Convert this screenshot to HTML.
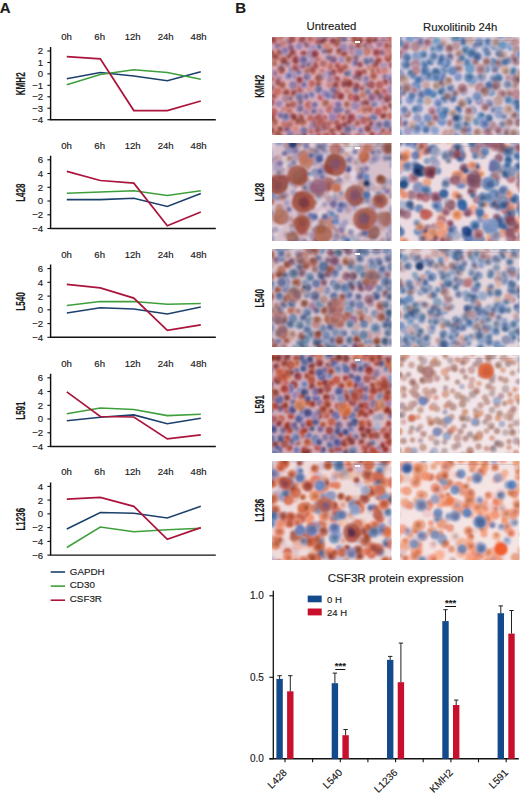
<!DOCTYPE html>
<html><head><meta charset="utf-8"><style>
html,body{margin:0;padding:0;background:#fff;width:520px;height:796px;overflow:hidden}
svg{display:block}
text{fill:#1a1a1a;stroke:#1a1a1a;stroke-width:0.15px;font-family:"Liberation Sans",sans-serif}
</style></head><body>
<svg width="520" height="796" viewBox="0 0 520 796">
<defs><filter id="bl" x="-5%" y="-5%" width="110%" height="110%"><feGaussianBlur stdDeviation="1.3"/></filter><filter id="bb" x="-10%" y="-10%" width="120%" height="120%"><feGaussianBlur stdDeviation="9"/></filter></defs>
<text x="-0.2" y="12.5" font-size="15" font-weight="bold" >A</text>
<text x="235.2" y="12.6" font-size="15" font-weight="bold" >B</text>
<text x="66.5" y="40.0" font-size="9.6" text-anchor="middle" >0h</text>
<text x="99.7" y="40.0" font-size="9.6" text-anchor="middle" >6h</text>
<text x="132.7" y="40.0" font-size="9.6" text-anchor="middle" >12h</text>
<text x="165.7" y="40.0" font-size="9.6" text-anchor="middle" >24h</text>
<text x="198.6" y="40.0" font-size="9.6" text-anchor="middle" >48h</text>
<path d="M50.6 47.0V119.7H215.8" fill="none" stroke="#111" stroke-width="1.45"/>
<path d="M47.4 51.0H50.6" stroke="#111" stroke-width="1.1"/>
<text x="43.2" y="54.4" font-size="9.6" text-anchor="end" >2</text>
<path d="M47.4 62.5H50.6" stroke="#111" stroke-width="1.1"/>
<text x="43.2" y="65.9" font-size="9.6" text-anchor="end" >1</text>
<path d="M47.4 73.9H50.6" stroke="#111" stroke-width="1.1"/>
<text x="43.2" y="77.3" font-size="9.6" text-anchor="end" >0</text>
<path d="M47.4 85.3H50.6" stroke="#111" stroke-width="1.1"/>
<text x="43.2" y="88.8" font-size="9.6" text-anchor="end" >−1</text>
<path d="M47.4 96.8H50.6" stroke="#111" stroke-width="1.1"/>
<text x="43.2" y="100.2" font-size="9.6" text-anchor="end" >−2</text>
<path d="M47.4 108.2H50.6" stroke="#111" stroke-width="1.1"/>
<text x="43.2" y="111.7" font-size="9.6" text-anchor="end" >−3</text>
<path d="M47.4 119.7H50.6" stroke="#111" stroke-width="1.1"/>
<text x="43.2" y="123.1" font-size="9.6" text-anchor="end" >−4</text>
<text transform="translate(25.2 83.8) rotate(-90) scale(0.64 1)" font-size="12.6" font-weight="bold" text-anchor="middle" >KMH2</text>
<polyline points="66.8,78.8 100.3,72.5 133.8,76.0 167.3,80.8 200.8,71.7" fill="none" stroke="#1c406c" stroke-width="1.55" stroke-linejoin="miter"/>
<polyline points="66.8,84.7 100.3,74.6 133.8,69.7 167.3,72.5 200.8,79.3" fill="none" stroke="#3ea03c" stroke-width="1.55" stroke-linejoin="miter"/>
<polyline points="66.8,56.7 100.3,58.8 133.8,110.5 167.3,110.5 200.8,101.0" fill="none" stroke="#ac143c" stroke-width="1.75" stroke-linejoin="miter"/>
<text x="66.5" y="148.8" font-size="9.6" text-anchor="middle" >0h</text>
<text x="99.7" y="148.8" font-size="9.6" text-anchor="middle" >6h</text>
<text x="132.7" y="148.8" font-size="9.6" text-anchor="middle" >12h</text>
<text x="165.7" y="148.8" font-size="9.6" text-anchor="middle" >24h</text>
<text x="198.6" y="148.8" font-size="9.6" text-anchor="middle" >48h</text>
<path d="M50.6 155.8V228.5H215.8" fill="none" stroke="#111" stroke-width="1.45"/>
<path d="M47.4 159.8H50.6" stroke="#111" stroke-width="1.1"/>
<text x="43.2" y="163.2" font-size="9.6" text-anchor="end" >6</text>
<path d="M47.4 173.5H50.6" stroke="#111" stroke-width="1.1"/>
<text x="43.2" y="176.9" font-size="9.6" text-anchor="end" >4</text>
<path d="M47.4 187.3H50.6" stroke="#111" stroke-width="1.1"/>
<text x="43.2" y="190.7" font-size="9.6" text-anchor="end" >2</text>
<path d="M47.4 201.0H50.6" stroke="#111" stroke-width="1.1"/>
<text x="43.2" y="204.4" font-size="9.6" text-anchor="end" >0</text>
<path d="M47.4 214.8H50.6" stroke="#111" stroke-width="1.1"/>
<text x="43.2" y="218.2" font-size="9.6" text-anchor="end" >−2</text>
<path d="M47.4 228.5H50.6" stroke="#111" stroke-width="1.1"/>
<text x="43.2" y="231.9" font-size="9.6" text-anchor="end" >−4</text>
<text transform="translate(25.2 192.7) rotate(-90) scale(0.64 1)" font-size="12.6" font-weight="bold" text-anchor="middle" >L428</text>
<polyline points="66.8,199.6 100.3,199.6 133.8,198.3 167.3,206.5 200.8,193.5" fill="none" stroke="#1c406c" stroke-width="1.55" stroke-linejoin="miter"/>
<polyline points="66.8,193.3 100.3,192.1 133.8,190.7 167.3,195.5 200.8,190.7" fill="none" stroke="#3ea03c" stroke-width="1.55" stroke-linejoin="miter"/>
<polyline points="66.8,171.3 100.3,180.5 133.8,183.2 167.3,225.8 200.8,212.0" fill="none" stroke="#ac143c" stroke-width="1.75" stroke-linejoin="miter"/>
<text x="66.5" y="257.6" font-size="9.6" text-anchor="middle" >0h</text>
<text x="99.7" y="257.6" font-size="9.6" text-anchor="middle" >6h</text>
<text x="132.7" y="257.6" font-size="9.6" text-anchor="middle" >12h</text>
<text x="165.7" y="257.6" font-size="9.6" text-anchor="middle" >24h</text>
<text x="198.6" y="257.6" font-size="9.6" text-anchor="middle" >48h</text>
<path d="M50.6 264.6V337.3H215.8" fill="none" stroke="#111" stroke-width="1.45"/>
<path d="M47.4 268.6H50.6" stroke="#111" stroke-width="1.1"/>
<text x="43.2" y="272.0" font-size="9.6" text-anchor="end" >6</text>
<path d="M47.4 282.3H50.6" stroke="#111" stroke-width="1.1"/>
<text x="43.2" y="285.7" font-size="9.6" text-anchor="end" >4</text>
<path d="M47.4 296.1H50.6" stroke="#111" stroke-width="1.1"/>
<text x="43.2" y="299.5" font-size="9.6" text-anchor="end" >2</text>
<path d="M47.4 309.8H50.6" stroke="#111" stroke-width="1.1"/>
<text x="43.2" y="313.2" font-size="9.6" text-anchor="end" >0</text>
<path d="M47.4 323.6H50.6" stroke="#111" stroke-width="1.1"/>
<text x="43.2" y="327.0" font-size="9.6" text-anchor="end" >−2</text>
<path d="M47.4 337.3H50.6" stroke="#111" stroke-width="1.1"/>
<text x="43.2" y="340.7" font-size="9.6" text-anchor="end" >−4</text>
<text transform="translate(25.2 301.5) rotate(-90) scale(0.64 1)" font-size="12.6" font-weight="bold" text-anchor="middle" >L540</text>
<polyline points="66.8,313.0 100.3,307.8 133.8,309.1 167.3,313.9 200.8,307.1" fill="none" stroke="#1c406c" stroke-width="1.55" stroke-linejoin="miter"/>
<polyline points="66.8,305.6 100.3,301.6 133.8,301.6 167.3,304.3 200.8,303.6" fill="none" stroke="#3ea03c" stroke-width="1.55" stroke-linejoin="miter"/>
<polyline points="66.8,284.3 100.3,287.8 133.8,298.1 167.3,330.4 200.8,324.9" fill="none" stroke="#ac143c" stroke-width="1.75" stroke-linejoin="miter"/>
<text x="66.5" y="366.8" font-size="9.6" text-anchor="middle" >0h</text>
<text x="99.7" y="366.8" font-size="9.6" text-anchor="middle" >6h</text>
<text x="132.7" y="366.8" font-size="9.6" text-anchor="middle" >12h</text>
<text x="165.7" y="366.8" font-size="9.6" text-anchor="middle" >24h</text>
<text x="198.6" y="366.8" font-size="9.6" text-anchor="middle" >48h</text>
<path d="M50.6 373.8V446.5H215.8" fill="none" stroke="#111" stroke-width="1.45"/>
<path d="M47.4 377.8H50.6" stroke="#111" stroke-width="1.1"/>
<text x="43.2" y="381.2" font-size="9.6" text-anchor="end" >6</text>
<path d="M47.4 391.5H50.6" stroke="#111" stroke-width="1.1"/>
<text x="43.2" y="394.9" font-size="9.6" text-anchor="end" >4</text>
<path d="M47.4 405.3H50.6" stroke="#111" stroke-width="1.1"/>
<text x="43.2" y="408.7" font-size="9.6" text-anchor="end" >2</text>
<path d="M47.4 419.0H50.6" stroke="#111" stroke-width="1.1"/>
<text x="43.2" y="422.4" font-size="9.6" text-anchor="end" >0</text>
<path d="M47.4 432.8H50.6" stroke="#111" stroke-width="1.1"/>
<text x="43.2" y="436.2" font-size="9.6" text-anchor="end" >−2</text>
<path d="M47.4 446.5H50.6" stroke="#111" stroke-width="1.1"/>
<text x="43.2" y="449.9" font-size="9.6" text-anchor="end" >−4</text>
<text transform="translate(25.2 410.6) rotate(-90) scale(0.64 1)" font-size="12.6" font-weight="bold" text-anchor="middle" >L591</text>
<polyline points="66.8,420.7 100.3,417.2 133.8,414.9 167.3,423.8 200.8,418.3" fill="none" stroke="#1c406c" stroke-width="1.55" stroke-linejoin="miter"/>
<polyline points="66.8,413.7 100.3,408.0 133.8,409.4 167.3,415.6 200.8,414.2" fill="none" stroke="#3ea03c" stroke-width="1.55" stroke-linejoin="miter"/>
<polyline points="66.8,391.9 100.3,416.5 133.8,417.0 167.3,438.9 200.8,434.8" fill="none" stroke="#ac143c" stroke-width="1.75" stroke-linejoin="miter"/>
<text x="66.5" y="475.4" font-size="9.6" text-anchor="middle" >0h</text>
<text x="99.7" y="475.4" font-size="9.6" text-anchor="middle" >6h</text>
<text x="132.7" y="475.4" font-size="9.6" text-anchor="middle" >12h</text>
<text x="165.7" y="475.4" font-size="9.6" text-anchor="middle" >24h</text>
<text x="198.6" y="475.4" font-size="9.6" text-anchor="middle" >48h</text>
<path d="M50.6 482.4V555.1H215.8" fill="none" stroke="#111" stroke-width="1.45"/>
<path d="M47.4 486.4H50.6" stroke="#111" stroke-width="1.1"/>
<text x="43.2" y="489.8" font-size="9.6" text-anchor="end" >4</text>
<path d="M47.4 500.1H50.6" stroke="#111" stroke-width="1.1"/>
<text x="43.2" y="503.5" font-size="9.6" text-anchor="end" >2</text>
<path d="M47.4 513.9H50.6" stroke="#111" stroke-width="1.1"/>
<text x="43.2" y="517.3" font-size="9.6" text-anchor="end" >0</text>
<path d="M47.4 527.6H50.6" stroke="#111" stroke-width="1.1"/>
<text x="43.2" y="531.0" font-size="9.6" text-anchor="end" >−2</text>
<path d="M47.4 541.4H50.6" stroke="#111" stroke-width="1.1"/>
<text x="43.2" y="544.8" font-size="9.6" text-anchor="end" >−4</text>
<path d="M47.4 555.1H50.6" stroke="#111" stroke-width="1.1"/>
<text x="43.2" y="558.5" font-size="9.6" text-anchor="end" >−6</text>
<text transform="translate(25.2 519.2) rotate(-90) scale(0.64 1)" font-size="12.6" font-weight="bold" text-anchor="middle" >L1236</text>
<polyline points="66.8,529.0 100.3,512.5 133.8,513.2 167.3,518.0 200.8,506.3" fill="none" stroke="#1c406c" stroke-width="1.55" stroke-linejoin="miter"/>
<polyline points="66.8,547.5 100.3,527.1 133.8,531.7 167.3,529.7 200.8,528.3" fill="none" stroke="#3ea03c" stroke-width="1.55" stroke-linejoin="miter"/>
<polyline points="66.8,499.1 100.3,497.5 133.8,506.3 167.3,539.3 200.8,527.6" fill="none" stroke="#ac143c" stroke-width="1.75" stroke-linejoin="miter"/>
<path d="M50.7 572.0H65.1" stroke="#1c406c" stroke-width="1.6"/>
<text x="69.8" y="574.9" font-size="9.8" >GAPDH</text>
<path d="M50.7 586.1H65.1" stroke="#3ea03c" stroke-width="1.6"/>
<text x="69.8" y="588.4" font-size="9.8" >CD30</text>
<path d="M50.7 600.2H65.1" stroke="#ac143c" stroke-width="1.6"/>
<text x="69.8" y="601.9" font-size="9.8" >CSF3R</text>
<text x="331.5" y="30.2" font-size="11.35" text-anchor="middle" >Untreated</text>
<text x="460.2" y="30.8" font-size="11.35" text-anchor="middle" >Ruxolitinib 24h</text>
<text transform="translate(264.4 86.3) rotate(-90) scale(0.68 1)" font-size="12" font-weight="bold" text-anchor="middle" >KMH2</text>
<clipPath id="c00"><rect x="272" y="37" width="119.5" height="98"/></clipPath>
<g clip-path="url(#c00)"><rect x="272" y="37" width="119.5" height="98" fill="#d6aab6"/><g filter="url(#bl)">
<g fill-opacity="0.88" stroke="#eec8cc" stroke-opacity="0.55" stroke-width="1.2">
<circle cx="289" cy="106" r="4.5" fill="#b2625e"/>
<circle cx="340" cy="51.5" r="4.5" fill="#b3605b"/>
<circle cx="274" cy="78" r="4" fill="#b65c59"/>
<circle cx="361" cy="119" r="4.5" fill="#7b7fbe"/>
<circle cx="300" cy="91" r="4.5" fill="#c46666"/>
<circle cx="287" cy="63.5" r="4.5" fill="#a57790"/>
<circle cx="399.5" cy="66.5" r="4" fill="#727eaa"/>
<circle cx="289" cy="41.5" r="4.5" fill="#9a6c88"/>
<circle cx="313.5" cy="59" r="4.5" fill="#8c8cba"/>
<circle cx="377" cy="93" r="4.5" fill="#b35e4f"/>
<circle cx="307" cy="33" r="4.5" fill="#c37d76"/>
<circle cx="310.5" cy="89" r="5" fill="#d28982"/>
<circle cx="292.5" cy="70.5" r="4.5" fill="#7a7dad"/>
<circle cx="329.5" cy="141.5" r="4.5" fill="#b96858"/>
<circle cx="390.5" cy="116" r="4" fill="#b76352"/>
<circle cx="363" cy="104" r="4.5" fill="#a27092"/>
<circle cx="274.5" cy="142" r="4" fill="#8789ba"/>
<circle cx="352.5" cy="50.5" r="4.5" fill="#a3718d"/>
<circle cx="266.5" cy="111.5" r="4.5" fill="#bf5e59"/>
<circle cx="297.5" cy="121.5" r="4.5" fill="#b7605a"/>
<circle cx="393.5" cy="45.5" r="4.5" fill="#a5718e"/>
<circle cx="396" cy="142" r="4" fill="#8782aa"/>
<circle cx="290.5" cy="97.5" r="4" fill="#a87790"/>
<circle cx="388" cy="52" r="5" fill="#c66d60"/>
<circle cx="322" cy="72.5" r="4" fill="#bd625b"/>
<circle cx="288" cy="56.5" r="4" fill="#af5c51"/>
<circle cx="332" cy="105.5" r="4" fill="#d08281"/>
<circle cx="365" cy="46" r="4" fill="#a57895"/>
<circle cx="280" cy="38" r="4" fill="#bc665c"/>
<circle cx="266" cy="47" r="4.5" fill="#9f4f53"/>
<circle cx="295" cy="76" r="4" fill="#9984ad"/>
<circle cx="299" cy="72" r="4" fill="#9685ba"/>
<circle cx="370.5" cy="66.5" r="4.5" fill="#c2746d"/>
<circle cx="354" cy="144" r="5" fill="#9481b4"/>
<circle cx="313" cy="48.5" r="4.5" fill="#9c86c0"/>
<circle cx="266.5" cy="35" r="4" fill="#bc685c"/>
<circle cx="363.5" cy="72.5" r="4.5" fill="#c87774"/>
<circle cx="318.5" cy="61.5" r="4.5" fill="#b9625f"/>
<circle cx="385.5" cy="77" r="4" fill="#8c81b5"/>
<circle cx="296" cy="31" r="5" fill="#b45d52"/>
<circle cx="371.5" cy="122.5" r="4.5" fill="#9f4446"/>
<circle cx="369.5" cy="48" r="4.5" fill="#a6779b"/>
<circle cx="397.5" cy="51" r="4" fill="#8476aa"/>
<circle cx="369" cy="144" r="5" fill="#c3655c"/>
<circle cx="378.5" cy="61" r="4.5" fill="#ba5d59"/>
<circle cx="369.5" cy="119" r="4" fill="#c17673"/>
<circle cx="280" cy="130" r="4.5" fill="#a95a4b"/>
<circle cx="284.5" cy="111" r="5" fill="#c97d7a"/>
<circle cx="329.5" cy="73.5" r="4.5" fill="#9f8cbe"/>
<circle cx="278.5" cy="79.5" r="4" fill="#a06e95"/>
<circle cx="384.5" cy="92" r="4" fill="#b6575d"/>
<circle cx="363" cy="88.5" r="4" fill="#bb625e"/>
<circle cx="303" cy="122" r="4.5" fill="#be6c5f"/>
<circle cx="281" cy="67.5" r="4.5" fill="#9685ad"/>
<circle cx="272" cy="130.5" r="4.5" fill="#af5b53"/>
<circle cx="340.5" cy="109.5" r="4" fill="#7e85ba"/>
<circle cx="272" cy="53" r="4" fill="#c66663"/>
<circle cx="366.5" cy="83.5" r="4.5" fill="#b089a6"/>
<circle cx="278" cy="46.5" r="4.5" fill="#9d88b9"/>
<circle cx="277" cy="32" r="4" fill="#8e80af"/>
<circle cx="367" cy="61" r="4.5" fill="#7380b0"/>
<circle cx="280" cy="52.5" r="4.5" fill="#b15a54"/>
<circle cx="371" cy="85" r="5" fill="#a14f52"/>
<circle cx="302.5" cy="40.5" r="5" fill="#98474e"/>
<circle cx="338.5" cy="40" r="5" fill="#c58277"/>
<circle cx="337" cy="31" r="4.5" fill="#a15049"/>
<circle cx="281" cy="70" r="5" fill="#b65f56"/>
<circle cx="347.5" cy="73.5" r="4.5" fill="#7b81af"/>
<circle cx="385.5" cy="82" r="4" fill="#b5555d"/>
<circle cx="393" cy="82.5" r="4.5" fill="#b35f63"/>
<circle cx="391.5" cy="105" r="4.5" fill="#b0575b"/>
<circle cx="390.5" cy="39" r="4.5" fill="#c2665e"/>
<circle cx="300" cy="143.5" r="4" fill="#9f89b5"/>
<circle cx="355.5" cy="33" r="4" fill="#8579a9"/>
<circle cx="300.5" cy="117.5" r="4.5" fill="#b3645e"/>
<circle cx="330" cy="123" r="4" fill="#cf8379"/>
<circle cx="334" cy="95.5" r="4.5" fill="#ab789c"/>
<circle cx="343.5" cy="125.5" r="4.5" fill="#b4545e"/>
<circle cx="359.5" cy="78" r="4" fill="#a57e95"/>
<circle cx="266.5" cy="61" r="4.5" fill="#9f6a8f"/>
<circle cx="343.5" cy="38.5" r="4.5" fill="#8d82af"/>
<circle cx="393" cy="97.5" r="5" fill="#8e78ac"/>
<circle cx="320" cy="112.5" r="4.5" fill="#b283a5"/>
<circle cx="291" cy="34.5" r="4.5" fill="#b65858"/>
<circle cx="311.5" cy="95" r="4" fill="#8689bf"/>
<circle cx="330" cy="109.5" r="5" fill="#bb6467"/>
<circle cx="359.5" cy="108.5" r="4" fill="#bc6f67"/>
<circle cx="315" cy="66" r="5" fill="#bb6763"/>
<circle cx="336.5" cy="80" r="4.5" fill="#9e474c"/>
<circle cx="310.5" cy="54" r="4.5" fill="#8a80b1"/>
<circle cx="290.5" cy="48.5" r="5" fill="#a37093"/>
<circle cx="287.5" cy="141" r="4.5" fill="#8e7aae"/>
<circle cx="351.5" cy="47.5" r="4" fill="#a57a96"/>
<circle cx="342" cy="59.5" r="4" fill="#9987bc"/>
<circle cx="379.5" cy="85" r="4.5" fill="#b35b59"/>
<circle cx="320.5" cy="46" r="4.5" fill="#7679a9"/>
<circle cx="308.5" cy="64.5" r="4" fill="#9178a9"/>
<circle cx="348" cy="90" r="4.5" fill="#c47c74"/>
<circle cx="383.5" cy="115.5" r="4" fill="#a34844"/>
<circle cx="294" cy="92.5" r="4.5" fill="#ad5656"/>
<circle cx="373.5" cy="71" r="4" fill="#c57b68"/>
<circle cx="324" cy="118.5" r="4" fill="#b05053"/>
<circle cx="355" cy="105.5" r="5" fill="#9583b3"/>
<circle cx="336.5" cy="91" r="4.5" fill="#b35b59"/>
<circle cx="366.5" cy="51.5" r="5" fill="#c07a6d"/>
<circle cx="382" cy="144" r="4.5" fill="#a94953"/>
<circle cx="388.5" cy="143" r="5" fill="#8b7ba8"/>
<circle cx="335.5" cy="85.5" r="4.5" fill="#b45550"/>
<circle cx="359.5" cy="64.5" r="4" fill="#b45852"/>
<circle cx="330" cy="84.5" r="4" fill="#c56e63"/>
<circle cx="313.5" cy="137.5" r="4.5" fill="#8483ba"/>
<circle cx="270.5" cy="87" r="5" fill="#928bb5"/>
<circle cx="358.5" cy="46" r="4" fill="#a65752"/>
<circle cx="384.5" cy="101.5" r="4" fill="#9581b5"/>
<circle cx="396" cy="124" r="5" fill="#c48171"/>
<circle cx="303.5" cy="54" r="4" fill="#b35251"/>
<circle cx="324.5" cy="50.5" r="4" fill="#887baa"/>
<circle cx="397.5" cy="37.5" r="4.5" fill="#a67296"/>
<circle cx="292.5" cy="53" r="4.5" fill="#a85259"/>
<circle cx="272.5" cy="117" r="5" fill="#b8595c"/>
<circle cx="275.5" cy="57.5" r="5" fill="#b65f5a"/>
<circle cx="272.5" cy="89" r="4" fill="#b85c5c"/>
<circle cx="286" cy="92.5" r="4.5" fill="#ae564f"/>
<circle cx="307" cy="45" r="4" fill="#9f728a"/>
<circle cx="296" cy="67.5" r="4.5" fill="#a65050"/>
<circle cx="333" cy="72" r="4.5" fill="#b1555b"/>
<circle cx="398" cy="114" r="4.5" fill="#bc685d"/>
<circle cx="289.5" cy="112" r="4" fill="#bd6962"/>
<circle cx="318" cy="130" r="4.5" fill="#ae5355"/>
<circle cx="362" cy="138" r="4.5" fill="#9b434f"/>
<circle cx="336.5" cy="122.5" r="4.5" fill="#bd655d"/>
<circle cx="281.5" cy="85" r="5" fill="#be685c"/>
<circle cx="348" cy="112" r="4" fill="#a77593"/>
<circle cx="318.5" cy="117" r="4" fill="#a85154"/>
<circle cx="303.5" cy="136.5" r="4.5" fill="#a14e53"/>
<circle cx="366" cy="79" r="4" fill="#9c8bb9"/>
<circle cx="392.5" cy="64.5" r="4.5" fill="#a44951"/>
<circle cx="269.5" cy="98" r="5" fill="#9986b7"/>
<circle cx="299.5" cy="101.5" r="5" fill="#a77e9b"/>
<circle cx="296" cy="60" r="5" fill="#a84b54"/>
<circle cx="397" cy="104" r="4" fill="#ac544e"/>
<circle cx="385.5" cy="33" r="4.5" fill="#a57598"/>
<circle cx="277.5" cy="134.5" r="5" fill="#bd6655"/>
<circle cx="388" cy="58.5" r="4.5" fill="#b6615b"/>
<circle cx="375" cy="64" r="5" fill="#b35f5a"/>
<circle cx="367.5" cy="93" r="5" fill="#968db7"/>
<circle cx="321" cy="97" r="4" fill="#b5535f"/>
<circle cx="338.5" cy="140.5" r="4" fill="#a35156"/>
<circle cx="337.5" cy="65.5" r="4" fill="#be5d5a"/>
<circle cx="338" cy="105" r="4.5" fill="#957fb8"/>
<circle cx="353" cy="127" r="4" fill="#877da4"/>
<circle cx="361" cy="130.5" r="4" fill="#9a86bb"/>
<circle cx="267" cy="134.5" r="5" fill="#897ca6"/>
<circle cx="339" cy="127.5" r="5" fill="#ac5055"/>
<circle cx="394" cy="108" r="4.5" fill="#a47b9a"/>
<circle cx="338" cy="115.5" r="4" fill="#ae5257"/>
<circle cx="299" cy="85.5" r="4.5" fill="#be645f"/>
<circle cx="358" cy="137.5" r="4.5" fill="#a74c4c"/>
<circle cx="351.5" cy="97" r="4.5" fill="#b3584c"/>
<circle cx="383" cy="131.5" r="5" fill="#9a494b"/>
<circle cx="397.5" cy="89.5" r="5" fill="#8776a2"/>
<circle cx="333" cy="41.5" r="4.5" fill="#b04f5c"/>
<circle cx="379.5" cy="70.5" r="4" fill="#bd5e5b"/>
<circle cx="304" cy="85" r="4" fill="#8c81b8"/>
<circle cx="319" cy="136.5" r="4.5" fill="#bd5d62"/>
<circle cx="376.5" cy="127" r="5" fill="#8a89c3"/>
<circle cx="378" cy="143" r="4.5" fill="#a85855"/>
<circle cx="355" cy="58" r="4.5" fill="#a87c96"/>
<circle cx="273.5" cy="112.5" r="5" fill="#b95a5c"/>
<circle cx="357.5" cy="123" r="4" fill="#bf6e6b"/>
<circle cx="366.5" cy="102.5" r="4.5" fill="#ae5d56"/>
<circle cx="329" cy="50" r="4.5" fill="#b15c59"/>
<circle cx="384.5" cy="108.5" r="4" fill="#c9736c"/>
<circle cx="300" cy="108.5" r="4.5" fill="#8976a5"/>
<circle cx="305" cy="96.5" r="4.5" fill="#8f76ac"/>
<circle cx="355.5" cy="89" r="5" fill="#827db3"/>
<circle cx="391.5" cy="129" r="4.5" fill="#ab7692"/>
<circle cx="310.5" cy="130.5" r="4" fill="#ba5b55"/>
<circle cx="344" cy="135" r="4.5" fill="#aa5555"/>
<circle cx="383" cy="41" r="4" fill="#9d7393"/>
<circle cx="325.5" cy="103" r="4.5" fill="#b97164"/>
<circle cx="364" cy="120.5" r="4.5" fill="#b3605c"/>
<circle cx="379" cy="125" r="4.5" fill="#9382a8"/>
<circle cx="348.5" cy="121.5" r="4" fill="#a14f52"/>
<circle cx="268" cy="123" r="4.5" fill="#aa779c"/>
<circle cx="298" cy="137" r="4" fill="#9d4649"/>
<circle cx="295" cy="130" r="4.5" fill="#d18278"/>
<circle cx="349" cy="59.5" r="4.5" fill="#c07a6e"/>
<circle cx="313.5" cy="111" r="4" fill="#8a77a4"/>
<circle cx="374" cy="104" r="4.5" fill="#888ebf"/>
<circle cx="382" cy="52.5" r="4" fill="#a47694"/>
<circle cx="330" cy="79.5" r="4" fill="#ac7f9c"/>
<circle cx="328" cy="95" r="5" fill="#838bc3"/>
<circle cx="314" cy="31" r="4" fill="#b17ca4"/>
<circle cx="312" cy="70.5" r="5" fill="#bb5f5a"/>
<circle cx="274.5" cy="95.5" r="4" fill="#b65e60"/>
<circle cx="380" cy="97" r="4.5" fill="#a37499"/>
<circle cx="355.5" cy="63" r="4" fill="#887cad"/>
<circle cx="309" cy="105.5" r="5" fill="#be5d56"/>
<circle cx="333" cy="90" r="4.5" fill="#8e7fb1"/>
<circle cx="307" cy="71" r="4.5" fill="#c27e74"/>
<circle cx="326" cy="35.5" r="4.5" fill="#7576ae"/>
<circle cx="345.5" cy="80.5" r="4.5" fill="#d27d7b"/>
<circle cx="375" cy="39.5" r="4" fill="#a34d56"/>
<circle cx="340" cy="33.5" r="5" fill="#ad5b52"/>
<circle cx="329" cy="59" r="5" fill="#9484ab"/>
<circle cx="323" cy="40" r="5" fill="#9d494d"/>
<circle cx="302.5" cy="65.5" r="4" fill="#a17196"/>
<circle cx="288.5" cy="76" r="4" fill="#8181c0"/>
<circle cx="359.5" cy="140" r="4" fill="#9889b6"/>
<circle cx="307" cy="77" r="4.5" fill="#8d7baa"/>
<circle cx="347" cy="104.5" r="4" fill="#bc7469"/>
<circle cx="281.5" cy="143.5" r="4" fill="#c97f76"/>
<circle cx="344" cy="118" r="4" fill="#c06d67"/>
<circle cx="362" cy="32" r="4.5" fill="#a55350"/>
<circle cx="352" cy="32.5" r="5" fill="#b35a55"/>
<circle cx="374" cy="116.5" r="4.5" fill="#7b84bc"/>
<circle cx="386.5" cy="46" r="4" fill="#bf6761"/>
<circle cx="332.5" cy="117" r="4.5" fill="#937aaf"/>
<circle cx="282.5" cy="44.5" r="4.5" fill="#c17674"/>
<circle cx="318" cy="40.5" r="4.5" fill="#a24e55"/>
<circle cx="337" cy="43.5" r="4.5" fill="#bb6b61"/>
<circle cx="344" cy="53" r="4.5" fill="#b45b54"/>
<circle cx="332" cy="131.5" r="4.5" fill="#b35f56"/>
<circle cx="356.5" cy="98" r="4.5" fill="#a9505a"/>
<circle cx="299.5" cy="97" r="5" fill="#8e86b0"/>
<circle cx="356" cy="86.5" r="5" fill="#ae5d63"/>
<circle cx="340.5" cy="96" r="4.5" fill="#aa4d51"/>
<circle cx="376.5" cy="52.5" r="4.5" fill="#af5158"/>
<circle cx="281" cy="115" r="4" fill="#8c7aad"/>
<circle cx="393" cy="31" r="4.5" fill="#996a8b"/>
<circle cx="294.5" cy="140.5" r="4.5" fill="#858dbf"/>
<circle cx="315" cy="143.5" r="4" fill="#ca7a75"/>
<circle cx="293" cy="117" r="4.5" fill="#9d494b"/>
<circle cx="336.5" cy="110" r="4.5" fill="#9b84b7"/>
<circle cx="285.5" cy="99" r="4" fill="#a87f95"/>
<circle cx="379.5" cy="44.5" r="4" fill="#a57295"/>
<circle cx="321.5" cy="123" r="4.5" fill="#c16a5c"/>
<circle cx="384" cy="67" r="4.5" fill="#9889bb"/>
<circle cx="287.5" cy="129" r="4.5" fill="#a46a90"/>
<circle cx="274" cy="63" r="4" fill="#c77c6e"/>
<circle cx="308.5" cy="143.5" r="5" fill="#b07c9d"/>
<circle cx="290.5" cy="135" r="5" fill="#8d7fae"/>
<circle cx="313" cy="125" r="4.5" fill="#9083b3"/>
<circle cx="348.5" cy="138" r="5" fill="#ae5657"/>
<circle cx="397" cy="76" r="4.5" fill="#8f8dc2"/>
<circle cx="391.5" cy="89.5" r="4.5" fill="#9680b2"/>
<circle cx="344.5" cy="84" r="4.5" fill="#a7545b"/>
<circle cx="394.5" cy="134" r="5" fill="#7379b4"/>
<circle cx="393" cy="56.5" r="5" fill="#bd675e"/>
<circle cx="326.5" cy="46.5" r="4" fill="#cb8776"/>
<circle cx="318" cy="83.5" r="4.5" fill="#ac544d"/>
<circle cx="293" cy="104.5" r="4" fill="#b15d58"/>
<circle cx="310.5" cy="118" r="4" fill="#b75b54"/>
<circle cx="312" cy="83.5" r="4" fill="#bb6058"/>
<circle cx="359" cy="40" r="5" fill="#b35652"/>
<circle cx="396" cy="72" r="4.5" fill="#ab5550"/>
<circle cx="384.5" cy="70.5" r="4" fill="#ce807c"/>
<circle cx="322" cy="76.5" r="4.5" fill="#9c8cb4"/>
<circle cx="355.5" cy="77" r="4" fill="#a47591"/>
<circle cx="318.5" cy="89.5" r="5" fill="#8982af"/>
<circle cx="325" cy="141.5" r="4.5" fill="#b37c9a"/>
<circle cx="365" cy="110" r="4.5" fill="#c7776d"/>
<circle cx="329.5" cy="66" r="4" fill="#b76051"/>
<circle cx="391" cy="78" r="4.5" fill="#9c8eb8"/>
<circle cx="398.5" cy="130" r="4" fill="#797eae"/>
<circle cx="290.5" cy="123.5" r="4.5" fill="#cf827d"/>
<circle cx="371.5" cy="33.5" r="5" fill="#b05857"/>
<circle cx="323.5" cy="64" r="5" fill="#cd8384"/>
<circle cx="343.5" cy="47.5" r="4.5" fill="#9480b4"/>
<circle cx="306.5" cy="112" r="4" fill="#ac7e9d"/>
<circle cx="315" cy="54" r="4.5" fill="#9c4552"/>
<circle cx="373.5" cy="76" r="4.5" fill="#bf6b62"/>
<circle cx="292.5" cy="39" r="4.5" fill="#bc6361"/>
<circle cx="368" cy="128.5" r="4.5" fill="#a45758"/>
<circle cx="387" cy="124" r="5" fill="#7b80b2"/>
<circle cx="369" cy="40.5" r="4.5" fill="#a95455"/>
<circle cx="303.5" cy="131" r="5" fill="#9286b2"/>
<circle cx="273.5" cy="40" r="4.5" fill="#b55756"/>
<circle cx="281" cy="137.5" r="4" fill="#a7514f"/>
<circle cx="349" cy="83.5" r="5" fill="#a64c4a"/>
<circle cx="344.5" cy="140" r="4.5" fill="#ae554d"/>
<circle cx="388" cy="134.5" r="4.5" fill="#cb7a75"/>
<circle cx="359" cy="52.5" r="4.5" fill="#8a87b9"/>
<circle cx="299.5" cy="80" r="4" fill="#a44b55"/>
<circle cx="372" cy="97.5" r="5" fill="#a47399"/>
<circle cx="355" cy="39.5" r="4.5" fill="#bb6958"/>
<circle cx="323" cy="128.5" r="4" fill="#9b7089"/>
<circle cx="283.5" cy="60.5" r="4.5" fill="#a95553"/>
<circle cx="272" cy="102.5" r="4" fill="#af575c"/>
<circle cx="372.5" cy="135" r="4" fill="#b45954"/>
<circle cx="378" cy="32" r="4.5" fill="#b8809f"/>
<circle cx="303.5" cy="60" r="5" fill="#857aad"/>
<circle cx="333.5" cy="59.5" r="4.5" fill="#a57097"/>
<circle cx="314.5" cy="105" r="4" fill="#9081b2"/>
<circle cx="345" cy="67" r="4" fill="#be685e"/>
<circle cx="293" cy="85" r="4.5" fill="#8877a4"/>
<circle cx="333.5" cy="137" r="4.5" fill="#a84e56"/>
<circle cx="387.5" cy="98.5" r="5" fill="#ab5a5f"/>
<circle cx="277.5" cy="91.5" r="4.5" fill="#c56a60"/>
<circle cx="351.5" cy="118" r="5" fill="#ac515f"/>
<circle cx="283" cy="33" r="4.5" fill="#a45050"/>
<circle cx="320" cy="34.5" r="4.5" fill="#9183b7"/>
<circle cx="311" cy="39.5" r="4.5" fill="#d38080"/>
<circle cx="299" cy="46.5" r="4" fill="#937fb6"/>
<circle cx="274.5" cy="73" r="4" fill="#b084a5"/>
<circle cx="284.5" cy="51" r="4.5" fill="#9786ba"/>
<circle cx="379" cy="137" r="4.5" fill="#a8739b"/>
<circle cx="284.5" cy="124" r="4" fill="#c66c63"/>
<circle cx="325" cy="93.5" r="4" fill="#9784bb"/>
<circle cx="319" cy="78" r="5" fill="#bc6a64"/>
<circle cx="378" cy="111.5" r="4.5" fill="#bb5c60"/>
<circle cx="268" cy="74" r="4.5" fill="#a190bf"/>
<circle cx="279" cy="104" r="4" fill="#9780b3"/>
<circle cx="326" cy="136" r="4.5" fill="#bd5e60"/>
<circle cx="347.5" cy="129.5" r="5" fill="#887aa3"/>
<circle cx="285.5" cy="117" r="4.5" fill="#817db2"/>
<circle cx="278" cy="82.5" r="4" fill="#ba685e"/>
<circle cx="358.5" cy="73.5" r="4.5" fill="#ae5059"/>
<circle cx="340.5" cy="69.5" r="5" fill="#c76762"/>
<circle cx="371" cy="60.5" r="4" fill="#978cb9"/>
<circle cx="363" cy="95" r="4" fill="#bc776b"/>
<circle cx="370" cy="109" r="4.5" fill="#cd7b76"/>
<circle cx="274.5" cy="122.5" r="4.5" fill="#c27061"/>
</g>
<g fill-opacity="0.88"><circle cx="288" cy="105.5" r="2" fill="#8e4e4b"/><circle cx="339" cy="50.5" r="2.5" fill="#8f4d49"/><circle cx="300" cy="90.5" r="2" fill="#9d5252"/><circle cx="286.5" cy="63" r="2" fill="#845f73"/><circle cx="399" cy="65.5" r="2" fill="#5b6588"/><circle cx="290" cy="42" r="2" fill="#7b566d"/><circle cx="377.5" cy="93" r="2.5" fill="#8f4b3f"/><circle cx="306.5" cy="33.5" r="2" fill="#9c645e"/><circle cx="329" cy="141" r="2.5" fill="#945346"/><circle cx="363" cy="103.5" r="2" fill="#825a75"/><circle cx="274.5" cy="141" r="2" fill="#6c6e95"/><circle cx="267" cy="111.5" r="2.5" fill="#994b47"/><circle cx="298" cy="121" r="2.5" fill="#924d48"/><circle cx="392.5" cy="46" r="2.5" fill="#845a72"/><circle cx="396" cy="141.5" r="2" fill="#6c6888"/><circle cx="290" cy="98.5" r="2" fill="#865f73"/><circle cx="289" cy="56" r="2" fill="#8c4a41"/><circle cx="365" cy="45.5" r="2" fill="#846077"/><circle cx="267" cy="46.5" r="2.5" fill="#7f3f42"/><circle cx="298.5" cy="72" r="2" fill="#786a95"/><circle cx="355" cy="144" r="2.5" fill="#766790"/><circle cx="267.5" cy="36" r="2" fill="#96534a"/><circle cx="364" cy="71.5" r="2.5" fill="#a05f5d"/><circle cx="385" cy="76.5" r="2" fill="#706791"/><circle cx="296" cy="32" r="2.5" fill="#904a42"/><circle cx="371" cy="123.5" r="2" fill="#7f3638"/><circle cx="368.5" cy="143" r="2.5" fill="#9c514a"/><circle cx="378" cy="60.5" r="2.5" fill="#954a47"/><circle cx="369.5" cy="119" r="2" fill="#9a5e5c"/><circle cx="280.5" cy="129" r="2.5" fill="#87483c"/><circle cx="330.5" cy="73.5" r="2.5" fill="#7f7098"/><circle cx="278" cy="80.5" r="2" fill="#805877"/><circle cx="362" cy="88.5" r="2" fill="#964e4b"/><circle cx="302.5" cy="121" r="2.5" fill="#98564c"/><circle cx="281.5" cy="67.5" r="2.5" fill="#786a8a"/><circle cx="271.5" cy="131" r="2.5" fill="#8c4942"/><circle cx="340" cy="110" r="2" fill="#656a95"/><circle cx="272.5" cy="53" r="2" fill="#9e524f"/><circle cx="367" cy="84" r="2" fill="#8d6e85"/><circle cx="277.5" cy="45.5" r="2.5" fill="#7e6d94"/><circle cx="277" cy="32" r="2" fill="#72668c"/><circle cx="367" cy="61.5" r="2.5" fill="#5c668d"/><circle cx="279.5" cy="52.5" r="2" fill="#8e4843"/><circle cx="338.5" cy="40" r="2.5" fill="#9e685f"/><circle cx="282" cy="69.5" r="2.5" fill="#924c45"/><circle cx="346.5" cy="73.5" r="2.5" fill="#62678c"/><circle cx="386" cy="81.5" r="2" fill="#91444a"/><circle cx="392" cy="82.5" r="2" fill="#8f4c4f"/><circle cx="391" cy="105.5" r="2.5" fill="#8d4649"/><circle cx="300" cy="143" r="2" fill="#7f6e91"/><circle cx="356" cy="33" r="2" fill="#6a6187"/><circle cx="301.5" cy="117.5" r="2" fill="#8f504b"/><circle cx="330.5" cy="122.5" r="2" fill="#a66961"/><circle cx="334" cy="96.5" r="2.5" fill="#89607d"/><circle cx="344.5" cy="124.5" r="2.5" fill="#90434b"/><circle cx="359" cy="78" r="2" fill="#846577"/><circle cx="344" cy="39" r="2.5" fill="#71688c"/><circle cx="393.5" cy="97.5" r="2.5" fill="#72608a"/><circle cx="291.5" cy="34" r="2.5" fill="#924646"/><circle cx="311.5" cy="94.5" r="2" fill="#6b6e99"/><circle cx="315.5" cy="66" r="2.5" fill="#96524f"/><circle cx="291" cy="48" r="2.5" fill="#825a76"/><circle cx="287" cy="140.5" r="2.5" fill="#72628b"/><circle cx="319.5" cy="46.5" r="2" fill="#5e6187"/><circle cx="308" cy="65" r="2" fill="#746087"/><circle cx="382.5" cy="116" r="2" fill="#823a36"/><circle cx="294" cy="93" r="2" fill="#8a4545"/><circle cx="372.5" cy="70.5" r="2" fill="#9e6253"/><circle cx="336" cy="92" r="2" fill="#8f4947"/><circle cx="382" cy="143.5" r="2" fill="#873a42"/><circle cx="389" cy="142.5" r="2.5" fill="#6f6286"/><circle cx="335" cy="85" r="2.5" fill="#904440"/><circle cx="359.5" cy="64.5" r="2" fill="#904642"/><circle cx="313.5" cy="138.5" r="2" fill="#6a6995"/><circle cx="270" cy="87.5" r="2.5" fill="#756f91"/><circle cx="358" cy="45.5" r="2" fill="#854642"/><circle cx="304" cy="53" r="2" fill="#8f4241"/><circle cx="325" cy="51" r="2" fill="#6d6288"/><circle cx="292" cy="52.5" r="2" fill="#864247"/><circle cx="272.5" cy="118" r="2.5" fill="#93474a"/><circle cx="275" cy="57" r="2.5" fill="#924c48"/><circle cx="286.5" cy="93" r="2" fill="#8b453f"/><circle cx="306" cy="44" r="2" fill="#7f5b6e"/><circle cx="334" cy="71.5" r="2" fill="#8e4449"/><circle cx="317.5" cy="129.5" r="2.5" fill="#8b4244"/><circle cx="336.5" cy="122" r="2" fill="#97514a"/><circle cx="282" cy="85" r="2.5" fill="#98534a"/><circle cx="347" cy="112.5" r="2" fill="#865e76"/><circle cx="304.5" cy="135.5" r="2.5" fill="#813e42"/><circle cx="366.5" cy="78.5" r="2" fill="#7d6f94"/><circle cx="268.5" cy="99" r="2.5" fill="#7a6b92"/><circle cx="300.5" cy="102" r="2.5" fill="#86657c"/><circle cx="296" cy="60.5" r="2.5" fill="#863c43"/><circle cx="398" cy="104" r="2" fill="#8a433e"/><circle cx="385.5" cy="34" r="2.5" fill="#845e7a"/><circle cx="278" cy="134" r="2.5" fill="#975244"/><circle cx="388.5" cy="59.5" r="2" fill="#924e49"/><circle cx="376" cy="63.5" r="2.5" fill="#8f4c48"/><circle cx="368" cy="92" r="2.5" fill="#787192"/><circle cx="338" cy="141" r="2" fill="#824145"/><circle cx="337.5" cy="66" r="2" fill="#984a48"/><circle cx="338.5" cy="105" r="2.5" fill="#776693"/><circle cx="360.5" cy="131" r="2" fill="#7b6b96"/><circle cx="267.5" cy="135" r="2.5" fill="#6e6385"/><circle cx="338.5" cy="127.5" r="2.5" fill="#8a4044"/><circle cx="393" cy="107.5" r="2.5" fill="#83627b"/><circle cx="333.5" cy="41" r="2.5" fill="#8d3f4a"/><circle cx="304" cy="84" r="2" fill="#706793"/><circle cx="318.5" cy="137" r="2" fill="#974a4e"/><circle cx="356" cy="58" r="2.5" fill="#866378"/><circle cx="357.5" cy="123" r="2" fill="#995856"/><circle cx="367" cy="103" r="2.5" fill="#8b4a45"/><circle cx="329" cy="51" r="2" fill="#8e4a47"/><circle cx="385" cy="108" r="2" fill="#a15c56"/><circle cx="301" cy="109" r="2" fill="#6e5e84"/><circle cx="306" cy="96.5" r="2" fill="#725e8a"/><circle cx="356" cy="90" r="2.5" fill="#68648f"/><circle cx="391" cy="129.5" r="2.5" fill="#895e75"/><circle cx="343.5" cy="135.5" r="2.5" fill="#884444"/><circle cx="326" cy="102.5" r="2" fill="#945a50"/><circle cx="379.5" cy="124.5" r="2.5" fill="#766886"/><circle cx="349" cy="122" r="2" fill="#813f42"/><circle cx="268" cy="123" r="2" fill="#885f7d"/><circle cx="348.5" cy="59" r="2.5" fill="#9a6258"/><circle cx="313.5" cy="111" r="2" fill="#6e5f83"/><circle cx="373.5" cy="104.5" r="2" fill="#6d7299"/><circle cx="381.5" cy="52.5" r="2" fill="#835e76"/><circle cx="327.5" cy="95" r="2.5" fill="#696f9c"/><circle cx="313.5" cy="30" r="2" fill="#8e6383"/><circle cx="312" cy="70" r="2.5" fill="#964c48"/><circle cx="273.5" cy="96" r="2" fill="#924b4d"/><circle cx="380.5" cy="96.5" r="2.5" fill="#825d7a"/><circle cx="356" cy="63" r="2" fill="#6d638a"/><circle cx="333.5" cy="90" r="2" fill="#72668e"/><circle cx="307" cy="71" r="2" fill="#9b655d"/><circle cx="345.5" cy="80.5" r="2" fill="#a86462"/><circle cx="375" cy="40" r="2" fill="#823e45"/><circle cx="339.5" cy="32.5" r="2.5" fill="#8a4942"/><circle cx="329.5" cy="58" r="2.5" fill="#766a89"/><circle cx="322.5" cy="41" r="2.5" fill="#7e3a3e"/><circle cx="303.5" cy="66" r="2" fill="#815a78"/><circle cx="289.5" cy="75.5" r="2" fill="#67679a"/><circle cx="358.5" cy="140.5" r="2" fill="#7a6e92"/><circle cx="306" cy="77.5" r="2" fill="#716288"/><circle cx="346.5" cy="104" r="2" fill="#965d54"/><circle cx="281.5" cy="144" r="2" fill="#a1665e"/><circle cx="343.5" cy="118" r="2" fill="#9a5752"/><circle cx="351" cy="32.5" r="2.5" fill="#8f4844"/><circle cx="374" cy="117.5" r="2" fill="#626a96"/><circle cx="387" cy="45" r="2" fill="#99524e"/><circle cx="337.5" cy="44" r="2" fill="#96564e"/><circle cx="344" cy="53.5" r="2" fill="#904943"/><circle cx="332" cy="131" r="2" fill="#8f4c45"/><circle cx="357.5" cy="98" r="2" fill="#874048"/><circle cx="299.5" cy="97.5" r="2.5" fill="#726b8d"/><circle cx="356.5" cy="86" r="2.5" fill="#8b4a4f"/><circle cx="341" cy="96.5" r="2.5" fill="#883e41"/><circle cx="376.5" cy="52.5" r="2" fill="#8c4146"/><circle cx="280.5" cy="116" r="2" fill="#70628a"/><circle cx="393.5" cy="31" r="2.5" fill="#7a556f"/><circle cx="293.5" cy="141" r="2.5" fill="#6a7199"/><circle cx="316" cy="142.5" r="2" fill="#a2625e"/><circle cx="294" cy="117.5" r="2.5" fill="#7e3a3c"/><circle cx="336.5" cy="110.5" r="2.5" fill="#7c6a92"/><circle cx="287" cy="129" r="2.5" fill="#835573"/><circle cx="275" cy="64" r="2" fill="#9f6358"/><circle cx="308" cy="142.5" r="2.5" fill="#8d637e"/><circle cx="289.5" cy="136" r="2.5" fill="#71668b"/><circle cx="348.5" cy="137" r="2.5" fill="#8b4546"/><circle cx="397" cy="76.5" r="2.5" fill="#72719b"/><circle cx="345" cy="84" r="2.5" fill="#864349"/><circle cx="395" cy="134.5" r="2.5" fill="#5c6190"/><circle cx="393.5" cy="56.5" r="2.5" fill="#97524b"/><circle cx="318" cy="84" r="2" fill="#8a433e"/><circle cx="360" cy="40.5" r="2.5" fill="#8f4542"/><circle cx="397" cy="72.5" r="2.5" fill="#894440"/><circle cx="321" cy="77" r="2" fill="#7d7090"/><circle cx="356" cy="76.5" r="2" fill="#835e74"/><circle cx="319" cy="89.5" r="2.5" fill="#6e688c"/><circle cx="365.5" cy="109.5" r="2" fill="#9f5f57"/><circle cx="390.5" cy="79" r="2" fill="#7d7293"/><circle cx="399.5" cy="129.5" r="2" fill="#61658b"/><circle cx="289.5" cy="124.5" r="2.5" fill="#a66864"/><circle cx="370.5" cy="33.5" r="2.5" fill="#8d4646"/><circle cx="323" cy="63.5" r="2.5" fill="#a4696a"/><circle cx="314.5" cy="54" r="2" fill="#7d3742"/><circle cx="373.5" cy="76" r="2" fill="#99564e"/><circle cx="291.5" cy="39.5" r="2.5" fill="#964f4e"/><circle cx="368" cy="129" r="2.5" fill="#834646"/><circle cx="386.5" cy="124.5" r="2.5" fill="#62668e"/><circle cx="369.5" cy="41" r="2" fill="#874344"/><circle cx="304.5" cy="130" r="2.5" fill="#756b8e"/><circle cx="273" cy="39.5" r="2.5" fill="#914645"/><circle cx="282" cy="137" r="2" fill="#86413f"/><circle cx="349.5" cy="83.5" r="2.5" fill="#853d3b"/><circle cx="345" cy="140.5" r="2" fill="#8b443e"/><circle cx="299.5" cy="79.5" r="2" fill="#833c44"/><circle cx="371.5" cy="97.5" r="2.5" fill="#835c7a"/><circle cx="354.5" cy="38.5" r="2.5" fill="#965446"/><circle cx="284.5" cy="61.5" r="2.5" fill="#874442"/><circle cx="372" cy="134" r="2" fill="#904743"/><circle cx="378" cy="32.5" r="2.5" fill="#93667f"/><circle cx="303.5" cy="59.5" r="2.5" fill="#6a628a"/><circle cx="333.5" cy="60" r="2.5" fill="#845a79"/><circle cx="315" cy="104.5" r="2" fill="#73678e"/><circle cx="344.5" cy="67.5" r="2" fill="#98534b"/><circle cx="334" cy="137.5" r="2" fill="#863e45"/><circle cx="387" cy="99.5" r="2.5" fill="#89484c"/><circle cx="350.5" cy="117" r="2.5" fill="#8a414c"/><circle cx="282.5" cy="32.5" r="2.5" fill="#834040"/><circle cx="310" cy="38.5" r="2.5" fill="#a96666"/><circle cx="275" cy="73.5" r="2" fill="#8d6a84"/><circle cx="285.5" cy="50" r="2" fill="#796b95"/><circle cx="379.5" cy="138" r="2" fill="#865c7c"/><circle cx="318" cy="78" r="2.5" fill="#965550"/><circle cx="268.5" cy="75" r="2" fill="#817399"/><circle cx="327" cy="136" r="2" fill="#974b4d"/><circle cx="348" cy="129" r="2.5" fill="#6d6282"/><circle cx="286" cy="116" r="2.5" fill="#67648e"/><circle cx="278" cy="83.5" r="2" fill="#95534b"/><circle cx="359.5" cy="74" r="2.5" fill="#8b4047"/><circle cx="340.5" cy="70" r="2.5" fill="#9f524e"/><circle cx="371.5" cy="60.5" r="2" fill="#797094"/><circle cx="370" cy="109.5" r="2.5" fill="#a4625e"/><circle cx="275" cy="121.5" r="2" fill="#9b5a4e"/></g>
<circle cx="318" cy="122" r="7" fill="#a04a4c" fill-opacity="0.55" stroke="#eec8cc" stroke-opacity="0.4"/>
<circle cx="326" cy="126" r="5" fill="#983e44" fill-opacity="0.55" stroke="#eec8cc" stroke-opacity="0.4"/>
</g>
<path d="M326 40.5H388.5" stroke="#6a4a5a" stroke-opacity="0.16" stroke-width="1"/>
<rect x="355" y="41" width="5" height="2" fill="#fff"/>
</g>
<clipPath id="c01"><rect x="400" y="37" width="119.5" height="98"/></clipPath>
<g clip-path="url(#c01)"><rect x="400" y="37" width="119.5" height="98" fill="#ddd0dc"/><g filter="url(#bl)">
<g fill-opacity="0.84" stroke="#eee2ea" stroke-opacity="0.5" stroke-width="1.2">
<circle cx="416" cy="109.5" r="5" fill="#618cc2"/>
<circle cx="398" cy="139.5" r="5.5" fill="#cea7a1"/>
<circle cx="520.5" cy="117" r="5.5" fill="#6887b5"/>
<circle cx="472.5" cy="110.5" r="5" fill="#8a8eb5"/>
<circle cx="421.5" cy="78.5" r="4.5" fill="#8981b3"/>
<circle cx="442" cy="83.5" r="5" fill="#a5787b"/>
<circle cx="502" cy="94.5" r="5.5" fill="#b38186"/>
<circle cx="514.5" cy="86" r="5" fill="#c9a4a2"/>
<circle cx="509.5" cy="78" r="5" fill="#af7e8f"/>
<circle cx="466" cy="50.5" r="5.5" fill="#5888b4"/>
<circle cx="498.5" cy="63.5" r="5.5" fill="#ab8088"/>
<circle cx="516" cy="61" r="5" fill="#9b7384"/>
<circle cx="445" cy="69.5" r="5" fill="#4e7aaf"/>
<circle cx="503" cy="125" r="5" fill="#8e99bd"/>
<circle cx="475" cy="61" r="5" fill="#b0838e"/>
<circle cx="508" cy="60.5" r="4.5" fill="#8a89b3"/>
<circle cx="481" cy="30" r="5.5" fill="#858ab3"/>
<circle cx="525.5" cy="48" r="5" fill="#5477b3"/>
<circle cx="493" cy="62.5" r="5" fill="#537ead"/>
<circle cx="467" cy="123.5" r="4.5" fill="#5c86b2"/>
<circle cx="508" cy="40" r="4.5" fill="#c39c9c"/>
<circle cx="438.5" cy="140" r="5" fill="#a37b7a"/>
<circle cx="443" cy="43" r="4.5" fill="#d0a9a3"/>
<circle cx="516" cy="102" r="5.5" fill="#507ab1"/>
<circle cx="424" cy="142" r="4.5" fill="#7998c1"/>
<circle cx="440" cy="30.5" r="5.5" fill="#648bbf"/>
<circle cx="446.5" cy="134" r="5" fill="#c2908b"/>
<circle cx="513.5" cy="71.5" r="5" fill="#5b8ebe"/>
<circle cx="421" cy="125" r="5" fill="#6489c3"/>
<circle cx="431.5" cy="33" r="5.5" fill="#9d7288"/>
<circle cx="485.5" cy="69" r="5" fill="#5283b0"/>
<circle cx="525" cy="77" r="5.5" fill="#5081b0"/>
<circle cx="487.5" cy="53" r="4.5" fill="#7593c1"/>
<circle cx="426" cy="85.5" r="4.5" fill="#c59a92"/>
<circle cx="474.5" cy="31.5" r="4.5" fill="#798ec3"/>
<circle cx="455" cy="93" r="4.5" fill="#aa7f83"/>
<circle cx="423" cy="31.5" r="4.5" fill="#557fb8"/>
<circle cx="458.5" cy="68" r="5" fill="#b0838a"/>
<circle cx="450.5" cy="123" r="4.5" fill="#b88890"/>
<circle cx="490" cy="136.5" r="4.5" fill="#c08793"/>
<circle cx="450" cy="57" r="4.5" fill="#8182ad"/>
<circle cx="466.5" cy="62.5" r="5" fill="#6692c3"/>
<circle cx="468.5" cy="118" r="5.5" fill="#c6a49a"/>
<circle cx="485.5" cy="49" r="4.5" fill="#829dca"/>
<circle cx="444.5" cy="99" r="5" fill="#5a85c1"/>
<circle cx="500.5" cy="138.5" r="5" fill="#6691c2"/>
<circle cx="429" cy="76" r="5.5" fill="#6388ba"/>
<circle cx="417" cy="56.5" r="5.5" fill="#7090bc"/>
<circle cx="522.5" cy="134" r="4.5" fill="#9f7081"/>
<circle cx="435" cy="117.5" r="5.5" fill="#b98092"/>
<circle cx="487.5" cy="131" r="5.5" fill="#ab7a8d"/>
<circle cx="410" cy="100" r="5" fill="#7f96cf"/>
<circle cx="394" cy="109.5" r="5.5" fill="#b58687"/>
<circle cx="402" cy="30" r="4.5" fill="#9f7e82"/>
<circle cx="440.5" cy="110.5" r="5" fill="#4a73a9"/>
<circle cx="495" cy="46" r="5" fill="#537eb2"/>
<circle cx="524.5" cy="103" r="5.5" fill="#829fcb"/>
<circle cx="468.5" cy="101" r="4.5" fill="#718cbd"/>
<circle cx="468.5" cy="33" r="5" fill="#a87f8d"/>
<circle cx="397.5" cy="101.5" r="5" fill="#5980b9"/>
<circle cx="417.5" cy="118.5" r="5" fill="#878dbb"/>
<circle cx="481.5" cy="77" r="5.5" fill="#8c98bd"/>
<circle cx="494" cy="109.5" r="4.5" fill="#858ebb"/>
<circle cx="528" cy="138" r="4.5" fill="#7189b8"/>
<circle cx="477" cy="121.5" r="4.5" fill="#5486b2"/>
<circle cx="424.5" cy="46.5" r="4.5" fill="#c69797"/>
<circle cx="515" cy="57" r="5" fill="#a57683"/>
<circle cx="446" cy="63" r="5.5" fill="#557db1"/>
<circle cx="404.5" cy="123.5" r="4.5" fill="#8b86ba"/>
<circle cx="525.5" cy="64" r="5" fill="#9b6d72"/>
<circle cx="475.5" cy="45.5" r="4.5" fill="#8086b8"/>
<circle cx="505.5" cy="70.5" r="5" fill="#c6a393"/>
<circle cx="474.5" cy="141.5" r="5.5" fill="#6983b9"/>
<circle cx="459" cy="54" r="5" fill="#c39794"/>
<circle cx="420" cy="42" r="5.5" fill="#8583b8"/>
<circle cx="472" cy="53.5" r="5.5" fill="#4d78ad"/>
<circle cx="398.5" cy="79.5" r="5" fill="#aa828a"/>
<circle cx="468.5" cy="138.5" r="5.5" fill="#5786b3"/>
<circle cx="482" cy="142" r="5.5" fill="#6c85bc"/>
<circle cx="404" cy="78.5" r="5.5" fill="#be988e"/>
<circle cx="468" cy="130" r="4.5" fill="#748bc5"/>
<circle cx="488" cy="42" r="4.5" fill="#668ec3"/>
<circle cx="405.5" cy="142" r="5" fill="#8486b2"/>
<circle cx="479" cy="100.5" r="5" fill="#8781ae"/>
<circle cx="481" cy="116" r="4.5" fill="#6193c6"/>
<circle cx="424" cy="64.5" r="5" fill="#598cc0"/>
<circle cx="436.5" cy="42" r="5" fill="#5d92be"/>
<circle cx="491" cy="92" r="5" fill="#628eb8"/>
<circle cx="398" cy="95.5" r="4.5" fill="#9b6a7e"/>
<circle cx="416" cy="86.5" r="5.5" fill="#5582bc"/>
<circle cx="423.5" cy="54.5" r="4.5" fill="#5e88b9"/>
<circle cx="413" cy="126" r="5.5" fill="#cea698"/>
<circle cx="411.5" cy="73.5" r="5" fill="#628bc1"/>
<circle cx="442" cy="121.5" r="5" fill="#6488c3"/>
<circle cx="452.5" cy="132.5" r="4.5" fill="#be9189"/>
<circle cx="449.5" cy="138.5" r="4.5" fill="#a77e87"/>
<circle cx="512.5" cy="141.5" r="5" fill="#b6938c"/>
<circle cx="416.5" cy="129" r="5.5" fill="#7494ca"/>
<circle cx="463.5" cy="91" r="5" fill="#7791be"/>
<circle cx="427.5" cy="100.5" r="5" fill="#bf9d8f"/>
<circle cx="503" cy="54.5" r="4.5" fill="#c1978b"/>
<circle cx="459" cy="118" r="4.5" fill="#6892bc"/>
<circle cx="394" cy="47" r="5" fill="#5174a9"/>
<circle cx="517.5" cy="30" r="4.5" fill="#959fc4"/>
<circle cx="398.5" cy="119" r="5" fill="#8a87b4"/>
<circle cx="499.5" cy="110.5" r="4.5" fill="#678ec0"/>
<circle cx="480" cy="87.5" r="5.5" fill="#b07681"/>
<circle cx="393" cy="63" r="4.5" fill="#838aba"/>
<circle cx="402" cy="54" r="5.5" fill="#a36e7c"/>
<circle cx="503.5" cy="115.5" r="4.5" fill="#7891c3"/>
<circle cx="528" cy="108.5" r="5.5" fill="#a07880"/>
<circle cx="440.5" cy="62" r="4.5" fill="#6186c2"/>
<circle cx="464" cy="130.5" r="5" fill="#ae8085"/>
<circle cx="458.5" cy="109.5" r="4.5" fill="#537cb6"/>
<circle cx="430.5" cy="61.5" r="4.5" fill="#5c83b8"/>
<circle cx="494.5" cy="79.5" r="5.5" fill="#728bbb"/>
<circle cx="445.5" cy="111.5" r="5" fill="#5b87b9"/>
<circle cx="398" cy="35" r="5.5" fill="#6082ba"/>
<circle cx="452.5" cy="98.5" r="5" fill="#6788be"/>
<circle cx="441.5" cy="91" r="5" fill="#547eae"/>
<circle cx="479" cy="42.5" r="5.5" fill="#7992c0"/>
<circle cx="406.5" cy="113.5" r="5" fill="#976d7b"/>
<circle cx="432.5" cy="142" r="5" fill="#7f95c8"/>
<circle cx="430.5" cy="124.5" r="5.5" fill="#c29c94"/>
<circle cx="438" cy="103" r="5" fill="#8196ce"/>
<circle cx="420" cy="101" r="4.5" fill="#7b9ec8"/>
<circle cx="410" cy="38.5" r="5" fill="#5f8fc6"/>
<circle cx="458.5" cy="35.5" r="5.5" fill="#7f93c1"/>
<circle cx="433.5" cy="49" r="4.5" fill="#7a9ec8"/>
<circle cx="526" cy="87.5" r="5" fill="#5d91bd"/>
<circle cx="458" cy="126" r="5.5" fill="#7594be"/>
<circle cx="426" cy="129.5" r="4.5" fill="#6388c1"/>
<circle cx="443" cy="115" r="5" fill="#5680b9"/>
<circle cx="500.5" cy="35" r="5" fill="#7393c2"/>
<circle cx="489.5" cy="86" r="5.5" fill="#5a7fba"/>
<circle cx="514" cy="115" r="4.5" fill="#a97e86"/>
<circle cx="518.5" cy="107.5" r="5" fill="#6387c2"/>
<circle cx="399.5" cy="88.5" r="4.5" fill="#718bb9"/>
<circle cx="449.5" cy="48.5" r="5" fill="#a3737b"/>
<circle cx="448" cy="32" r="5" fill="#c4a498"/>
<circle cx="508" cy="109.5" r="5.5" fill="#caa69d"/>
<circle cx="477.5" cy="56.5" r="5" fill="#5273ac"/>
<circle cx="495" cy="69" r="4.5" fill="#8588b0"/>
<circle cx="499" cy="114.5" r="5" fill="#909ac5"/>
<circle cx="477.5" cy="132.5" r="5" fill="#be958d"/>
<circle cx="415" cy="34" r="5" fill="#628dbf"/>
<circle cx="471.5" cy="83" r="4.5" fill="#c2988f"/>
<circle cx="400" cy="73.5" r="5" fill="#8b91bd"/>
<circle cx="453" cy="113.5" r="4.5" fill="#bf9b90"/>
<circle cx="428" cy="42.5" r="4.5" fill="#af798a"/>
<circle cx="511" cy="46.5" r="5" fill="#6e91c5"/>
<circle cx="433" cy="94" r="5" fill="#6091c6"/>
<circle cx="524.5" cy="40" r="5.5" fill="#aa8282"/>
<circle cx="405.5" cy="46" r="5.5" fill="#aa778e"/>
<circle cx="498" cy="101" r="5.5" fill="#bb9694"/>
<circle cx="427.5" cy="118" r="4.5" fill="#6386c0"/>
<circle cx="496" cy="42.5" r="5" fill="#c4a399"/>
<circle cx="397.5" cy="133.5" r="5.5" fill="#6291be"/>
<circle cx="450.5" cy="88" r="4.5" fill="#6b84b5"/>
<circle cx="484.5" cy="91.5" r="5.5" fill="#a67a79"/>
<circle cx="441.5" cy="77.5" r="5.5" fill="#5375b3"/>
<circle cx="498.5" cy="78" r="5" fill="#5782b5"/>
<circle cx="502.5" cy="45.5" r="5" fill="#5b8cbc"/>
<circle cx="462.5" cy="88.5" r="5.5" fill="#ab727f"/>
<circle cx="472" cy="79.5" r="5.5" fill="#608fc5"/>
<circle cx="413" cy="92" r="5.5" fill="#b07c88"/>
<circle cx="509.5" cy="93.5" r="4.5" fill="#b47f80"/>
<circle cx="447.5" cy="96.5" r="4.5" fill="#a58088"/>
<circle cx="489" cy="103.5" r="5" fill="#9193be"/>
<circle cx="463" cy="41.5" r="5" fill="#5880b4"/>
<circle cx="520.5" cy="139" r="4.5" fill="#5680b3"/>
<circle cx="432" cy="111" r="4.5" fill="#bb8092"/>
<circle cx="530" cy="95" r="5" fill="#9a787b"/>
<circle cx="425" cy="71" r="5.5" fill="#5883bc"/>
<circle cx="419" cy="108.5" r="4.5" fill="#7a8ebe"/>
<circle cx="403" cy="92" r="4.5" fill="#868ab5"/>
<circle cx="507.5" cy="84.5" r="5" fill="#8d99bc"/>
<circle cx="458" cy="77" r="4.5" fill="#728bc4"/>
<circle cx="510" cy="33" r="5" fill="#5e8abe"/>
<circle cx="499.5" cy="53.5" r="5" fill="#858eb2"/>
<circle cx="469" cy="77.5" r="5.5" fill="#5c85b5"/>
<circle cx="492.5" cy="126" r="5" fill="#ad7e88"/>
<circle cx="435" cy="130.5" r="4.5" fill="#7e99c8"/>
<circle cx="509" cy="122.5" r="5" fill="#b68c8a"/>
<circle cx="526.5" cy="126.5" r="5" fill="#658cbf"/>
<circle cx="515" cy="42.5" r="5" fill="#ba868a"/>
<circle cx="462" cy="103.5" r="5" fill="#b38a82"/>
<circle cx="477" cy="96.5" r="5" fill="#6c88ba"/>
<circle cx="436" cy="72.5" r="5.5" fill="#5480b4"/>
<circle cx="415.5" cy="46.5" r="5.5" fill="#ac7e87"/>
<circle cx="459.5" cy="61" r="4.5" fill="#cda2a2"/>
<circle cx="436.5" cy="85.5" r="4.5" fill="#c5a298"/>
<circle cx="406.5" cy="87.5" r="5.5" fill="#ab8083"/>
<circle cx="400" cy="43" r="4.5" fill="#5c81b2"/>
<circle cx="517" cy="50" r="4.5" fill="#ab7e81"/>
<circle cx="507.5" cy="132.5" r="5" fill="#a97f8b"/>
<circle cx="526.5" cy="30.5" r="5" fill="#a77686"/>
<circle cx="408" cy="131" r="5" fill="#9893c2"/>
<circle cx="484.5" cy="123.5" r="5.5" fill="#6c85c0"/>
<circle cx="485" cy="107" r="4.5" fill="#aa7782"/>
<circle cx="413.5" cy="75.5" r="4.5" fill="#708ebc"/>
<circle cx="470" cy="68.5" r="5.5" fill="#6093c3"/>
<circle cx="492" cy="31.5" r="4.5" fill="#c7938d"/>
<circle cx="404" cy="110" r="4.5" fill="#7e99cc"/>
<circle cx="398.5" cy="123.5" r="5" fill="#c19094"/>
<circle cx="521" cy="54.5" r="5" fill="#6d8ec4"/>
<circle cx="489" cy="118" r="4.5" fill="#567db2"/>
<circle cx="406" cy="64.5" r="5.5" fill="#6587bd"/>
<circle cx="407" cy="57.5" r="5" fill="#6286bc"/>
<circle cx="480.5" cy="69" r="5.5" fill="#b7868e"/>
<circle cx="455.5" cy="38.5" r="5" fill="#5784ae"/>
<circle cx="514" cy="133.5" r="5" fill="#b6928c"/>
<circle cx="456.5" cy="137.5" r="5" fill="#728dbe"/>
<circle cx="517" cy="79" r="5.5" fill="#966b77"/>
<circle cx="414.5" cy="140.5" r="4.5" fill="#c99b9b"/>
<circle cx="415.5" cy="64.5" r="5.5" fill="#a77b8e"/>
<circle cx="452.5" cy="71" r="5" fill="#577db6"/>
<circle cx="441.5" cy="58" r="4.5" fill="#557cb1"/>
<circle cx="518.5" cy="122.5" r="4.5" fill="#966b79"/>
<circle cx="439.5" cy="48" r="5" fill="#718fc4"/>
<circle cx="470" cy="40.5" r="4.5" fill="#c3a09a"/>
<circle cx="421.5" cy="94.5" r="5" fill="#7385bc"/>
<circle cx="433.5" cy="56.5" r="5" fill="#6f8dbe"/>
<circle cx="416" cy="70.5" r="5" fill="#b58089"/>
<circle cx="521.5" cy="73" r="5" fill="#bf9184"/>
<circle cx="456" cy="46" r="4.5" fill="#b8898f"/>
<circle cx="468.5" cy="111" r="4.5" fill="#b78287"/>
<circle cx="496" cy="85.5" r="5.5" fill="#9d7583"/>
<circle cx="486.5" cy="61.5" r="4.5" fill="#ae7f82"/>
<circle cx="516.5" cy="94" r="5.5" fill="#b57e8a"/>
<circle cx="448.5" cy="81" r="4.5" fill="#ba948c"/>
<circle cx="508.5" cy="100" r="4.5" fill="#5b8bbe"/>
<circle cx="498.5" cy="130" r="4.5" fill="#ab7c8f"/>
</g>
<g fill-opacity="0.84"><circle cx="415" cy="109" r="2.5" fill="#4e709b"/><circle cx="398" cy="140" r="2.5" fill="#a58681"/><circle cx="441" cy="83" r="2.5" fill="#846062"/><circle cx="503" cy="94" r="2.5" fill="#8f676b"/><circle cx="515" cy="85.5" r="2.5" fill="#a18382"/><circle cx="465" cy="50.5" r="2.5" fill="#466d90"/><circle cx="498" cy="63" r="2.5" fill="#89666d"/><circle cx="515" cy="60" r="2.5" fill="#7c5c6a"/><circle cx="502.5" cy="124" r="2.5" fill="#727a97"/><circle cx="475.5" cy="62" r="2.5" fill="#8d6972"/><circle cx="508" cy="60" r="2.5" fill="#6e6e8f"/><circle cx="466" cy="124" r="2.5" fill="#4a6b8e"/><circle cx="443" cy="44" r="2.5" fill="#a68782"/><circle cx="517" cy="102" r="2.5" fill="#40628e"/><circle cx="425" cy="141.5" r="2.5" fill="#617a9a"/><circle cx="440" cy="30.5" r="3" fill="#506f99"/><circle cx="513" cy="71.5" r="2.5" fill="#497298"/><circle cx="431.5" cy="33.5" r="2.5" fill="#7e5b6d"/><circle cx="524" cy="77.5" r="3" fill="#40678d"/><circle cx="487.5" cy="53" r="2.5" fill="#5e769a"/><circle cx="455" cy="93.5" r="2.5" fill="#886669"/><circle cx="458" cy="68.5" r="2.5" fill="#8d696e"/><circle cx="449.5" cy="123" r="2" fill="#936d73"/><circle cx="490.5" cy="137" r="2" fill="#9a6c76"/><circle cx="450" cy="56" r="2.5" fill="#67688a"/><circle cx="467" cy="62.5" r="2.5" fill="#52759c"/><circle cx="467.5" cy="118.5" r="2.5" fill="#9e837b"/><circle cx="486.5" cy="50" r="2.5" fill="#687ea2"/><circle cx="444" cy="98.5" r="2.5" fill="#486a9a"/><circle cx="499.5" cy="138.5" r="2.5" fill="#52749b"/><circle cx="429" cy="75" r="2.5" fill="#4f6d95"/><circle cx="435.5" cy="118" r="3" fill="#946675"/><circle cx="488" cy="130.5" r="2.5" fill="#896271"/><circle cx="411" cy="99" r="2.5" fill="#6678a6"/><circle cx="394" cy="110" r="2.5" fill="#916b6c"/><circle cx="402" cy="30.5" r="2.5" fill="#7f6568"/><circle cx="523.5" cy="102.5" r="3" fill="#687fa2"/><circle cx="469.5" cy="102" r="2" fill="#5a7097"/><circle cx="397.5" cy="101.5" r="2.5" fill="#476694"/><circle cx="480.5" cy="76.5" r="2.5" fill="#707a97"/><circle cx="493.5" cy="110" r="2" fill="#6a7296"/><circle cx="527.5" cy="138.5" r="2" fill="#5a6e93"/><circle cx="405" cy="123.5" r="2.5" fill="#6f6b95"/><circle cx="475.5" cy="45" r="2" fill="#666b93"/><circle cx="506" cy="71.5" r="2.5" fill="#9e8276"/><circle cx="474.5" cy="141" r="2.5" fill="#546994"/><circle cx="459" cy="54" r="2.5" fill="#9c7976"/><circle cx="420.5" cy="42" r="2.5" fill="#6a6993"/><circle cx="472.5" cy="53.5" r="2.5" fill="#3e608a"/><circle cx="397.5" cy="79" r="2.5" fill="#88686e"/><circle cx="469" cy="139.5" r="3" fill="#466b8f"/><circle cx="482" cy="142.5" r="3" fill="#566a96"/><circle cx="403" cy="77.5" r="2.5" fill="#987a72"/><circle cx="468" cy="130" r="2" fill="#5d6f9e"/><circle cx="487.5" cy="41.5" r="2.5" fill="#52729c"/><circle cx="405.5" cy="143" r="2.5" fill="#6a6b8e"/><circle cx="482" cy="115" r="2.5" fill="#4e769e"/><circle cx="425" cy="65" r="2.5" fill="#47709a"/><circle cx="398" cy="95" r="2" fill="#7c5565"/><circle cx="424" cy="55" r="2" fill="#4b6d94"/><circle cx="412.5" cy="127" r="2.5" fill="#a5857a"/><circle cx="410.5" cy="72.5" r="2.5" fill="#4e6f9a"/><circle cx="449" cy="138" r="2.5" fill="#86656c"/><circle cx="417.5" cy="128.5" r="2.5" fill="#5d76a2"/><circle cx="502" cy="55.5" r="2.5" fill="#9a796f"/><circle cx="458" cy="118.5" r="2.5" fill="#537596"/><circle cx="393" cy="47.5" r="2.5" fill="#415d87"/><circle cx="517.5" cy="29" r="2.5" fill="#777f9d"/><circle cx="398" cy="120" r="2.5" fill="#6e6c90"/><circle cx="392.5" cy="62.5" r="2.5" fill="#696e95"/><circle cx="504" cy="116.5" r="2" fill="#60749c"/><circle cx="528.5" cy="109" r="2.5" fill="#806066"/><circle cx="440.5" cy="61.5" r="2" fill="#4e6b9b"/><circle cx="463.5" cy="130" r="2.5" fill="#8b666a"/><circle cx="458.5" cy="108.5" r="2.5" fill="#426392"/><circle cx="429.5" cy="62" r="2" fill="#4a6993"/><circle cx="494.5" cy="79" r="2.5" fill="#5b6f96"/><circle cx="445.5" cy="112" r="2.5" fill="#496c94"/><circle cx="453" cy="99" r="2.5" fill="#526d98"/><circle cx="440.5" cy="91.5" r="2.5" fill="#43658b"/><circle cx="480" cy="43.5" r="2.5" fill="#61759a"/><circle cx="430" cy="123.5" r="2.5" fill="#9b7d76"/><circle cx="438.5" cy="103.5" r="2.5" fill="#6778a5"/><circle cx="420" cy="100.5" r="2" fill="#627ea0"/><circle cx="458" cy="35" r="2.5" fill="#66769a"/><circle cx="433" cy="49" r="2" fill="#627ea0"/><circle cx="526" cy="88.5" r="2.5" fill="#4a7497"/><circle cx="457.5" cy="126" r="2.5" fill="#5e7698"/><circle cx="426" cy="130" r="2.5" fill="#4f6d9a"/><circle cx="489" cy="85.5" r="3" fill="#486695"/><circle cx="514.5" cy="115" r="2.5" fill="#87656b"/><circle cx="517.5" cy="106.5" r="2.5" fill="#4f6c9b"/><circle cx="399.5" cy="88" r="2" fill="#5a6f94"/><circle cx="450" cy="48" r="2.5" fill="#825c62"/><circle cx="447.5" cy="31.5" r="2.5" fill="#9d837a"/><circle cx="509" cy="109" r="2.5" fill="#a2857e"/><circle cx="477" cy="57" r="2.5" fill="#425c8a"/><circle cx="495" cy="70" r="2" fill="#6a6d8d"/><circle cx="477" cy="132" r="2.5" fill="#987771"/><circle cx="415.5" cy="34.5" r="2.5" fill="#4e7199"/><circle cx="453" cy="113.5" r="2" fill="#997c73"/><circle cx="427" cy="42" r="2.5" fill="#8c616e"/><circle cx="433" cy="94.5" r="2.5" fill="#4d749e"/><circle cx="524.5" cy="39.5" r="3" fill="#886868"/><circle cx="405.5" cy="46.5" r="2.5" fill="#885f72"/><circle cx="496.5" cy="42.5" r="2.5" fill="#9d827a"/><circle cx="450" cy="88" r="2" fill="#566a91"/><circle cx="484" cy="90.5" r="2.5" fill="#856261"/><circle cx="499" cy="78.5" r="2.5" fill="#466891"/><circle cx="462.5" cy="89" r="2.5" fill="#895b66"/><circle cx="510" cy="94" r="2" fill="#906666"/><circle cx="447" cy="96.5" r="2.5" fill="#84666d"/><circle cx="490" cy="104" r="2.5" fill="#747698"/><circle cx="463.5" cy="41.5" r="2.5" fill="#466690"/><circle cx="432.5" cy="112" r="2.5" fill="#966675"/><circle cx="530.5" cy="96" r="2.5" fill="#7b6062"/><circle cx="424" cy="71" r="2.5" fill="#466996"/><circle cx="404" cy="92.5" r="2" fill="#6b6e91"/><circle cx="508" cy="84.5" r="2.5" fill="#717a96"/><circle cx="498.5" cy="54" r="2.5" fill="#6a728e"/><circle cx="469.5" cy="76.5" r="2.5" fill="#4a6a91"/><circle cx="510" cy="122" r="2.5" fill="#92706e"/><circle cx="525.5" cy="127.5" r="2.5" fill="#517099"/><circle cx="461.5" cy="104" r="2.5" fill="#8f6e68"/><circle cx="436" cy="72" r="3" fill="#436690"/><circle cx="459" cy="60.5" r="2.5" fill="#a48282"/><circle cx="436" cy="86" r="2.5" fill="#9e827a"/><circle cx="406.5" cy="88" r="2.5" fill="#896669"/><circle cx="506.5" cy="133" r="2.5" fill="#87666f"/><circle cx="485" cy="123.5" r="2.5" fill="#566a9a"/><circle cx="485.5" cy="107.5" r="2" fill="#885f68"/><circle cx="414" cy="75" r="2" fill="#5a7296"/><circle cx="492" cy="32" r="2" fill="#9f7671"/><circle cx="404.5" cy="109.5" r="2.5" fill="#657aa3"/><circle cx="398" cy="123.5" r="2.5" fill="#9a7376"/><circle cx="489.5" cy="118.5" r="2.5" fill="#45648e"/><circle cx="407" cy="64.5" r="3" fill="#516c97"/><circle cx="407.5" cy="58" r="2.5" fill="#4e6b96"/><circle cx="480.5" cy="69.5" r="2.5" fill="#926b72"/><circle cx="513.5" cy="133.5" r="2.5" fill="#927570"/><circle cx="456.5" cy="138" r="2.5" fill="#5b7198"/><circle cx="518" cy="79" r="2.5" fill="#78565f"/><circle cx="415" cy="141" r="2.5" fill="#a17c7c"/><circle cx="441" cy="58.5" r="2" fill="#44638e"/><circle cx="440" cy="47" r="2.5" fill="#5a729d"/><circle cx="421.5" cy="94.5" r="2.5" fill="#5c6a96"/><circle cx="434" cy="56" r="2.5" fill="#597198"/><circle cx="521.5" cy="73.5" r="2.5" fill="#99746a"/><circle cx="469" cy="110.5" r="2.5" fill="#92686c"/><circle cx="495.5" cy="86.5" r="2.5" fill="#7e5e69"/><circle cx="486.5" cy="61.5" r="2.5" fill="#8b6668"/><circle cx="449" cy="80" r="2.5" fill="#957670"/><circle cx="508" cy="100" r="2" fill="#496f98"/><circle cx="498" cy="131" r="2.5" fill="#896372"/></g>
<circle cx="418" cy="80" r="4" fill="#3a6aa8" fill-opacity="0.8" stroke="#eee2ea" stroke-opacity="0.4"/>
<circle cx="428" cy="92" r="4.5" fill="#3a70b0" fill-opacity="0.8" stroke="#eee2ea" stroke-opacity="0.4"/>
<circle cx="412" cy="96" r="4" fill="#4a78b0" fill-opacity="0.8" stroke="#eee2ea" stroke-opacity="0.4"/>
<circle cx="436" cy="78" r="4" fill="#4a74ac" fill-opacity="0.8" stroke="#eee2ea" stroke-opacity="0.4"/>
<circle cx="456" cy="118" r="4" fill="#2a4a80" fill-opacity="0.85" stroke="#eee2ea" stroke-opacity="0.4"/>
<circle cx="462" cy="58" r="3.5" fill="#3a6aa0" fill-opacity="0.8" stroke="#eee2ea" stroke-opacity="0.4"/>
<circle cx="505" cy="62" r="4" fill="#3a6aa0" fill-opacity="0.8" stroke="#eee2ea" stroke-opacity="0.4"/>
</g>
<path d="M454 40.5H516.5" stroke="#6a4a5a" stroke-opacity="0.16" stroke-width="1"/>
</g>
<text transform="translate(264.4 192.3) rotate(-90) scale(0.68 1)" font-size="12" font-weight="bold" text-anchor="middle" >L428</text>
<clipPath id="c10"><rect x="272" y="143" width="119.5" height="98"/></clipPath>
<g clip-path="url(#c10)"><rect x="272" y="143" width="119.5" height="98" fill="#d6c0cc"/><g filter="url(#bl)">
<g fill-opacity="0.6" stroke="#eedce4" stroke-opacity="0" stroke-width="1">
<circle cx="298.5" cy="196.5" r="6" fill="#f6e5ea"/>
<circle cx="315" cy="203" r="4" fill="#f3e0e8"/>
<circle cx="348" cy="146" r="6" fill="#f0e7e7"/>
<circle cx="269.5" cy="228" r="4" fill="#f6ebf8"/>
<circle cx="301" cy="164" r="6" fill="#e7e1e0"/>
<circle cx="395" cy="189" r="4.5" fill="#e4e3e8"/>
<circle cx="374.5" cy="189.5" r="5" fill="#f9f3fa"/>
<circle cx="349.5" cy="155" r="5" fill="#ebdde9"/>
<circle cx="349" cy="231" r="6" fill="#fff5f7"/>
<circle cx="334.5" cy="217.5" r="4.5" fill="#f2ecee"/>
<circle cx="353.5" cy="146" r="5" fill="#ebe3ec"/>
<circle cx="364.5" cy="201.5" r="6" fill="#e8dfdb"/>
<circle cx="306.5" cy="142.5" r="5" fill="#f3e7ee"/>
<circle cx="378.5" cy="189" r="6" fill="#f0e4ea"/>
<circle cx="359.5" cy="232" r="5.5" fill="#e9dae5"/>
<circle cx="359" cy="236.5" r="4.5" fill="#e9e0e8"/>
<circle cx="318.5" cy="224" r="5" fill="#f4e5ee"/>
<circle cx="324.5" cy="238" r="5.5" fill="#efe9ef"/>
<circle cx="380" cy="149.5" r="4.5" fill="#eddfe8"/>
<circle cx="285.5" cy="162" r="5.5" fill="#efe9e8"/>
<circle cx="391" cy="185" r="4" fill="#f7e9f9"/>
<circle cx="348" cy="171" r="6" fill="#f7e2f1"/>
<circle cx="332.5" cy="180" r="5.5" fill="#fde7f0"/>
<circle cx="312.5" cy="201" r="6" fill="#e7e0e7"/>
<circle cx="342.5" cy="235" r="4.5" fill="#e8e2e1"/>
<circle cx="355" cy="237.5" r="4" fill="#faecf2"/>
<circle cx="377" cy="244" r="6" fill="#ebe1e3"/>
<circle cx="353.5" cy="156.5" r="4.5" fill="#f2e5f0"/>
<circle cx="377.5" cy="241.5" r="4.5" fill="#f4e5e7"/>
<circle cx="383.5" cy="199.5" r="4.5" fill="#ede6e4"/>
<circle cx="359" cy="161.5" r="5" fill="#f5e9ec"/>
<circle cx="374" cy="200" r="4.5" fill="#fdeef4"/>
<circle cx="304.5" cy="145.5" r="5.5" fill="#f7ebf2"/>
<circle cx="377" cy="244" r="6" fill="#f9eef8"/>
<circle cx="279.5" cy="224" r="4.5" fill="#f6e2ec"/>
<circle cx="320.5" cy="155" r="5.5" fill="#f0dfe7"/>
<circle cx="305.5" cy="220.5" r="4" fill="#f7f5f4"/>
<circle cx="379.5" cy="143.5" r="6" fill="#f8eeed"/>
<circle cx="346.5" cy="144" r="6.5" fill="#eee7eb"/>
<circle cx="359.5" cy="174" r="5.5" fill="#ece0e1"/>
<circle cx="380.5" cy="243" r="5.5" fill="#f8eef9"/>
<circle cx="332.5" cy="245" r="5" fill="#efe1e6"/>
<circle cx="307.5" cy="147" r="6" fill="#f6e9f0"/>
<circle cx="344.5" cy="142.5" r="3.5" fill="#efdee4"/>
<circle cx="293" cy="182" r="4.5" fill="#e6d8de"/>
<circle cx="346" cy="155.5" r="5.5" fill="#eae1e8"/>
<circle cx="273.5" cy="231" r="5.5" fill="#ece4ea"/>
<circle cx="308" cy="240.5" r="3.5" fill="#ffeef6"/>
<circle cx="382.5" cy="179" r="5.5" fill="#f4eff0"/>
<circle cx="326.5" cy="194" r="5.5" fill="#faecf3"/>
<circle cx="350" cy="202" r="3.5" fill="#f5eaf5"/>
<circle cx="339.5" cy="204.5" r="4" fill="#f0e7ec"/>
<circle cx="388" cy="192.5" r="4.5" fill="#f2eff2"/>
<circle cx="323" cy="215.5" r="5.5" fill="#f2e7ed"/>
<circle cx="298.5" cy="171" r="4" fill="#e4d8e2"/>
<circle cx="392.5" cy="194" r="5" fill="#f3e9f3"/>
<circle cx="338" cy="140" r="5.5" fill="#efe4e6"/>
<circle cx="321" cy="200.5" r="4" fill="#e7dbe4"/>
<circle cx="270.5" cy="204.5" r="4" fill="#e2dbe0"/>
<circle cx="348.5" cy="145.5" r="3.5" fill="#eae9e6"/>
<circle cx="348" cy="188.5" r="5.5" fill="#e4e0e0"/>
<circle cx="354.5" cy="176.5" r="5" fill="#eadeeb"/>
<circle cx="358" cy="217" r="4.5" fill="#fcebea"/>
<circle cx="271" cy="145.5" r="3.5" fill="#fbe6f5"/>
<circle cx="354" cy="241" r="6.5" fill="#efe7e2"/>
<circle cx="300" cy="187.5" r="4.5" fill="#fbe6f3"/>
<circle cx="343.5" cy="173" r="6" fill="#fbeff3"/>
<circle cx="314.5" cy="172" r="5" fill="#eddfe7"/>
<circle cx="315" cy="202" r="5.5" fill="#f4e7e6"/>
<circle cx="306.5" cy="179" r="6" fill="#f6e8e9"/>
</g>
<g fill-opacity="0.6"><circle cx="316" cy="203" r="2" fill="#c2b3ba"/><circle cx="347" cy="146" r="3" fill="#c0b9b9"/><circle cx="301" cy="163.5" r="3" fill="#b9b4b3"/><circle cx="350" cy="154" r="2.5" fill="#bcb1ba"/><circle cx="349.5" cy="230.5" r="3" fill="#ccc4c6"/><circle cx="334" cy="218.5" r="2" fill="#c2bdbe"/><circle cx="354" cy="146.5" r="2.5" fill="#bcb6bd"/><circle cx="364" cy="201.5" r="3" fill="#bab2af"/><circle cx="305.5" cy="143" r="2.5" fill="#c2b9be"/><circle cx="359.5" cy="237" r="2.5" fill="#bab3ba"/><circle cx="318" cy="224" r="2.5" fill="#c3b7be"/><circle cx="325.5" cy="239" r="3" fill="#bfbabf"/><circle cx="286" cy="161" r="3" fill="#bfbaba"/><circle cx="392" cy="185.5" r="2" fill="#c6bac7"/><circle cx="312.5" cy="201" r="3" fill="#b9b3b9"/><circle cx="377.5" cy="243.5" r="3" fill="#bcb4b6"/><circle cx="377" cy="241" r="2" fill="#c3b7b9"/><circle cx="359.5" cy="162" r="2.5" fill="#c4babd"/><circle cx="304.5" cy="146.5" r="3" fill="#c6bcc2"/><circle cx="376" cy="244.5" r="3" fill="#c7bec6"/><circle cx="279.5" cy="223.5" r="2" fill="#c5b5bd"/><circle cx="344.5" cy="143" r="2" fill="#bfb2b6"/><circle cx="273" cy="231.5" r="2.5" fill="#bdb6bb"/><circle cx="326" cy="194" r="3" fill="#c8bdc2"/><circle cx="339.5" cy="205.5" r="2" fill="#c0b9bd"/><circle cx="323.5" cy="215.5" r="3" fill="#c2b9be"/><circle cx="392" cy="195" r="2.5" fill="#c2bac2"/><circle cx="337.5" cy="141" r="3" fill="#bfb6b8"/><circle cx="320" cy="199.5" r="2" fill="#b9afb6"/><circle cx="348.5" cy="144.5" r="2" fill="#bbbab8"/><circle cx="357.5" cy="216.5" r="2.5" fill="#cabcbb"/><circle cx="271.5" cy="146.5" r="2" fill="#c9b8c4"/><circle cx="355" cy="240.5" r="3" fill="#bfb9b5"/><circle cx="314.5" cy="171.5" r="2.5" fill="#beb2b9"/><circle cx="316" cy="202.5" r="3" fill="#c3b9b8"/><circle cx="305.5" cy="179" r="3" fill="#c5baba"/></g>
<g fill-opacity="0.62" stroke="#eedce4" stroke-opacity="0.35" stroke-width="1">
<circle cx="390" cy="150" r="4.5" fill="#8084aa"/>
<circle cx="340.5" cy="150.5" r="4" fill="#6d739a"/>
<circle cx="278.5" cy="208" r="4" fill="#c38173"/>
<circle cx="298.5" cy="144" r="4.5" fill="#ad796c"/>
<circle cx="287.5" cy="207.5" r="4" fill="#c298a4"/>
<circle cx="342.5" cy="140" r="3.5" fill="#837da5"/>
<circle cx="297.5" cy="241.5" r="5" fill="#7970a0"/>
<circle cx="296" cy="198.5" r="3.5" fill="#888eac"/>
<circle cx="321.5" cy="222" r="4.5" fill="#8385ad"/>
<circle cx="345" cy="222.5" r="3.5" fill="#8384af"/>
<circle cx="336" cy="159" r="4" fill="#797ba1"/>
<circle cx="290.5" cy="147.5" r="3.5" fill="#c89fa3"/>
<circle cx="373.5" cy="151" r="4.5" fill="#7873a0"/>
<circle cx="271" cy="241.5" r="3.5" fill="#9194bc"/>
<circle cx="293.5" cy="233.5" r="3.5" fill="#b07868"/>
<circle cx="279" cy="188.5" r="4.5" fill="#c8a6a7"/>
<circle cx="296.5" cy="227" r="3.5" fill="#c08b9c"/>
<circle cx="346.5" cy="207" r="3.5" fill="#9091b6"/>
<circle cx="365" cy="231.5" r="4.5" fill="#8e92ae"/>
<circle cx="312" cy="203" r="4" fill="#c49ba3"/>
<circle cx="325" cy="151" r="3.5" fill="#7478a5"/>
<circle cx="374.5" cy="202" r="4" fill="#8181ad"/>
<circle cx="372" cy="161" r="3.5" fill="#7c7ea3"/>
<circle cx="336.5" cy="188" r="5" fill="#7773a7"/>
<circle cx="361" cy="147" r="3.5" fill="#bb9197"/>
<circle cx="312" cy="190.5" r="4.5" fill="#be9095"/>
<circle cx="277" cy="197.5" r="4" fill="#8988b2"/>
<circle cx="362" cy="184" r="4.5" fill="#b37663"/>
<circle cx="350.5" cy="203" r="5" fill="#9790b4"/>
<circle cx="295.5" cy="176" r="3.5" fill="#8380b8"/>
<circle cx="395" cy="174.5" r="3.5" fill="#908ebf"/>
<circle cx="323" cy="148" r="3.5" fill="#8c88b1"/>
<circle cx="296" cy="156.5" r="4.5" fill="#b78c92"/>
<circle cx="386.5" cy="216" r="5" fill="#b57b6c"/>
<circle cx="379.5" cy="243.5" r="3.5" fill="#9198b8"/>
<circle cx="346" cy="237.5" r="3" fill="#b4796f"/>
<circle cx="336.5" cy="183.5" r="3.5" fill="#868eb0"/>
<circle cx="389" cy="234.5" r="3.5" fill="#7877a6"/>
<circle cx="389" cy="190.5" r="4" fill="#bf96a4"/>
<circle cx="366.5" cy="182" r="4.5" fill="#7773a5"/>
<circle cx="395" cy="236.5" r="4" fill="#c28e9d"/>
<circle cx="305" cy="238" r="3" fill="#8889b6"/>
<circle cx="291.5" cy="149" r="3" fill="#7672a1"/>
<circle cx="360" cy="170" r="4.5" fill="#c17f6f"/>
<circle cx="334" cy="207" r="3" fill="#8f92b2"/>
<circle cx="273" cy="218" r="3.5" fill="#b99491"/>
<circle cx="303" cy="185" r="4.5" fill="#ca9f9d"/>
<circle cx="312" cy="217.5" r="3.5" fill="#77729f"/>
<circle cx="363" cy="169.5" r="4.5" fill="#9392b3"/>
<circle cx="281" cy="170.5" r="4" fill="#7f7aa7"/>
<circle cx="320.5" cy="147" r="4.5" fill="#8581a7"/>
<circle cx="287.5" cy="220" r="3.5" fill="#8883b2"/>
<circle cx="357.5" cy="242.5" r="4.5" fill="#8181ac"/>
<circle cx="393" cy="232" r="4" fill="#c0909d"/>
<circle cx="315.5" cy="156" r="4.5" fill="#8083ab"/>
<circle cx="308" cy="188" r="5" fill="#7b7fad"/>
<circle cx="335" cy="196.5" r="3" fill="#767fa6"/>
<circle cx="314" cy="229.5" r="3.5" fill="#c6a0a2"/>
<circle cx="304.5" cy="188" r="3.5" fill="#7273a0"/>
<circle cx="381" cy="224.5" r="3.5" fill="#c2a0a0"/>
<circle cx="306" cy="164.5" r="5" fill="#8287af"/>
<circle cx="371" cy="140" r="3.5" fill="#7c86b1"/>
<circle cx="285" cy="195.5" r="5" fill="#cd9aa0"/>
<circle cx="336.5" cy="156.5" r="3" fill="#c69ba0"/>
<circle cx="274.5" cy="160.5" r="4.5" fill="#8382ac"/>
<circle cx="366" cy="188.5" r="4.5" fill="#bb7f78"/>
<circle cx="393" cy="222.5" r="3.5" fill="#898fad"/>
<circle cx="393" cy="142.5" r="4" fill="#8b8fb6"/>
<circle cx="291.5" cy="140.5" r="4.5" fill="#b4766e"/>
<circle cx="323" cy="175" r="4" fill="#8a8fb5"/>
<circle cx="274.5" cy="197" r="3.5" fill="#9690ba"/>
<circle cx="280" cy="172" r="3.5" fill="#c48176"/>
<circle cx="299.5" cy="224" r="4.5" fill="#c09398"/>
<circle cx="321.5" cy="166.5" r="4" fill="#d09ba7"/>
<circle cx="273.5" cy="184.5" r="4.5" fill="#7f88b2"/>
<circle cx="348" cy="210.5" r="3.5" fill="#7370a4"/>
<circle cx="384.5" cy="224.5" r="4" fill="#c293a2"/>
<circle cx="299.5" cy="153.5" r="4.5" fill="#8c90b8"/>
<circle cx="364.5" cy="222.5" r="4" fill="#9094b6"/>
<circle cx="333" cy="227" r="3.5" fill="#bb9598"/>
<circle cx="338.5" cy="168.5" r="4" fill="#bf9ca1"/>
<circle cx="289.5" cy="141" r="4.5" fill="#857cae"/>
<circle cx="350" cy="234" r="3.5" fill="#bf93a0"/>
<circle cx="383.5" cy="188.5" r="4" fill="#8e8fb3"/>
<circle cx="353" cy="237.5" r="3.5" fill="#8b90ae"/>
<circle cx="372" cy="203" r="4.5" fill="#827fac"/>
<circle cx="321" cy="194" r="3" fill="#9593bb"/>
<circle cx="290" cy="158.5" r="4" fill="#bd7e6f"/>
<circle cx="355" cy="244" r="3" fill="#bd816f"/>
<circle cx="338" cy="182.5" r="5" fill="#ae786f"/>
<circle cx="313" cy="187" r="4" fill="#7072a2"/>
<circle cx="370.5" cy="187" r="5" fill="#9595b7"/>
<circle cx="390.5" cy="155.5" r="3.5" fill="#bf9291"/>
<circle cx="308" cy="194.5" r="3.5" fill="#7f80ad"/>
<circle cx="320.5" cy="229" r="4.5" fill="#cea0a5"/>
<circle cx="373.5" cy="237.5" r="4.5" fill="#8c8bae"/>
<circle cx="346" cy="142" r="4.5" fill="#bb7973"/>
<circle cx="341" cy="197.5" r="4.5" fill="#bd9498"/>
<circle cx="330" cy="168.5" r="5" fill="#c7a4a9"/>
<circle cx="358.5" cy="235.5" r="3" fill="#9496bd"/>
<circle cx="281" cy="210" r="4" fill="#837ead"/>
<circle cx="315.5" cy="193.5" r="4.5" fill="#b47163"/>
<circle cx="382" cy="241" r="4.5" fill="#c99ea7"/>
<circle cx="350" cy="159.5" r="4.5" fill="#7a72a4"/>
<circle cx="385.5" cy="158" r="4" fill="#7e7ca1"/>
<circle cx="317" cy="227" r="3" fill="#8b8bb7"/>
<circle cx="308.5" cy="167.5" r="3.5" fill="#d2a6ac"/>
<circle cx="389" cy="239" r="4" fill="#7e85b4"/>
<circle cx="308.5" cy="180.5" r="3" fill="#c19d9c"/>
<circle cx="304" cy="153" r="4.5" fill="#998eb9"/>
<circle cx="300" cy="243" r="3" fill="#908eb8"/>
<circle cx="278" cy="163.5" r="4" fill="#8586b7"/>
<circle cx="293.5" cy="147.5" r="3.5" fill="#be8073"/>
<circle cx="335" cy="218" r="4" fill="#7f85a4"/>
<circle cx="375" cy="206" r="4" fill="#7b78ac"/>
<circle cx="372.5" cy="139.5" r="4" fill="#908ebb"/>
<circle cx="304" cy="241" r="4" fill="#9192c1"/>
<circle cx="277" cy="167.5" r="4.5" fill="#918bbc"/>
<circle cx="329.5" cy="167.5" r="3" fill="#8483b5"/>
<circle cx="337.5" cy="144" r="4" fill="#c58575"/>
<circle cx="298" cy="240.5" r="4" fill="#7b7aaf"/>
<circle cx="286.5" cy="235" r="4" fill="#bc94a0"/>
<circle cx="290.5" cy="244" r="5" fill="#8482af"/>
<circle cx="354" cy="207.5" r="3.5" fill="#8f91be"/>
<circle cx="286" cy="145" r="3.5" fill="#aa6b66"/>
<circle cx="365" cy="157.5" r="3.5" fill="#8c89b9"/>
<circle cx="292" cy="226" r="4" fill="#c09aa1"/>
<circle cx="379.5" cy="144" r="4" fill="#8b91b2"/>
<circle cx="390.5" cy="195.5" r="3.5" fill="#b57e74"/>
<circle cx="317" cy="150.5" r="4.5" fill="#8681aa"/>
<circle cx="317.5" cy="243.5" r="4" fill="#7d7ea2"/>
<circle cx="304" cy="153" r="4" fill="#9891b5"/>
<circle cx="286.5" cy="152.5" r="3" fill="#7976a0"/>
<circle cx="313" cy="236" r="4.5" fill="#6f6d9d"/>
<circle cx="278" cy="159.5" r="5" fill="#b98e96"/>
<circle cx="388" cy="244.5" r="3" fill="#7c7ea5"/>
<circle cx="393" cy="165" r="4" fill="#8b82af"/>
<circle cx="313" cy="240" r="3.5" fill="#908cb5"/>
<circle cx="330" cy="213.5" r="4" fill="#7675a4"/>
<circle cx="308" cy="141.5" r="3" fill="#7d7d9f"/>
<circle cx="312" cy="218.5" r="4.5" fill="#8584aa"/>
<circle cx="367.5" cy="199.5" r="5" fill="#8285b0"/>
<circle cx="327" cy="196" r="4" fill="#9793b9"/>
<circle cx="324.5" cy="195.5" r="3.5" fill="#c09394"/>
<circle cx="374" cy="160" r="3.5" fill="#7d76ac"/>
<circle cx="344" cy="238" r="4" fill="#8381ab"/>
<circle cx="376" cy="158" r="4.5" fill="#847da6"/>
<circle cx="391" cy="228" r="4.5" fill="#8a93b4"/>
<circle cx="289.5" cy="167" r="3.5" fill="#c295a1"/>
<circle cx="294" cy="144.5" r="3.5" fill="#cba1b0"/>
<circle cx="392.5" cy="182.5" r="5" fill="#968cba"/>
<circle cx="379.5" cy="151" r="4" fill="#9089ae"/>
<circle cx="270" cy="231" r="4.5" fill="#ba7f7b"/>
<circle cx="369" cy="244" r="5" fill="#cca4a4"/>
<circle cx="355.5" cy="194.5" r="3.5" fill="#7472a1"/>
<circle cx="365.5" cy="149" r="4" fill="#ab6b6b"/>
<circle cx="337" cy="186" r="4.5" fill="#bd8c96"/>
<circle cx="286.5" cy="202.5" r="3.5" fill="#8f89b4"/>
<circle cx="309" cy="192.5" r="3.5" fill="#8688ae"/>
<circle cx="315.5" cy="172.5" r="5" fill="#6c74a1"/>
<circle cx="313.5" cy="202.5" r="4" fill="#74799b"/>
<circle cx="393" cy="238" r="4.5" fill="#bd99a2"/>
<circle cx="378" cy="227.5" r="4" fill="#caa5a6"/>
<circle cx="304.5" cy="242.5" r="4.5" fill="#7d7aa8"/>
<circle cx="302.5" cy="152" r="3.5" fill="#c39a9d"/>
<circle cx="332" cy="216.5" r="4" fill="#7c7aab"/>
<circle cx="311.5" cy="207.5" r="3" fill="#bb7a6a"/>
<circle cx="304" cy="241.5" r="3.5" fill="#c7877c"/>
<circle cx="325.5" cy="189.5" r="4.5" fill="#c9a6ad"/>
<circle cx="336" cy="231.5" r="3" fill="#8d91b5"/>
<circle cx="394" cy="195" r="4.5" fill="#8d8eb5"/>
<circle cx="324.5" cy="204.5" r="3" fill="#857eab"/>
<circle cx="277" cy="184" r="4.5" fill="#bb9397"/>
<circle cx="376" cy="221.5" r="4.5" fill="#8580ae"/>
<circle cx="275.5" cy="229.5" r="3.5" fill="#8788b1"/>
<circle cx="317" cy="243" r="3" fill="#8280a3"/>
<circle cx="314.5" cy="162" r="4.5" fill="#8285a9"/>
<circle cx="338" cy="232.5" r="3.5" fill="#c19d9c"/>
<circle cx="323" cy="231" r="4.5" fill="#b87e7a"/>
<circle cx="358.5" cy="177.5" r="3.5" fill="#887faf"/>
<circle cx="306.5" cy="192.5" r="3.5" fill="#7c7fad"/>
<circle cx="319" cy="178.5" r="5" fill="#8281a8"/>
<circle cx="351" cy="232" r="3.5" fill="#787ba7"/>
<circle cx="342.5" cy="154.5" r="4" fill="#d5a2aa"/>
<circle cx="296" cy="178.5" r="3" fill="#857ea5"/>
<circle cx="346.5" cy="154" r="3" fill="#c68b7d"/>
<circle cx="278.5" cy="173" r="3.5" fill="#8182a6"/>
<circle cx="304" cy="142" r="4.5" fill="#898aac"/>
<circle cx="336.5" cy="236.5" r="4" fill="#ba95a1"/>
<circle cx="336" cy="217" r="3.5" fill="#72749d"/>
<circle cx="373.5" cy="228" r="4.5" fill="#938fb7"/>
<circle cx="384.5" cy="186" r="4.5" fill="#c0979a"/>
<circle cx="355" cy="152" r="3.5" fill="#7f7aac"/>
<circle cx="380" cy="179" r="4.5" fill="#ccabab"/>
<circle cx="328.5" cy="233.5" r="3" fill="#bb9196"/>
<circle cx="304.5" cy="159" r="3.5" fill="#898cb6"/>
<circle cx="373" cy="202.5" r="4" fill="#cc9ea2"/>
<circle cx="279" cy="142" r="4.5" fill="#898fb9"/>
<circle cx="313" cy="140" r="3" fill="#c6a2a3"/>
<circle cx="374" cy="158.5" r="3.5" fill="#8984ae"/>
<circle cx="303" cy="180" r="5" fill="#9792b6"/>
<circle cx="333" cy="185" r="3.5" fill="#c499a3"/>
<circle cx="348" cy="209" r="4.5" fill="#d1a3ac"/>
<circle cx="323.5" cy="149.5" r="3.5" fill="#8a88ab"/>
<circle cx="393" cy="212.5" r="3" fill="#7e7fa1"/>
<circle cx="278.5" cy="186" r="5" fill="#9b90b9"/>
<circle cx="364" cy="244" r="5" fill="#c4959b"/>
<circle cx="276.5" cy="140" r="4" fill="#8382b0"/>
<circle cx="329" cy="183.5" r="3.5" fill="#8c87b0"/>
<circle cx="382" cy="226.5" r="5" fill="#bc9598"/>
<circle cx="310.5" cy="183.5" r="3" fill="#7e7db0"/>
<circle cx="342.5" cy="232.5" r="3.5" fill="#bf7d73"/>
<circle cx="293.5" cy="180.5" r="3.5" fill="#928ec0"/>
<circle cx="279.5" cy="207" r="4" fill="#bb7d77"/>
<circle cx="271.5" cy="238" r="3.5" fill="#858cb2"/>
<circle cx="335" cy="200" r="3.5" fill="#797dae"/>
<circle cx="279" cy="163.5" r="4" fill="#c4969a"/>
<circle cx="328" cy="230" r="4" fill="#827ea7"/>
<circle cx="336.5" cy="169" r="3.5" fill="#898cae"/>
<circle cx="393" cy="209" r="4.5" fill="#9495be"/>
<circle cx="335.5" cy="160.5" r="4.5" fill="#6b749f"/>
<circle cx="306" cy="234.5" r="3" fill="#d4aaab"/>
<circle cx="285" cy="195.5" r="4" fill="#938eb2"/>
<circle cx="347" cy="176.5" r="4" fill="#ba8f96"/>
<circle cx="366" cy="235.5" r="3.5" fill="#8e91b7"/>
<circle cx="377.5" cy="217" r="4" fill="#8180a8"/>
<circle cx="294" cy="145.5" r="4" fill="#74779d"/>
<circle cx="323" cy="172" r="3" fill="#8984a7"/>
<circle cx="292.5" cy="231.5" r="3.5" fill="#8d94b4"/>
<circle cx="295.5" cy="226" r="3.5" fill="#8a8bb2"/>
<circle cx="387.5" cy="151.5" r="4" fill="#918fb6"/>
<circle cx="384.5" cy="181" r="4.5" fill="#7e83ad"/>
<circle cx="295" cy="159" r="4.5" fill="#9896ba"/>
<circle cx="273" cy="192" r="4" fill="#d4a2a7"/>
<circle cx="317" cy="229.5" r="4" fill="#7978a8"/>
<circle cx="374" cy="145" r="4.5" fill="#bb9696"/>
<circle cx="319" cy="180.5" r="3.5" fill="#be9a97"/>
<circle cx="290.5" cy="165.5" r="3" fill="#7679aa"/>
<circle cx="301.5" cy="212.5" r="5" fill="#ba7f76"/>
<circle cx="311.5" cy="151" r="4.5" fill="#bd9497"/>
<circle cx="296" cy="186" r="3.5" fill="#c99aa9"/>
<circle cx="340" cy="165" r="5" fill="#9089af"/>
<circle cx="357" cy="162" r="4.5" fill="#8a8eb2"/>
<circle cx="353.5" cy="203.5" r="4" fill="#8e84ac"/>
<circle cx="290.5" cy="218.5" r="4" fill="#c69ea9"/>
<circle cx="318.5" cy="196" r="3.5" fill="#7d7fa6"/>
<circle cx="344" cy="205.5" r="4" fill="#76789f"/>
<circle cx="324.5" cy="145" r="3.5" fill="#938fbd"/>
<circle cx="368.5" cy="230" r="4.5" fill="#8577a4"/>
<circle cx="330.5" cy="200.5" r="5" fill="#8180a6"/>
<circle cx="302" cy="234.5" r="4" fill="#c19a97"/>
<circle cx="355.5" cy="162.5" r="3.5" fill="#ceaaa9"/>
<circle cx="372" cy="243.5" r="3" fill="#8984b5"/>
<circle cx="312" cy="244.5" r="3.5" fill="#b17671"/>
<circle cx="329.5" cy="158" r="4" fill="#8887ab"/>
<circle cx="359.5" cy="175" r="3.5" fill="#7572a0"/>
<circle cx="361.5" cy="201" r="4" fill="#817fab"/>
<circle cx="281.5" cy="195" r="3.5" fill="#8789b5"/>
<circle cx="376.5" cy="189.5" r="4.5" fill="#bf9091"/>
<circle cx="337" cy="230.5" r="3" fill="#a86e66"/>
<circle cx="325" cy="191" r="4" fill="#bd8e9c"/>
<circle cx="342.5" cy="226.5" r="4.5" fill="#918eb9"/>
<circle cx="294" cy="149" r="3.5" fill="#7b7aa9"/>
<circle cx="365" cy="197.5" r="4.5" fill="#928eb0"/>
<circle cx="306.5" cy="233.5" r="3.5" fill="#c79aa4"/>
<circle cx="381" cy="196.5" r="4.5" fill="#ba929e"/>
<circle cx="394" cy="227.5" r="4" fill="#9092ba"/>
<circle cx="363.5" cy="170" r="5" fill="#8385ac"/>
<circle cx="269.5" cy="211" r="3" fill="#bd969c"/>
<circle cx="361.5" cy="176" r="4.5" fill="#786fa2"/>
<circle cx="329" cy="199" r="4" fill="#c29c9d"/>
<circle cx="300" cy="213" r="3.5" fill="#8a8fb6"/>
<circle cx="339.5" cy="180" r="3.5" fill="#8283ac"/>
<circle cx="282" cy="197.5" r="4" fill="#b8736a"/>
<circle cx="309" cy="216" r="3.5" fill="#837dac"/>
<circle cx="290" cy="181" r="3.5" fill="#8c8bb4"/>
<circle cx="293" cy="182.5" r="4.5" fill="#898ba9"/>
<circle cx="341.5" cy="150.5" r="3.5" fill="#787ca4"/>
<circle cx="275" cy="190" r="5" fill="#837da9"/>
<circle cx="293.5" cy="192.5" r="3.5" fill="#8d8ab2"/>
<circle cx="289.5" cy="149.5" r="5" fill="#8381a9"/>
<circle cx="336.5" cy="237" r="4.5" fill="#8b84ac"/>
<circle cx="378.5" cy="193.5" r="3" fill="#9397b6"/>
<circle cx="318.5" cy="146" r="3.5" fill="#7d7da1"/>
<circle cx="303" cy="172.5" r="4" fill="#807ea4"/>
<circle cx="388" cy="151.5" r="4" fill="#7877a8"/>
<circle cx="389" cy="189.5" r="3.5" fill="#c499a8"/>
<circle cx="323.5" cy="167" r="3.5" fill="#847da0"/>
<circle cx="390.5" cy="158.5" r="3.5" fill="#7780aa"/>
<circle cx="341" cy="193" r="3" fill="#797ba0"/>
<circle cx="293.5" cy="162.5" r="3.5" fill="#8486ad"/>
<circle cx="393.5" cy="223" r="4" fill="#8e92b7"/>
<circle cx="361.5" cy="234.5" r="3.5" fill="#bc909d"/>
<circle cx="280.5" cy="213.5" r="4.5" fill="#9794b5"/>
<circle cx="363.5" cy="163" r="4" fill="#cca2af"/>
<circle cx="326.5" cy="242.5" r="4" fill="#8f91bd"/>
<circle cx="309.5" cy="220" r="4.5" fill="#d3a7aa"/>
<circle cx="289" cy="209.5" r="3.5" fill="#7976ac"/>
<circle cx="302.5" cy="193" r="4" fill="#d0aaa9"/>
<circle cx="315.5" cy="231.5" r="3.5" fill="#8d89b5"/>
</g>
<g fill-opacity="0.62"><circle cx="299" cy="143.5" r="2" fill="#8a6156"/><circle cx="321.5" cy="222.5" r="2.5" fill="#696a8a"/><circle cx="290.5" cy="146.5" r="2" fill="#a07f82"/><circle cx="372.5" cy="152" r="2.5" fill="#605c80"/><circle cx="278.5" cy="188" r="2" fill="#a08586"/><circle cx="365.5" cy="232.5" r="2" fill="#72758b"/><circle cx="311.5" cy="203.5" r="2" fill="#9d7c82"/><circle cx="278" cy="198" r="2" fill="#6e6d8e"/><circle cx="351.5" cy="203" r="2.5" fill="#797390"/><circle cx="295" cy="177" r="2" fill="#696693"/><circle cx="396" cy="174" r="2" fill="#737299"/><circle cx="323.5" cy="149" r="2" fill="#706d8e"/><circle cx="336" cy="182.5" r="2" fill="#6b728d"/><circle cx="389" cy="190.5" r="2" fill="#997883"/><circle cx="366.5" cy="182" r="2.5" fill="#5f5c84"/><circle cx="395.5" cy="236" r="2" fill="#9b727e"/><circle cx="303.5" cy="186" r="2" fill="#a27f7e"/><circle cx="362.5" cy="170.5" r="2" fill="#76758f"/><circle cx="321.5" cy="147" r="2.5" fill="#6a6786"/><circle cx="393" cy="232" r="2" fill="#9a737e"/><circle cx="315" cy="155.5" r="2" fill="#666989"/><circle cx="313" cy="229.5" r="2" fill="#9e8082"/><circle cx="305" cy="188.5" r="2" fill="#5b5c80"/><circle cx="284" cy="196" r="2.5" fill="#a47b80"/><circle cx="275" cy="197" r="2" fill="#787395"/><circle cx="299.5" cy="154" r="2.5" fill="#707393"/><circle cx="365.5" cy="222" r="2" fill="#737692"/><circle cx="333.5" cy="227.5" r="2" fill="#96777a"/><circle cx="338" cy="168" r="2" fill="#997d81"/><circle cx="290.5" cy="141.5" r="2.5" fill="#6a638b"/><circle cx="384.5" cy="188.5" r="2" fill="#72728f"/><circle cx="289.5" cy="158.5" r="2" fill="#976559"/><circle cx="313.5" cy="186.5" r="2" fill="#5a5b82"/><circle cx="320.5" cy="228.5" r="2" fill="#a58084"/><circle cx="374" cy="237" r="2" fill="#706f8b"/><circle cx="281.5" cy="210" r="2" fill="#69658a"/><circle cx="314.5" cy="193" r="2" fill="#905a4f"/><circle cx="382.5" cy="240.5" r="2.5" fill="#a17e86"/><circle cx="349" cy="159.5" r="2" fill="#625b83"/><circle cx="386.5" cy="158" r="2" fill="#656381"/><circle cx="308.5" cy="168" r="2" fill="#a8858a"/><circle cx="388.5" cy="240" r="2" fill="#656a90"/><circle cx="304.5" cy="152" r="2.5" fill="#7a7294"/><circle cx="277.5" cy="164" r="2" fill="#6a6b92"/><circle cx="297.5" cy="241.5" r="2" fill="#62628c"/><circle cx="287" cy="234.5" r="2" fill="#967680"/><circle cx="291" cy="243.5" r="2.5" fill="#6a688c"/><circle cx="365" cy="157" r="2" fill="#706e94"/><circle cx="291.5" cy="226" r="2" fill="#9a7b81"/><circle cx="378.5" cy="143.5" r="2" fill="#6f748e"/><circle cx="316" cy="151" r="2.5" fill="#6b6788"/><circle cx="303.5" cy="152.5" r="2" fill="#7a7491"/><circle cx="367" cy="199.5" r="2.5" fill="#686a8d"/><circle cx="343" cy="237.5" r="2" fill="#696789"/><circle cx="393.5" cy="182.5" r="2.5" fill="#787095"/><circle cx="379" cy="152" r="2" fill="#736e8b"/><circle cx="369" cy="243" r="2.5" fill="#a38383"/><circle cx="337.5" cy="185.5" r="2" fill="#977078"/><circle cx="377" cy="228" r="2" fill="#a28485"/><circle cx="304.5" cy="242.5" r="2.5" fill="#646286"/><circle cx="303.5" cy="152.5" r="2" fill="#9c7b7e"/><circle cx="394" cy="196" r="2" fill="#717291"/><circle cx="359" cy="177.5" r="2" fill="#6d668c"/><circle cx="279" cy="173.5" r="2" fill="#676885"/><circle cx="337" cy="236" r="2" fill="#957781"/><circle cx="355" cy="151.5" r="2" fill="#66628a"/><circle cx="303" cy="180" r="2.5" fill="#797592"/><circle cx="279.5" cy="186.5" r="2.5" fill="#7c7394"/><circle cx="364.5" cy="244" r="2.5" fill="#9d777c"/><circle cx="277" cy="139" r="2" fill="#69688d"/><circle cx="278.5" cy="162.5" r="2" fill="#9d787b"/><circle cx="392.5" cy="209.5" r="2" fill="#767798"/><circle cx="335.5" cy="161" r="2.5" fill="#565d7f"/><circle cx="284.5" cy="196" r="2" fill="#76728e"/><circle cx="376.5" cy="218" r="2" fill="#676686"/><circle cx="294" cy="145.5" r="2" fill="#5d5f7e"/><circle cx="384" cy="181.5" r="2" fill="#65698a"/><circle cx="272" cy="192.5" r="2" fill="#aa8286"/><circle cx="317.5" cy="230" r="2" fill="#616086"/><circle cx="302" cy="212" r="2.5" fill="#95665e"/><circle cx="311" cy="150" r="2.5" fill="#977679"/><circle cx="295.5" cy="186.5" r="2" fill="#a17b87"/><circle cx="339" cy="166" r="2.5" fill="#736e8c"/><circle cx="354" cy="204.5" r="2" fill="#726a8a"/><circle cx="290.5" cy="219" r="2" fill="#9e7e87"/><circle cx="344" cy="205.5" r="2" fill="#5e607f"/><circle cx="324" cy="145" r="2" fill="#767297"/><circle cx="356.5" cy="162.5" r="2" fill="#a58887"/><circle cx="330.5" cy="158.5" r="2" fill="#6d6c89"/><circle cx="281.5" cy="196" r="2" fill="#6c6e91"/><circle cx="366" cy="198" r="2" fill="#75728d"/><circle cx="306.5" cy="233" r="2" fill="#9f7b83"/><circle cx="380" cy="197" r="2" fill="#95757e"/><circle cx="361.5" cy="176.5" r="2.5" fill="#605982"/><circle cx="283" cy="197" r="2" fill="#935c55"/><circle cx="293" cy="182.5" r="2.5" fill="#6e6f87"/><circle cx="276" cy="190.5" r="2.5" fill="#696487"/><circle cx="319.5" cy="146.5" r="2" fill="#646481"/><circle cx="303" cy="172" r="2" fill="#666583"/><circle cx="390.5" cy="158" r="2" fill="#5f6688"/><circle cx="294" cy="163" r="2" fill="#6a6b8a"/><circle cx="394" cy="223" r="2" fill="#727592"/><circle cx="361" cy="234" r="2" fill="#96737e"/><circle cx="363" cy="162" r="2" fill="#a3828c"/><circle cx="309.5" cy="219" r="2.5" fill="#a98688"/><circle cx="289" cy="209.5" r="2" fill="#615e8a"/><circle cx="302" cy="194" r="2" fill="#a68887"/></g>
<g fill-opacity="0.75" stroke="#eedce4" stroke-opacity="0.35" stroke-width="1">
<circle cx="327" cy="187" r="5.5" fill="#ba674e"/>
<circle cx="297.5" cy="176" r="6" fill="#b56859"/>
<circle cx="304.5" cy="157.5" r="7.5" fill="#b3685b"/>
<circle cx="332.5" cy="163" r="6.5" fill="#a35f4f"/>
<circle cx="292.5" cy="237.5" r="6.5" fill="#955949"/>
<circle cx="381" cy="179.5" r="5.5" fill="#9b543d"/>
<circle cx="335.5" cy="149.5" r="6.5" fill="#b26459"/>
<circle cx="270.5" cy="193.5" r="6" fill="#9d604f"/>
<circle cx="388.5" cy="147.5" r="7.5" fill="#a35c50"/>
<circle cx="326" cy="223" r="7.5" fill="#c1714e"/>
<circle cx="269.5" cy="201" r="5.5" fill="#ab594a"/>
<circle cx="301.5" cy="219" r="5.5" fill="#ac564d"/>
<circle cx="373" cy="232.5" r="7.5" fill="#8f5147"/>
<circle cx="367.5" cy="148" r="5" fill="#c16e54"/>
<circle cx="352" cy="198.5" r="5" fill="#cb7b64"/>
<circle cx="306.5" cy="160.5" r="8" fill="#c3755d"/>
<circle cx="328" cy="184" r="7.5" fill="#9d564f"/>
<circle cx="320" cy="240" r="7.5" fill="#9d574f"/>
</g>
<g fill-opacity="0.75"><circle cx="326.5" cy="186.5" r="3" fill="#95523e"/><circle cx="296.5" cy="175" r="3" fill="#915347"/><circle cx="332" cy="164" r="3" fill="#824c3f"/><circle cx="380" cy="178.5" r="3" fill="#7c4331"/><circle cx="388" cy="148" r="4" fill="#824a40"/><circle cx="269.5" cy="200.5" r="2.5" fill="#89473b"/><circle cx="351.5" cy="198.5" r="2.5" fill="#a26250"/><circle cx="319.5" cy="241" r="4" fill="#7e463f"/></g>
<g fill-opacity="0.85" stroke="#eedce4" stroke-opacity="0.35" stroke-width="1">
<circle cx="341.5" cy="162.5" r="3.5" fill="#656ea8"/>
<circle cx="279.5" cy="141" r="3.5" fill="#557ebb"/>
<circle cx="269.5" cy="153.5" r="2.5" fill="#54649f"/>
<circle cx="311" cy="155.5" r="3" fill="#4d5e98"/>
<circle cx="297" cy="205.5" r="3" fill="#618cbe"/>
<circle cx="284.5" cy="153.5" r="3" fill="#6b6696"/>
<circle cx="366.5" cy="168.5" r="3" fill="#8277a5"/>
<circle cx="348" cy="169" r="4" fill="#5162a0"/>
<circle cx="357" cy="140" r="3" fill="#7d6fa2"/>
<circle cx="302.5" cy="230.5" r="3.5" fill="#5f6ba5"/>
<circle cx="305.5" cy="206.5" r="3.5" fill="#5e6ca1"/>
<circle cx="295" cy="150.5" r="4" fill="#8373a5"/>
<circle cx="322" cy="187.5" r="3.5" fill="#616cb0"/>
<circle cx="272.5" cy="195" r="3.5" fill="#678cc2"/>
<circle cx="322" cy="177" r="3" fill="#716498"/>
<circle cx="364.5" cy="233" r="3.5" fill="#4e639b"/>
<circle cx="320" cy="171.5" r="3.5" fill="#555fa1"/>
<circle cx="366.5" cy="219.5" r="2.5" fill="#648dc4"/>
<circle cx="333.5" cy="204" r="4" fill="#6e6394"/>
<circle cx="311.5" cy="216" r="3.5" fill="#545e98"/>
<circle cx="341.5" cy="230" r="3.5" fill="#7e75a3"/>
<circle cx="306.5" cy="146" r="3.5" fill="#786ea2"/>
<circle cx="378.5" cy="201" r="4" fill="#587bad"/>
<circle cx="370" cy="218" r="2.5" fill="#7b76a2"/>
<circle cx="366.5" cy="177" r="3.5" fill="#587fb9"/>
<circle cx="378.5" cy="204.5" r="4" fill="#8975aa"/>
<circle cx="320" cy="157" r="4" fill="#5f6cab"/>
<circle cx="280" cy="163.5" r="3.5" fill="#8670ad"/>
<circle cx="309" cy="174" r="2.5" fill="#4f7bb2"/>
<circle cx="347" cy="241" r="4" fill="#5680bd"/>
<circle cx="340" cy="209.5" r="3.5" fill="#6170b0"/>
<circle cx="269.5" cy="213" r="3.5" fill="#5c6da7"/>
<circle cx="336" cy="221.5" r="3.5" fill="#577ab8"/>
<circle cx="312.5" cy="207.5" r="2.5" fill="#8575af"/>
<circle cx="333" cy="222" r="2.5" fill="#5d6ba4"/>
<circle cx="323.5" cy="226.5" r="3" fill="#5e75a8"/>
<circle cx="379" cy="195" r="4" fill="#5f73ab"/>
<circle cx="332" cy="214" r="3" fill="#5785b6"/>
<circle cx="334" cy="242" r="2.5" fill="#6470af"/>
<circle cx="387" cy="191.5" r="3" fill="#7d6ca6"/>
</g>
<g fill-opacity="0.85"><circle cx="348.5" cy="170" r="2" fill="#414e80"/><circle cx="322" cy="186.5" r="2" fill="#4e568d"/><circle cx="379.5" cy="201.5" r="2" fill="#46628a"/><circle cx="348" cy="240.5" r="2" fill="#456697"/><circle cx="268.5" cy="212" r="2" fill="#4a5786"/></g>
<circle cx="335.5" cy="165" r="11.5" fill="#9c5448" fill-opacity="0.9" stroke="#eedce4" stroke-opacity="0.4"/>
<circle cx="330" cy="168" r="6.5" fill="#90493b" fill-opacity="0.72"/>
<circle cx="329.5" cy="167.5" r="5.5" fill="#934341" fill-opacity="0.72"/>
<circle cx="331.5" cy="161.5" r="5" fill="#a16253" fill-opacity="0.72"/>
<circle cx="333.5" cy="160" r="6.5" fill="#955241" fill-opacity="0.72"/>
<circle cx="338.5" cy="169.5" r="6" fill="#aa5d54" fill-opacity="0.72"/>
<circle cx="335" cy="165" r="4.5" fill="#8b5774" fill-opacity="0.55"/>
<circle cx="334.5" cy="163.5" r="5" fill="#89546e" fill-opacity="0.55"/>
<circle cx="336" cy="164" r="5" fill="#7f4e6e" fill-opacity="0.55"/>
<circle cx="297.4" cy="175.3" r="10.5" fill="#a45a4a" fill-opacity="0.9" stroke="#eedce4" stroke-opacity="0.4"/>
<circle cx="299" cy="181.5" r="4.5" fill="#a35b44" fill-opacity="0.72"/>
<circle cx="301" cy="179" r="6.5" fill="#a85a50" fill-opacity="0.72"/>
<circle cx="303.5" cy="178.5" r="5" fill="#9b5047" fill-opacity="0.72"/>
<circle cx="303" cy="173" r="5" fill="#9b4f3e" fill-opacity="0.72"/>
<circle cx="298.5" cy="180" r="5" fill="#955342" fill-opacity="0.72"/>
<circle cx="298" cy="177" r="5" fill="#8c5048" fill-opacity="0.55"/>
<circle cx="299.5" cy="173.5" r="4.5" fill="#9d635a" fill-opacity="0.55"/>
<circle cx="296" cy="176" r="4.5" fill="#9b6150" fill-opacity="0.55"/>
<circle cx="277.8" cy="184.5" r="10.5" fill="#985046" fill-opacity="0.9" stroke="#eedce4" stroke-opacity="0.4"/>
<circle cx="283" cy="185.5" r="5" fill="#925443" fill-opacity="0.72"/>
<circle cx="272.5" cy="184.5" r="6" fill="#924240" fill-opacity="0.72"/>
<circle cx="272.5" cy="187" r="5" fill="#9f5e52" fill-opacity="0.72"/>
<circle cx="283.5" cy="180.5" r="6" fill="#91413f" fill-opacity="0.72"/>
<circle cx="282" cy="182.5" r="4.5" fill="#a05c54" fill-opacity="0.72"/>
<circle cx="279.5" cy="184.5" r="5" fill="#955157" fill-opacity="0.55"/>
<circle cx="277.5" cy="186" r="4" fill="#84454f" fill-opacity="0.55"/>
<circle cx="277.5" cy="185.5" r="4.5" fill="#8f4a4c" fill-opacity="0.55"/>
<circle cx="303.2" cy="201.8" r="11.5" fill="#a85848" fill-opacity="0.9" stroke="#eedce4" stroke-opacity="0.4"/>
<circle cx="300" cy="198" r="7" fill="#9b4e3d" fill-opacity="0.72"/>
<circle cx="306" cy="205.5" r="6.5" fill="#a05147" fill-opacity="0.72"/>
<circle cx="308.5" cy="202.5" r="7" fill="#a44a3c" fill-opacity="0.72"/>
<circle cx="310" cy="204" r="6" fill="#b4634c" fill-opacity="0.72"/>
<circle cx="298.5" cy="203" r="7" fill="#a4594a" fill-opacity="0.72"/>
<circle cx="303.5" cy="201.5" r="5.5" fill="#7d404c" fill-opacity="0.55"/>
<circle cx="305" cy="203.5" r="5" fill="#78303a" fill-opacity="0.55"/>
<circle cx="303" cy="203" r="4.5" fill="#7c3a44" fill-opacity="0.55"/>
<circle cx="355.1" cy="194.9" r="10.5" fill="#a06058" fill-opacity="0.9" stroke="#eedce4" stroke-opacity="0.4"/>
<circle cx="358.5" cy="198" r="6" fill="#a55f52" fill-opacity="0.72"/>
<circle cx="350.5" cy="195.5" r="6" fill="#ae6563" fill-opacity="0.72"/>
<circle cx="357.5" cy="201.5" r="4.5" fill="#a7615e" fill-opacity="0.72"/>
<circle cx="358" cy="198" r="5" fill="#925550" fill-opacity="0.72"/>
<circle cx="354.5" cy="200.5" r="6" fill="#985956" fill-opacity="0.72"/>
<circle cx="354.5" cy="196" r="4" fill="#7a4962" fill-opacity="0.55"/>
<circle cx="354.5" cy="196" r="4.5" fill="#885871" fill-opacity="0.55"/>
<circle cx="355" cy="193.5" r="5" fill="#794f68" fill-opacity="0.55"/>
<circle cx="364.3" cy="219.2" r="11.5" fill="#a85e50" fill-opacity="0.9" stroke="#eedce4" stroke-opacity="0.4"/>
<circle cx="366" cy="224.5" r="6.5" fill="#b96b5a" fill-opacity="0.72"/>
<circle cx="362" cy="224" r="6" fill="#a45854" fill-opacity="0.72"/>
<circle cx="371" cy="217" r="7" fill="#ad5f54" fill-opacity="0.72"/>
<circle cx="368.5" cy="213.5" r="7" fill="#aa6558" fill-opacity="0.72"/>
<circle cx="365" cy="224.5" r="5" fill="#9c5244" fill-opacity="0.72"/>
<circle cx="363.5" cy="218" r="6" fill="#6c4c5e" fill-opacity="0.55"/>
<circle cx="365.5" cy="218.5" r="4" fill="#76415e" fill-opacity="0.55"/>
<circle cx="363.5" cy="220" r="4.5" fill="#7d5774" fill-opacity="0.55"/>
<circle cx="302" cy="223.8" r="9" fill="#a45a4a" fill-opacity="0.9" stroke="#eedce4" stroke-opacity="0.4"/>
<circle cx="296" cy="222.5" r="4" fill="#af6c59" fill-opacity="0.72"/>
<circle cx="302" cy="229.5" r="4" fill="#a85746" fill-opacity="0.72"/>
<circle cx="304" cy="220.5" r="5" fill="#9f5d48" fill-opacity="0.72"/>
<circle cx="301.5" cy="229.5" r="5.5" fill="#a45048" fill-opacity="0.72"/>
<circle cx="298.5" cy="221.5" r="4.5" fill="#a05343" fill-opacity="0.72"/>
<circle cx="302.5" cy="223" r="3" fill="#9e4d45" fill-opacity="0.55"/>
<circle cx="303.5" cy="222.5" r="4.5" fill="#934f49" fill-opacity="0.55"/>
<circle cx="302" cy="223" r="3.5" fill="#93493c" fill-opacity="0.55"/>
<circle cx="324" cy="234.2" r="9" fill="#b06a58" fill-opacity="0.9" stroke="#eedce4" stroke-opacity="0.4"/>
<circle cx="318.5" cy="235" r="5" fill="#bb6d63" fill-opacity="0.72"/>
<circle cx="321" cy="231" r="5" fill="#a96855" fill-opacity="0.72"/>
<circle cx="319.5" cy="231" r="5.5" fill="#a76c4f" fill-opacity="0.72"/>
<circle cx="320.5" cy="235.5" r="5" fill="#b37360" fill-opacity="0.72"/>
<circle cx="321" cy="229" r="5" fill="#a05c46" fill-opacity="0.72"/>
<circle cx="364.3" cy="156.8" r="6" fill="#c06a50" fill-opacity="0.9" stroke="#eedce4" stroke-opacity="0.4"/>
<circle cx="366" cy="154.5" r="3" fill="#b76542" fill-opacity="0.72"/>
<circle cx="361.5" cy="157" r="2.5" fill="#be6853" fill-opacity="0.72"/>
<circle cx="363" cy="153" r="3.5" fill="#cb7459" fill-opacity="0.72"/>
<circle cx="363" cy="159.5" r="3.5" fill="#af5f3e" fill-opacity="0.72"/>
<circle cx="361.5" cy="157" r="3.5" fill="#c5735f" fill-opacity="0.72"/>
<circle cx="336.6" cy="188" r="4.8" fill="#c87050" fill-opacity="0.9" stroke="#eedce4" stroke-opacity="0.4"/>
<circle cx="380.5" cy="200.7" r="7.5" fill="#a86050" fill-opacity="0.9" stroke="#eedce4" stroke-opacity="0.4"/>
<circle cx="376.5" cy="203.5" r="3.5" fill="#a46550" fill-opacity="0.72"/>
<circle cx="382.5" cy="197" r="3.5" fill="#ae705f" fill-opacity="0.72"/>
<circle cx="380.5" cy="205" r="3.5" fill="#ac5e50" fill-opacity="0.72"/>
<circle cx="383.5" cy="201.5" r="4" fill="#ab5e52" fill-opacity="0.72"/>
<circle cx="376" cy="198.5" r="3.5" fill="#9c533d" fill-opacity="0.72"/>
<circle cx="379.5" cy="200.5" r="3.5" fill="#8d4e52" fill-opacity="0.55"/>
<circle cx="380" cy="199.5" r="3.5" fill="#813c42" fill-opacity="0.55"/>
<circle cx="381.5" cy="202" r="3" fill="#96545b" fill-opacity="0.55"/>
<circle cx="318.2" cy="186.8" r="8.5" fill="#9a6a80" fill-opacity="0.85" stroke="#eedce4" stroke-opacity="0.4"/>
<circle cx="322" cy="187" r="5" fill="#9c6379" fill-opacity="0.68"/>
<circle cx="319.5" cy="192.5" r="4.5" fill="#8d6372" fill-opacity="0.68"/>
<circle cx="320.5" cy="184" r="5" fill="#a3778e" fill-opacity="0.68"/>
<circle cx="314" cy="188" r="5" fill="#935c79" fill-opacity="0.68"/>
<circle cx="322.5" cy="186" r="5" fill="#93637f" fill-opacity="0.68"/>
<circle cx="281" cy="217" r="8.5" fill="#b07060" fill-opacity="0.85" stroke="#eedce4" stroke-opacity="0.4"/>
<circle cx="279.5" cy="220" r="4.5" fill="#b47260" fill-opacity="0.68"/>
<circle cx="280" cy="213" r="4" fill="#a06258" fill-opacity="0.68"/>
<circle cx="277.5" cy="219.5" r="4" fill="#aa6e54" fill-opacity="0.68"/>
<circle cx="279" cy="211.5" r="4.5" fill="#b98068" fill-opacity="0.68"/>
<circle cx="282" cy="220.5" r="3.5" fill="#b6776b" fill-opacity="0.68"/>
<circle cx="385" cy="219" r="7.5" fill="#a87068" fill-opacity="0.85" stroke="#eedce4" stroke-opacity="0.4"/>
<circle cx="385" cy="223.5" r="3.5" fill="#bc7f7c" fill-opacity="0.68"/>
<circle cx="387.5" cy="215" r="3.5" fill="#a36d66" fill-opacity="0.68"/>
<circle cx="387.5" cy="216" r="4" fill="#a06361" fill-opacity="0.68"/>
<circle cx="382" cy="216" r="4.5" fill="#a67667" fill-opacity="0.68"/>
<circle cx="386.5" cy="222.5" r="4" fill="#9d6461" fill-opacity="0.68"/>
<circle cx="292.8" cy="144" r="4.8" fill="#2a3a70" fill-opacity="0.95" stroke="#eedce4" stroke-opacity="0.4"/>
<circle cx="319.3" cy="159" r="4.2" fill="#4a5a98" fill-opacity="0.95" stroke="#eedce4" stroke-opacity="0.4"/>
<circle cx="366.6" cy="183.4" r="3.6" fill="#203058" fill-opacity="0.95" stroke="#eedce4" stroke-opacity="0.4"/>
<circle cx="366.6" cy="195" r="4.2" fill="#4a70a8" fill-opacity="0.95" stroke="#eedce4" stroke-opacity="0.4"/>
<circle cx="341" cy="205" r="3.6" fill="#5a60a0" fill-opacity="0.95" stroke="#eedce4" stroke-opacity="0.4"/>
<circle cx="314.7" cy="216.8" r="3.6" fill="#5a68a0" fill-opacity="0.95" stroke="#eedce4" stroke-opacity="0.4"/>
<circle cx="325" cy="216.8" r="3.6" fill="#6068a0" fill-opacity="0.95" stroke="#eedce4" stroke-opacity="0.4"/>
</g>
<path d="M326 146.5H388.5" stroke="#6a4a5a" stroke-opacity="0.16" stroke-width="1"/>
<rect x="355" y="147" width="5" height="2" fill="#fff"/>
</g>
<clipPath id="c11"><rect x="400" y="143" width="119.5" height="98"/></clipPath>
<g clip-path="url(#c11)"><rect x="400" y="143" width="119.5" height="98" fill="#ecdce2"/><g filter="url(#bl)">
<g fill-opacity="0.75" stroke="#f6eaee" stroke-opacity="0.3" stroke-width="1">
<circle cx="426" cy="150" r="5.5" fill="#a25c66"/>
<circle cx="446.5" cy="155.5" r="5.5" fill="#728bb8"/>
<circle cx="404.5" cy="181.5" r="6" fill="#6f8cbe"/>
<circle cx="513" cy="224" r="5" fill="#36699c"/>
<circle cx="493.5" cy="162.5" r="3.5" fill="#8d8fb5"/>
<circle cx="464.5" cy="168.5" r="5.5" fill="#7f4e6d"/>
<circle cx="418" cy="150.5" r="4" fill="#9697b8"/>
<circle cx="423.5" cy="237.5" r="5.5" fill="#416da7"/>
<circle cx="501.5" cy="224.5" r="5" fill="#728cc5"/>
<circle cx="498" cy="159.5" r="5" fill="#9492af"/>
<circle cx="435.5" cy="205.5" r="4" fill="#35629e"/>
<circle cx="489.5" cy="229.5" r="5.5" fill="#325f9f"/>
<circle cx="508" cy="148" r="4.5" fill="#f79d7c"/>
<circle cx="473" cy="210" r="5.5" fill="#fa9974"/>
<circle cx="460.5" cy="158" r="4.5" fill="#3b65a2"/>
<circle cx="456.5" cy="148.5" r="5.5" fill="#7e4f6b"/>
<circle cx="515" cy="230.5" r="4" fill="#f49969"/>
<circle cx="466" cy="171" r="3.5" fill="#3863a2"/>
<circle cx="512" cy="199.5" r="5" fill="#a2a2c3"/>
<circle cx="508.5" cy="229" r="4.5" fill="#a0546d"/>
<circle cx="461" cy="183" r="6" fill="#446aaf"/>
<circle cx="472.5" cy="184.5" r="3.5" fill="#a2a1bc"/>
<circle cx="416.5" cy="171.5" r="4" fill="#87586f"/>
<circle cx="499.5" cy="143.5" r="5" fill="#ab6773"/>
<circle cx="402" cy="205.5" r="5.5" fill="#9ea7c5"/>
<circle cx="432" cy="195.5" r="3.5" fill="#39649c"/>
<circle cx="456" cy="175.5" r="5" fill="#f19767"/>
<circle cx="523" cy="159.5" r="5.5" fill="#6381ac"/>
<circle cx="448.5" cy="160.5" r="3.5" fill="#9592af"/>
<circle cx="476.5" cy="168.5" r="5" fill="#eb8a66"/>
<circle cx="441.5" cy="218" r="5" fill="#ee9b70"/>
<circle cx="437" cy="198" r="6" fill="#84526a"/>
<circle cx="511.5" cy="149.5" r="4" fill="#6c8cbb"/>
<circle cx="404" cy="163.5" r="3.5" fill="#8993a7"/>
<circle cx="493.5" cy="204" r="5" fill="#3d639d"/>
<circle cx="426.5" cy="174" r="3.5" fill="#99506c"/>
<circle cx="418.5" cy="187.5" r="6" fill="#697aaf"/>
<circle cx="401.5" cy="213" r="5" fill="#946579"/>
<circle cx="510" cy="240" r="3.5" fill="#617eae"/>
<circle cx="489.5" cy="240.5" r="4.5" fill="#f8a271"/>
<circle cx="398.5" cy="169.5" r="5.5" fill="#a4a1c3"/>
<circle cx="519" cy="221" r="5" fill="#f89c71"/>
<circle cx="448.5" cy="239" r="5" fill="#e68d6a"/>
<circle cx="475" cy="225.5" r="5.5" fill="#4175b2"/>
<circle cx="433.5" cy="159.5" r="4" fill="#677fb0"/>
<circle cx="452.5" cy="153.5" r="5.5" fill="#b86e79"/>
<circle cx="444.5" cy="241" r="5.5" fill="#b56c77"/>
<circle cx="438" cy="140" r="4" fill="#e29269"/>
<circle cx="401.5" cy="157" r="5.5" fill="#4a73ab"/>
<circle cx="496" cy="177.5" r="5.5" fill="#ed8867"/>
<circle cx="433" cy="149.5" r="5.5" fill="#325d9b"/>
<circle cx="521" cy="184" r="5.5" fill="#a65869"/>
<circle cx="422.5" cy="145.5" r="5.5" fill="#a25a6d"/>
<circle cx="403" cy="157" r="5" fill="#b36c7b"/>
<circle cx="482.5" cy="155" r="4" fill="#36669e"/>
<circle cx="401" cy="191" r="4.5" fill="#ec8b60"/>
<circle cx="428" cy="244.5" r="4" fill="#9da5c5"/>
<circle cx="411.5" cy="195" r="5" fill="#8d5a6d"/>
<circle cx="494.5" cy="182.5" r="5" fill="#34659c"/>
<circle cx="522" cy="189.5" r="4" fill="#ab6a77"/>
<circle cx="427" cy="182.5" r="4.5" fill="#e89162"/>
<circle cx="400.5" cy="183.5" r="4" fill="#a1a8c1"/>
<circle cx="427.5" cy="233.5" r="4.5" fill="#7d4d67"/>
<circle cx="502" cy="192" r="4.5" fill="#7691c2"/>
<circle cx="400" cy="166" r="5" fill="#ff9e76"/>
<circle cx="427" cy="161" r="3.5" fill="#6c86b1"/>
<circle cx="425.5" cy="231" r="4" fill="#805267"/>
<circle cx="414" cy="144.5" r="4.5" fill="#6b7db5"/>
<circle cx="514.5" cy="199" r="5.5" fill="#3b6da9"/>
<circle cx="522.5" cy="181.5" r="4.5" fill="#6581af"/>
<circle cx="511" cy="208.5" r="5.5" fill="#fa9d7a"/>
<circle cx="497" cy="218" r="5" fill="#8b617a"/>
<circle cx="459" cy="149" r="5.5" fill="#8d8eb2"/>
<circle cx="423" cy="231.5" r="3.5" fill="#3f6ba4"/>
<circle cx="510.5" cy="237" r="5.5" fill="#a86676"/>
<circle cx="439" cy="208.5" r="4" fill="#37659d"/>
<circle cx="498" cy="207" r="4.5" fill="#6176af"/>
<circle cx="500" cy="195" r="4.5" fill="#a8656c"/>
<circle cx="479.5" cy="211.5" r="5" fill="#6482b0"/>
<circle cx="430" cy="237" r="5" fill="#aa6777"/>
<circle cx="518" cy="147" r="4.5" fill="#8e5c78"/>
<circle cx="520" cy="241" r="4" fill="#f89c6d"/>
<circle cx="481" cy="143.5" r="5" fill="#97647c"/>
<circle cx="510.5" cy="152.5" r="4" fill="#8e93ad"/>
<circle cx="519.5" cy="209.5" r="4.5" fill="#708fbe"/>
<circle cx="403.5" cy="156.5" r="4.5" fill="#f1956f"/>
<circle cx="477" cy="199.5" r="4.5" fill="#a05569"/>
<circle cx="491" cy="237.5" r="5" fill="#f7a476"/>
<circle cx="424" cy="139.5" r="4" fill="#365fa1"/>
<circle cx="513.5" cy="140.5" r="5" fill="#a69cc0"/>
<circle cx="507.5" cy="151.5" r="5.5" fill="#3165a2"/>
<circle cx="499.5" cy="222" r="6" fill="#4468aa"/>
<circle cx="508" cy="197.5" r="4" fill="#ae6176"/>
<circle cx="508" cy="160.5" r="3.5" fill="#4c79b6"/>
<circle cx="481.5" cy="174" r="3.5" fill="#fba271"/>
<circle cx="509.5" cy="221" r="5.5" fill="#8c5c73"/>
<circle cx="456" cy="195" r="4.5" fill="#f08b66"/>
<circle cx="399.5" cy="142.5" r="4" fill="#436ca7"/>
<circle cx="472" cy="191" r="5" fill="#9e5267"/>
<circle cx="506.5" cy="203.5" r="4" fill="#9d5b65"/>
<circle cx="413.5" cy="177.5" r="5.5" fill="#ae6a7b"/>
<circle cx="494" cy="194.5" r="6" fill="#3e6ca4"/>
<circle cx="397.5" cy="228" r="4" fill="#5f7caf"/>
<circle cx="501.5" cy="148" r="6" fill="#8e6472"/>
<circle cx="465.5" cy="179.5" r="5" fill="#ee8f69"/>
<circle cx="496.5" cy="172" r="4.5" fill="#fe9773"/>
<circle cx="426" cy="190.5" r="5.5" fill="#4977b0"/>
<circle cx="519" cy="149" r="4" fill="#a8616b"/>
<circle cx="410.5" cy="205" r="4" fill="#9f586c"/>
<circle cx="509" cy="193.5" r="4" fill="#f59c6a"/>
<circle cx="451.5" cy="230" r="6" fill="#4c77b6"/>
<circle cx="495" cy="146" r="5.5" fill="#af6576"/>
<circle cx="508.5" cy="160" r="4.5" fill="#3d6ba9"/>
<circle cx="434.5" cy="227.5" r="4.5" fill="#9f556b"/>
<circle cx="450" cy="223.5" r="4" fill="#984f68"/>
<circle cx="417.5" cy="231.5" r="4" fill="#4477b0"/>
<circle cx="418.5" cy="155" r="4.5" fill="#f8936a"/>
<circle cx="459" cy="175" r="5" fill="#e9906f"/>
<circle cx="465" cy="235" r="4" fill="#365c9c"/>
<circle cx="486.5" cy="139.5" r="5.5" fill="#3f6aa4"/>
<circle cx="436" cy="197" r="5.5" fill="#a45c73"/>
<circle cx="458" cy="215" r="4.5" fill="#e88c68"/>
<circle cx="457.5" cy="147" r="4" fill="#3f6d9e"/>
<circle cx="427.5" cy="229" r="5" fill="#98687f"/>
<circle cx="441.5" cy="220.5" r="5" fill="#aa6575"/>
<circle cx="521.5" cy="205.5" r="5" fill="#875b70"/>
<circle cx="482.5" cy="203.5" r="5" fill="#3b6ea7"/>
<circle cx="436" cy="236" r="5" fill="#ec9465"/>
<circle cx="455.5" cy="235.5" r="5.5" fill="#9ca1bc"/>
<circle cx="435" cy="231" r="5" fill="#4174ab"/>
<circle cx="496.5" cy="204" r="5" fill="#875d70"/>
<circle cx="452.5" cy="154" r="4" fill="#34689a"/>
<circle cx="494.5" cy="177.5" r="5.5" fill="#627ab0"/>
<circle cx="480.5" cy="153" r="4" fill="#f29169"/>
<circle cx="406.5" cy="154.5" r="5" fill="#ed8f6a"/>
<circle cx="499" cy="158" r="4.5" fill="#8f5b6f"/>
<circle cx="511" cy="178.5" r="5" fill="#a96069"/>
<circle cx="469.5" cy="176" r="3.5" fill="#f99871"/>
<circle cx="475" cy="149" r="5.5" fill="#8e5c71"/>
<circle cx="447.5" cy="238" r="5.5" fill="#6982b3"/>
<circle cx="419" cy="208.5" r="4.5" fill="#4971aa"/>
<circle cx="437.5" cy="171" r="4" fill="#406fa2"/>
<circle cx="399" cy="141" r="4" fill="#7d4d6a"/>
<circle cx="517" cy="227" r="6" fill="#8f5870"/>
<circle cx="498" cy="224.5" r="4.5" fill="#406ea1"/>
<circle cx="517.5" cy="156" r="4.5" fill="#4474b3"/>
<circle cx="470.5" cy="191.5" r="3.5" fill="#8b5d74"/>
<circle cx="469" cy="238.5" r="5.5" fill="#345ea3"/>
<circle cx="493" cy="241.5" r="5.5" fill="#98647d"/>
<circle cx="411" cy="208" r="3.5" fill="#657fb3"/>
<circle cx="482" cy="218" r="5.5" fill="#6d80b6"/>
<circle cx="475" cy="227" r="4" fill="#3e69a5"/>
<circle cx="434.5" cy="237.5" r="4.5" fill="#7d5066"/>
<circle cx="448" cy="202.5" r="4.5" fill="#979bb6"/>
<circle cx="510.5" cy="213.5" r="5.5" fill="#37619b"/>
<circle cx="435.5" cy="163.5" r="5" fill="#9e97bb"/>
<circle cx="437.5" cy="205.5" r="5" fill="#7791c4"/>
<circle cx="523" cy="234.5" r="4" fill="#aa5b6c"/>
<circle cx="447" cy="181.5" r="4.5" fill="#a5a6c4"/>
<circle cx="500" cy="169" r="5.5" fill="#9595af"/>
<circle cx="448.5" cy="140.5" r="4" fill="#faa574"/>
<circle cx="419.5" cy="196.5" r="4.5" fill="#a85e6f"/>
<circle cx="484.5" cy="204" r="4" fill="#e49161"/>
<circle cx="442.5" cy="240" r="3.5" fill="#a55c73"/>
<circle cx="475.5" cy="155.5" r="4" fill="#6782b1"/>
<circle cx="404.5" cy="242" r="4.5" fill="#e9895e"/>
<circle cx="522" cy="236.5" r="4.5" fill="#82586d"/>
<circle cx="473" cy="172" r="4" fill="#6e83b2"/>
<circle cx="407.5" cy="166.5" r="5.5" fill="#6d83b3"/>
<circle cx="424.5" cy="237.5" r="5" fill="#f29067"/>
<circle cx="510" cy="221.5" r="5" fill="#3f61a7"/>
<circle cx="415" cy="164.5" r="4" fill="#6985b6"/>
<circle cx="434" cy="239.5" r="4" fill="#a35a6a"/>
<circle cx="417" cy="223" r="4" fill="#7794bc"/>
<circle cx="483" cy="197" r="5" fill="#406da0"/>
<circle cx="518.5" cy="167" r="5" fill="#3d6aa6"/>
<circle cx="463" cy="155.5" r="4" fill="#e79162"/>
<circle cx="408.5" cy="142.5" r="5" fill="#7589c1"/>
<circle cx="436.5" cy="152" r="5" fill="#9ea2bb"/>
<circle cx="404" cy="244" r="4.5" fill="#e6895c"/>
<circle cx="433" cy="233.5" r="6" fill="#f6a178"/>
<circle cx="485.5" cy="216.5" r="3.5" fill="#f79e70"/>
<circle cx="479.5" cy="240" r="6" fill="#476ea4"/>
<circle cx="508" cy="215.5" r="5" fill="#5c7da9"/>
<circle cx="467.5" cy="212.5" r="5" fill="#935878"/>
<circle cx="488.5" cy="197.5" r="5.5" fill="#7091c2"/>
<circle cx="460" cy="155.5" r="6" fill="#4265a9"/>
<circle cx="503.5" cy="190.5" r="5.5" fill="#6884ba"/>
<circle cx="404.5" cy="157" r="5.5" fill="#ec8d65"/>
<circle cx="507.5" cy="166" r="4.5" fill="#4174ae"/>
<circle cx="446" cy="211.5" r="5" fill="#a86477"/>
<circle cx="506" cy="174" r="5" fill="#396399"/>
<circle cx="445.5" cy="184" r="4.5" fill="#6581ac"/>
<circle cx="399.5" cy="232" r="5.5" fill="#39609b"/>
<circle cx="398.5" cy="241" r="5" fill="#f6a179"/>
<circle cx="415.5" cy="155.5" r="4.5" fill="#416baf"/>
<circle cx="504" cy="226.5" r="5" fill="#406fad"/>
<circle cx="425.5" cy="197.5" r="5" fill="#a15163"/>
<circle cx="457" cy="215" r="5.5" fill="#f19569"/>
<circle cx="419.5" cy="226.5" r="4.5" fill="#e28d65"/>
<circle cx="523" cy="214" r="5" fill="#396aa0"/>
<circle cx="513.5" cy="238.5" r="4.5" fill="#ac6b7b"/>
<circle cx="444.5" cy="229" r="4.5" fill="#fd9c76"/>
<circle cx="502.5" cy="201" r="6" fill="#6c83ae"/>
<circle cx="409.5" cy="204.5" r="4.5" fill="#346b9e"/>
<circle cx="512" cy="171.5" r="5" fill="#6b83ae"/>
<circle cx="478.5" cy="234" r="5.5" fill="#a5636e"/>
<circle cx="472.5" cy="143" r="5" fill="#4677b0"/>
<circle cx="476.5" cy="166" r="3.5" fill="#3d65a4"/>
<circle cx="505.5" cy="209" r="5.5" fill="#a4616c"/>
<circle cx="435" cy="234" r="4" fill="#ee9a6f"/>
<circle cx="475.5" cy="175" r="5" fill="#9b5962"/>
<circle cx="502.5" cy="233.5" r="4.5" fill="#e78d69"/>
<circle cx="510" cy="232.5" r="5.5" fill="#854e62"/>
<circle cx="480" cy="213" r="4.5" fill="#35649f"/>
<circle cx="473" cy="195" r="3.5" fill="#5d77a7"/>
<circle cx="522" cy="176.5" r="6" fill="#895f6c"/>
<circle cx="406.5" cy="214.5" r="5" fill="#955e76"/>
<circle cx="459.5" cy="197" r="3.5" fill="#906576"/>
<circle cx="472" cy="165.5" r="4.5" fill="#f6966d"/>
<circle cx="421.5" cy="146.5" r="4.5" fill="#ed9769"/>
<circle cx="495.5" cy="235.5" r="6" fill="#989abb"/>
<circle cx="485" cy="151.5" r="4.5" fill="#4170ac"/>
<circle cx="521" cy="226.5" r="5.5" fill="#ff9a7b"/>
<circle cx="461" cy="139" r="4" fill="#7585be"/>
<circle cx="503.5" cy="205" r="4.5" fill="#3568a3"/>
<circle cx="475.5" cy="141" r="4" fill="#a66271"/>
<circle cx="489.5" cy="142.5" r="6" fill="#90546f"/>
<circle cx="457" cy="154.5" r="5" fill="#a15363"/>
<circle cx="442" cy="233.5" r="5" fill="#ec8c69"/>
</g>
<g fill-opacity="0.75"><circle cx="427" cy="150.5" r="2.5" fill="#824a52"/><circle cx="445.5" cy="156" r="3" fill="#5b6f93"/><circle cx="404.5" cy="181" r="3" fill="#597098"/><circle cx="464" cy="169" r="3" fill="#663e57"/><circle cx="418.5" cy="149.5" r="2" fill="#787993"/><circle cx="423" cy="238.5" r="2.5" fill="#345786"/><circle cx="436" cy="206" r="2" fill="#2a4e7e"/><circle cx="489.5" cy="229.5" r="2.5" fill="#284c7f"/><circle cx="507.5" cy="147.5" r="2" fill="#c67e63"/><circle cx="459.5" cy="158.5" r="2" fill="#2f5182"/><circle cx="457.5" cy="148.5" r="2.5" fill="#653f56"/><circle cx="516" cy="230" r="2" fill="#c37a54"/><circle cx="465.5" cy="171" r="2" fill="#2d4f82"/><circle cx="472.5" cy="185.5" r="2" fill="#828196"/><circle cx="416.5" cy="170.5" r="2" fill="#6c4659"/><circle cx="500.5" cy="143" r="2.5" fill="#89525c"/><circle cx="455.5" cy="174.5" r="2.5" fill="#c17952"/><circle cx="448.5" cy="161" r="2" fill="#77758c"/><circle cx="436.5" cy="198" r="3" fill="#6a4255"/><circle cx="512" cy="149" r="2" fill="#567096"/><circle cx="494" cy="204" r="2.5" fill="#314f7e"/><circle cx="426.5" cy="174" r="2" fill="#7a4056"/><circle cx="401" cy="212.5" r="2.5" fill="#765161"/><circle cx="448" cy="239" r="2.5" fill="#b87155"/><circle cx="475.5" cy="225.5" r="3" fill="#345e8e"/><circle cx="437.5" cy="140.5" r="2" fill="#b57554"/><circle cx="401" cy="157" r="2.5" fill="#3b5c89"/><circle cx="495" cy="177" r="2.5" fill="#be6d52"/><circle cx="522" cy="183.5" r="2.5" fill="#854654"/><circle cx="421.5" cy="146" r="2.5" fill="#824857"/><circle cx="403.5" cy="157.5" r="2.5" fill="#8f5662"/><circle cx="401.5" cy="192" r="2" fill="#bd6f4d"/><circle cx="522.5" cy="188.5" r="2" fill="#89555f"/><circle cx="400" cy="184" r="2" fill="#81869a"/><circle cx="501.5" cy="191" r="2.5" fill="#5e749b"/><circle cx="425.5" cy="231.5" r="2" fill="#664252"/><circle cx="415" cy="144" r="2" fill="#566491"/><circle cx="513.5" cy="199.5" r="3" fill="#2f5787"/><circle cx="522" cy="182.5" r="2.5" fill="#51678c"/><circle cx="511.5" cy="207.5" r="2.5" fill="#c87e62"/><circle cx="497" cy="217.5" r="2.5" fill="#6f4e62"/><circle cx="498.5" cy="206.5" r="2.5" fill="#4e5e8c"/><circle cx="518.5" cy="146.5" r="2" fill="#724a60"/><circle cx="520" cy="241" r="2" fill="#c67d57"/><circle cx="511" cy="152" r="2" fill="#72768a"/><circle cx="519" cy="209.5" r="2" fill="#5a7298"/><circle cx="403" cy="157" r="2" fill="#c17759"/><circle cx="424" cy="140" r="2" fill="#2b4c81"/><circle cx="513.5" cy="141" r="2.5" fill="#857d9a"/><circle cx="507" cy="150.5" r="2.5" fill="#275182"/><circle cx="499.5" cy="222" r="3" fill="#365388"/><circle cx="508.5" cy="160.5" r="2" fill="#3d6192"/><circle cx="481.5" cy="174" r="2" fill="#c9825a"/><circle cx="509.5" cy="221.5" r="3" fill="#704a5c"/><circle cx="457" cy="195.5" r="2" fill="#c06f52"/><circle cx="471.5" cy="191" r="2.5" fill="#7e4252"/><circle cx="507" cy="203.5" r="2" fill="#7e4951"/><circle cx="414.5" cy="177" r="3" fill="#8b5562"/><circle cx="397.5" cy="227.5" r="2" fill="#4c638c"/><circle cx="502" cy="148" r="3" fill="#72505b"/><circle cx="495.5" cy="172" r="2" fill="#cb795c"/><circle cx="426" cy="190.5" r="2.5" fill="#3a5f8d"/><circle cx="520" cy="148.5" r="2" fill="#864e56"/><circle cx="410" cy="204" r="2" fill="#7f4656"/><circle cx="509" cy="193" r="2" fill="#c47d55"/><circle cx="451" cy="230" r="3" fill="#3d5f92"/><circle cx="495.5" cy="146" r="2.5" fill="#8c515e"/><circle cx="508" cy="159" r="2" fill="#315687"/><circle cx="450.5" cy="223" r="2" fill="#7a3f53"/><circle cx="459" cy="175" r="2.5" fill="#ba7359"/><circle cx="457.5" cy="148" r="2" fill="#32577e"/><circle cx="482.5" cy="204.5" r="2.5" fill="#2f5886"/><circle cx="470" cy="176.5" r="2" fill="#c77a5a"/><circle cx="398" cy="142" r="2" fill="#643e55"/><circle cx="516.5" cy="226.5" r="3" fill="#72465a"/><circle cx="499" cy="225.5" r="2" fill="#335881"/><circle cx="517" cy="156" r="2" fill="#365d8f"/><circle cx="412" cy="207.5" r="2" fill="#51668f"/><circle cx="435.5" cy="237.5" r="2.5" fill="#644052"/><circle cx="509.5" cy="213.5" r="2.5" fill="#2c4e7c"/><circle cx="499.5" cy="169.5" r="3" fill="#77778c"/><circle cx="448" cy="139.5" r="2" fill="#c8845d"/><circle cx="419.5" cy="195.5" r="2.5" fill="#864b59"/><circle cx="442.5" cy="239.5" r="2" fill="#844a5c"/><circle cx="475" cy="156.5" r="2" fill="#52688e"/><circle cx="404" cy="242" r="2.5" fill="#ba6e4b"/><circle cx="522" cy="235.5" r="2" fill="#684657"/><circle cx="407.5" cy="166" r="2.5" fill="#57698f"/><circle cx="510.5" cy="221.5" r="2.5" fill="#324e86"/><circle cx="415" cy="165" r="2" fill="#546a92"/><circle cx="417" cy="223.5" r="2" fill="#5f7696"/><circle cx="483.5" cy="197.5" r="2.5" fill="#335780"/><circle cx="519" cy="166.5" r="2.5" fill="#315585"/><circle cx="408" cy="142.5" r="2.5" fill="#5e6e9a"/><circle cx="433.5" cy="233" r="3" fill="#c58160"/><circle cx="467.5" cy="213.5" r="2.5" fill="#764660"/><circle cx="488" cy="197.5" r="3" fill="#5a749b"/><circle cx="503.5" cy="189.5" r="2.5" fill="#536a95"/><circle cx="405.5" cy="157" r="3" fill="#bd7151"/><circle cx="507.5" cy="165.5" r="2" fill="#345d8b"/><circle cx="446" cy="212" r="2.5" fill="#86505f"/><circle cx="505.5" cy="174" r="2.5" fill="#2e4f7a"/><circle cx="445.5" cy="183.5" r="2.5" fill="#51678a"/><circle cx="504" cy="227" r="2.5" fill="#33598a"/><circle cx="456.5" cy="214.5" r="2.5" fill="#c17754"/><circle cx="420.5" cy="227.5" r="2.5" fill="#b57151"/><circle cx="522.5" cy="214" r="2.5" fill="#2e5580"/><circle cx="514" cy="237.5" r="2" fill="#8a5662"/><circle cx="410.5" cy="204.5" r="2" fill="#2a567e"/><circle cx="478.5" cy="234.5" r="2.5" fill="#844f58"/><circle cx="472" cy="143" r="2.5" fill="#385f8d"/><circle cx="477.5" cy="167" r="2" fill="#315183"/><circle cx="476" cy="174" r="2.5" fill="#7c474e"/><circle cx="472.5" cy="195.5" r="2" fill="#4a5f86"/><circle cx="458.5" cy="196.5" r="2" fill="#73515e"/><circle cx="472.5" cy="165" r="2.5" fill="#c57857"/><circle cx="496" cy="235" r="3" fill="#7a7b96"/><circle cx="504" cy="205.5" r="2.5" fill="#2a5382"/><circle cx="475.5" cy="141" r="2" fill="#854e5a"/><circle cx="457" cy="155" r="2.5" fill="#81424f"/></g>
<circle cx="418.5" cy="170.7" r="6.5" fill="#2a4a80" fill-opacity="0.9" stroke="#f6eaee" stroke-opacity="0.4"/>
<circle cx="420" cy="173.5" r="3.5" fill="#2b4b88" fill-opacity="0.72"/>
<circle cx="421.5" cy="172.5" r="4" fill="#1b467a" fill-opacity="0.72"/>
<circle cx="417.5" cy="167" r="4" fill="#2e4f82" fill-opacity="0.72"/>
<circle cx="418" cy="168" r="3" fill="#2f4686" fill-opacity="0.72"/>
<circle cx="421" cy="169" r="4" fill="#2e5283" fill-opacity="0.72"/>
<circle cx="418" cy="172.5" r="2.5" fill="#182c50" fill-opacity="0.55"/>
<circle cx="418" cy="171" r="3" fill="#202f56" fill-opacity="0.55"/>
<circle cx="417.5" cy="171" r="2.5" fill="#131e48" fill-opacity="0.55"/>
<circle cx="430" cy="172" r="6.5" fill="#8a4a58" fill-opacity="0.9" stroke="#f6eaee" stroke-opacity="0.4"/>
<circle cx="432.5" cy="170" r="3.5" fill="#92555e" fill-opacity="0.72"/>
<circle cx="431.5" cy="176" r="3" fill="#824453" fill-opacity="0.72"/>
<circle cx="426.5" cy="169.5" r="3" fill="#965661" fill-opacity="0.72"/>
<circle cx="429" cy="174.5" r="3.5" fill="#914e65" fill-opacity="0.72"/>
<circle cx="433" cy="169.5" r="3" fill="#814956" fill-opacity="0.72"/>
<circle cx="431" cy="172.5" r="3" fill="#682d3b" fill-opacity="0.55"/>
<circle cx="430.5" cy="172.5" r="3.5" fill="#6e2a3e" fill-opacity="0.55"/>
<circle cx="430" cy="172.5" r="3" fill="#6d3547" fill-opacity="0.55"/>
<circle cx="473.8" cy="181" r="8" fill="#8a5a70" fill-opacity="0.85" stroke="#f6eaee" stroke-opacity="0.4"/>
<circle cx="477.5" cy="184.5" r="4" fill="#955c72" fill-opacity="0.68"/>
<circle cx="477" cy="178.5" r="4.5" fill="#7e4f5f" fill-opacity="0.68"/>
<circle cx="471.5" cy="178" r="4.5" fill="#815068" fill-opacity="0.68"/>
<circle cx="470.5" cy="177" r="3.5" fill="#7c4c63" fill-opacity="0.68"/>
<circle cx="470.5" cy="178.5" r="4" fill="#81536e" fill-opacity="0.68"/>
<circle cx="472.5" cy="182" r="3.5" fill="#7a4a63" fill-opacity="0.55"/>
<circle cx="472" cy="181.5" r="3.5" fill="#7a435e" fill-opacity="0.55"/>
<circle cx="475" cy="182.5" r="3" fill="#79505c" fill-opacity="0.55"/>
<circle cx="488.8" cy="183.4" r="7" fill="#6a88b8" fill-opacity="0.85" stroke="#f6eaee" stroke-opacity="0.4"/>
<circle cx="485" cy="186" r="3" fill="#657db6" fill-opacity="0.68"/>
<circle cx="487.5" cy="187" r="3.5" fill="#688cbc" fill-opacity="0.68"/>
<circle cx="491" cy="185.5" r="3" fill="#6688b9" fill-opacity="0.68"/>
<circle cx="486" cy="181.5" r="4" fill="#7087b7" fill-opacity="0.68"/>
<circle cx="488" cy="187.5" r="3.5" fill="#7793bb" fill-opacity="0.68"/>
<circle cx="489" cy="184.5" r="3.5" fill="#425e97" fill-opacity="0.55"/>
<circle cx="488.5" cy="185" r="2.5" fill="#466797" fill-opacity="0.55"/>
<circle cx="491" cy="184" r="3.5" fill="#446192" fill-opacity="0.55"/>
<circle cx="443.8" cy="193.8" r="5" fill="#2a5a98" fill-opacity="0.9" stroke="#f6eaee" stroke-opacity="0.4"/>
<circle cx="462.3" cy="205.3" r="5.5" fill="#3a6aa8" fill-opacity="0.9" stroke="#f6eaee" stroke-opacity="0.4"/>
<circle cx="463.5" cy="207.5" r="3.5" fill="#3461a1" fill-opacity="0.72"/>
<circle cx="460" cy="205.5" r="2.5" fill="#386ba4" fill-opacity="0.72"/>
<circle cx="460" cy="205" r="3" fill="#4877b1" fill-opacity="0.72"/>
<circle cx="460" cy="202.5" r="3" fill="#3868a3" fill-opacity="0.72"/>
<circle cx="462.5" cy="202.5" r="3.5" fill="#2e5f9d" fill-opacity="0.72"/>
<circle cx="467" cy="231.8" r="5.5" fill="#2a4a88" fill-opacity="0.9" stroke="#f6eaee" stroke-opacity="0.4"/>
<circle cx="468.5" cy="234.5" r="2.5" fill="#1a3d75" fill-opacity="0.72"/>
<circle cx="464.5" cy="229.5" r="3" fill="#2d4d93" fill-opacity="0.72"/>
<circle cx="467.5" cy="229.5" r="2.5" fill="#243f84" fill-opacity="0.72"/>
<circle cx="467" cy="229" r="3" fill="#325194" fill-opacity="0.72"/>
<circle cx="469.5" cy="232" r="3" fill="#173e7e" fill-opacity="0.72"/>
<circle cx="490" cy="226" r="8" fill="#7a90c0" fill-opacity="0.75" stroke="#f6eaee" stroke-opacity="0.4"/>
<circle cx="489.5" cy="230" r="3.5" fill="#7d98c2" fill-opacity="0.60"/>
<circle cx="485" cy="226.5" r="3.5" fill="#768dbd" fill-opacity="0.60"/>
<circle cx="492.5" cy="223.5" r="4" fill="#6f8bb8" fill-opacity="0.60"/>
<circle cx="494" cy="228.5" r="4" fill="#758ec0" fill-opacity="0.60"/>
<circle cx="494" cy="224.5" r="4.5" fill="#8498c3" fill-opacity="0.60"/>
<circle cx="403.5" cy="184.5" r="5" fill="#1a4a80" fill-opacity="0.9" stroke="#f6eaee" stroke-opacity="0.4"/>
<circle cx="455.4" cy="180" r="5.5" fill="#9a6070" fill-opacity="0.85" stroke="#f6eaee" stroke-opacity="0.4"/>
<circle cx="452.5" cy="182" r="2.5" fill="#ad7384" fill-opacity="0.68"/>
<circle cx="452" cy="180" r="3" fill="#9d637b" fill-opacity="0.68"/>
<circle cx="457.5" cy="182" r="2.5" fill="#ac7383" fill-opacity="0.68"/>
<circle cx="453" cy="180" r="2.5" fill="#97616c" fill-opacity="0.68"/>
<circle cx="458" cy="178.5" r="2.5" fill="#905b6d" fill-opacity="0.68"/>
<circle cx="494.6" cy="166" r="6" fill="#6a78a8" fill-opacity="0.85" stroke="#f6eaee" stroke-opacity="0.4"/>
<circle cx="492.5" cy="169.5" r="3" fill="#6879ac" fill-opacity="0.68"/>
<circle cx="493" cy="163" r="3.5" fill="#6870a8" fill-opacity="0.68"/>
<circle cx="492" cy="168.5" r="3" fill="#65709f" fill-opacity="0.68"/>
<circle cx="497" cy="166.5" r="3.5" fill="#657aa1" fill-opacity="0.68"/>
<circle cx="492.5" cy="168" r="4" fill="#6970a4" fill-opacity="0.68"/>
<circle cx="510.8" cy="221.5" r="5.5" fill="#8a5060" fill-opacity="0.85" stroke="#f6eaee" stroke-opacity="0.4"/>
<circle cx="513.5" cy="223" r="3" fill="#8f5865" fill-opacity="0.68"/>
<circle cx="513.5" cy="222.5" r="3" fill="#8e5a62" fill-opacity="0.68"/>
<circle cx="512" cy="219" r="2.5" fill="#824f5e" fill-opacity="0.68"/>
<circle cx="511.5" cy="218" r="3.5" fill="#864961" fill-opacity="0.68"/>
<circle cx="508" cy="219.5" r="3.5" fill="#7e4354" fill-opacity="0.68"/>
<circle cx="425.4" cy="214.5" r="6" fill="#b85a50" fill-opacity="0.85" stroke="#f6eaee" stroke-opacity="0.4"/>
<circle cx="427.5" cy="213" r="3" fill="#b45d53" fill-opacity="0.68"/>
<circle cx="428" cy="214.5" r="3.5" fill="#c56359" fill-opacity="0.68"/>
<circle cx="427" cy="216.5" r="2.5" fill="#c26252" fill-opacity="0.68"/>
<circle cx="423.5" cy="212" r="3" fill="#bc5a50" fill-opacity="0.68"/>
<circle cx="429.5" cy="214" r="3.5" fill="#c5635c" fill-opacity="0.68"/>
<circle cx="450.8" cy="205.3" r="5.5" fill="#9a6a78" fill-opacity="0.85" stroke="#f6eaee" stroke-opacity="0.4"/>
<circle cx="449" cy="206.5" r="2.5" fill="#a67881" fill-opacity="0.68"/>
<circle cx="450.5" cy="207.5" r="3" fill="#ac798a" fill-opacity="0.68"/>
<circle cx="447.5" cy="205.5" r="3" fill="#966a75" fill-opacity="0.68"/>
<circle cx="452" cy="202.5" r="3" fill="#926070" fill-opacity="0.68"/>
<circle cx="451.5" cy="208" r="2.5" fill="#875c6c" fill-opacity="0.68"/>
<circle cx="404" cy="195" r="4" fill="#e88a6a" fill-opacity="0.9" stroke="#f6eaee" stroke-opacity="0.4"/>
<circle cx="440" cy="225" r="5" fill="#e89070" fill-opacity="0.85" stroke="#f6eaee" stroke-opacity="0.4"/>
</g>
<path d="M454 146.5H516.5" stroke="#6a4a5a" stroke-opacity="0.16" stroke-width="1"/>
</g>
<text transform="translate(264.4 298.3) rotate(-90) scale(0.68 1)" font-size="12" font-weight="bold" text-anchor="middle" >L540</text>
<clipPath id="c20"><rect x="272" y="249" width="119.5" height="98"/></clipPath>
<g clip-path="url(#c20)"><rect x="272" y="249" width="119.5" height="98" fill="#d6c2cc"/><g filter="url(#bl)">
<g fill-opacity="0.86" stroke="#e8d8e0" stroke-opacity="0.5" stroke-width="1.2">
<circle cx="304" cy="317.5" r="5" fill="#6373a0"/>
<circle cx="336.5" cy="332" r="5.5" fill="#6e86a9"/>
<circle cx="296.5" cy="283" r="5.5" fill="#af6a58"/>
<circle cx="326.5" cy="290.5" r="4.5" fill="#798bb4"/>
<circle cx="316.5" cy="309.5" r="5" fill="#727dad"/>
<circle cx="398.5" cy="320" r="5.5" fill="#7086ae"/>
<circle cx="360" cy="252" r="5.5" fill="#6573a2"/>
<circle cx="368.5" cy="342.5" r="5.5" fill="#5f80a6"/>
<circle cx="334.5" cy="347" r="5.5" fill="#7b90b2"/>
<circle cx="318.5" cy="259" r="4.5" fill="#8288b2"/>
<circle cx="398" cy="275.5" r="4.5" fill="#9a6a81"/>
<circle cx="386.5" cy="249.5" r="5" fill="#6c84b2"/>
<circle cx="367.5" cy="268.5" r="5" fill="#b58c92"/>
<circle cx="335.5" cy="320.5" r="4.5" fill="#b5868c"/>
<circle cx="351.5" cy="283" r="5" fill="#6f7ba0"/>
<circle cx="285" cy="276" r="4.5" fill="#6b78a2"/>
<circle cx="300.5" cy="267" r="5.5" fill="#6573a0"/>
<circle cx="328" cy="261" r="4.5" fill="#a17792"/>
<circle cx="348" cy="304" r="4.5" fill="#7d86ae"/>
<circle cx="275.5" cy="260" r="4.5" fill="#98708a"/>
<circle cx="364" cy="310.5" r="4.5" fill="#798fb0"/>
<circle cx="352.5" cy="304" r="5" fill="#7b89b0"/>
<circle cx="310.5" cy="351" r="5" fill="#bf9d9f"/>
<circle cx="360" cy="258.5" r="4.5" fill="#667ba5"/>
<circle cx="359.5" cy="269.5" r="5.5" fill="#6586a6"/>
<circle cx="340" cy="284" r="4.5" fill="#c09199"/>
<circle cx="388.5" cy="290" r="4.5" fill="#4c698f"/>
<circle cx="385.5" cy="351.5" r="4" fill="#8586bb"/>
<circle cx="340.5" cy="325" r="5" fill="#c69691"/>
<circle cx="359.5" cy="312" r="5.5" fill="#c59994"/>
<circle cx="311" cy="334.5" r="5.5" fill="#7a8db0"/>
<circle cx="303.5" cy="346" r="5.5" fill="#667ba3"/>
<circle cx="269.5" cy="296.5" r="5.5" fill="#a25045"/>
<circle cx="284" cy="304" r="5" fill="#757aa7"/>
<circle cx="306" cy="283.5" r="4.5" fill="#6c82ab"/>
<circle cx="271" cy="343" r="5.5" fill="#a05a48"/>
<circle cx="285" cy="321.5" r="5" fill="#68739f"/>
<circle cx="360.5" cy="284.5" r="5" fill="#5b73a1"/>
<circle cx="362.5" cy="318" r="4.5" fill="#b76a58"/>
<circle cx="338" cy="267" r="5" fill="#6d83ab"/>
<circle cx="395.5" cy="258" r="5" fill="#a86055"/>
<circle cx="330.5" cy="304.5" r="4.5" fill="#7079aa"/>
<circle cx="386" cy="294" r="4.5" fill="#916b81"/>
<circle cx="307" cy="294.5" r="4" fill="#657ca3"/>
<circle cx="301.5" cy="272.5" r="5.5" fill="#997185"/>
<circle cx="386" cy="324.5" r="5" fill="#58719f"/>
<circle cx="292" cy="310.5" r="5" fill="#b2664f"/>
<circle cx="279.5" cy="310" r="4.5" fill="#5f749f"/>
<circle cx="310" cy="277" r="5" fill="#718db3"/>
<circle cx="304.5" cy="303.5" r="4.5" fill="#a56551"/>
<circle cx="303" cy="290.5" r="4.5" fill="#b8918a"/>
<circle cx="315.5" cy="269" r="5" fill="#b6898e"/>
<circle cx="343.5" cy="333.5" r="4.5" fill="#7e88b5"/>
<circle cx="295.5" cy="349" r="4.5" fill="#708eaf"/>
<circle cx="286" cy="289" r="5" fill="#6979aa"/>
<circle cx="390" cy="297" r="4.5" fill="#6c7da1"/>
<circle cx="368.5" cy="335" r="5" fill="#bd8d91"/>
<circle cx="325" cy="310.5" r="5" fill="#ac634f"/>
<circle cx="378.5" cy="275.5" r="5" fill="#7084a9"/>
<circle cx="387" cy="274.5" r="4.5" fill="#9d778c"/>
<circle cx="325.5" cy="339.5" r="4.5" fill="#7488b3"/>
<circle cx="322.5" cy="329" r="5" fill="#6479a1"/>
<circle cx="278" cy="290" r="4.5" fill="#ae624e"/>
<circle cx="300.5" cy="342.5" r="5" fill="#6b85a9"/>
<circle cx="376" cy="296" r="5" fill="#586a9e"/>
<circle cx="302" cy="336.5" r="5" fill="#a76053"/>
<circle cx="355" cy="332.5" r="4.5" fill="#6f8db1"/>
<circle cx="307" cy="329" r="5" fill="#7389b7"/>
<circle cx="395.5" cy="306.5" r="5.5" fill="#6e84ac"/>
<circle cx="298.5" cy="311.5" r="4" fill="#c2969a"/>
<circle cx="323" cy="282.5" r="5" fill="#9f6a84"/>
<circle cx="386" cy="312" r="5" fill="#6179a4"/>
<circle cx="291.5" cy="262" r="5" fill="#916a84"/>
<circle cx="339.5" cy="312" r="5.5" fill="#bd8e96"/>
<circle cx="286.5" cy="339.5" r="5" fill="#b8665c"/>
<circle cx="286" cy="247" r="5" fill="#6f7faa"/>
<circle cx="386.5" cy="321" r="5.5" fill="#7885ad"/>
<circle cx="351.5" cy="265" r="5.5" fill="#6785af"/>
<circle cx="313" cy="306.5" r="5" fill="#a37390"/>
<circle cx="309.5" cy="321" r="5" fill="#6f88a7"/>
<circle cx="392" cy="325.5" r="5.5" fill="#7084b1"/>
<circle cx="377" cy="332" r="5" fill="#c8999e"/>
<circle cx="268.5" cy="246" r="5" fill="#947086"/>
<circle cx="346.5" cy="276.5" r="5" fill="#98657f"/>
<circle cx="350" cy="340.5" r="5" fill="#6e82a5"/>
<circle cx="360" cy="305" r="4.5" fill="#6a79a8"/>
<circle cx="291.5" cy="335" r="5.5" fill="#cb9d95"/>
<circle cx="375" cy="314" r="4.5" fill="#7a88ad"/>
<circle cx="317.5" cy="342.5" r="5.5" fill="#4e638e"/>
<circle cx="327.5" cy="347" r="5.5" fill="#6a7aa0"/>
<circle cx="313" cy="262" r="5.5" fill="#b1695e"/>
<circle cx="348.5" cy="251" r="5" fill="#906b87"/>
<circle cx="373.5" cy="284" r="4.5" fill="#99637c"/>
<circle cx="357.5" cy="339.5" r="5" fill="#a45343"/>
<circle cx="342.5" cy="297.5" r="4.5" fill="#b1614f"/>
<circle cx="369" cy="319.5" r="4.5" fill="#c39c9a"/>
<circle cx="279" cy="274" r="4.5" fill="#a05644"/>
<circle cx="328" cy="245" r="4.5" fill="#7090b3"/>
<circle cx="300.5" cy="261" r="5" fill="#637ba6"/>
<circle cx="379.5" cy="288.5" r="4" fill="#6681a9"/>
<circle cx="333.5" cy="283.5" r="4" fill="#5e73a4"/>
<circle cx="364" cy="275.5" r="4.5" fill="#6181aa"/>
<circle cx="381" cy="306" r="5.5" fill="#b5685c"/>
<circle cx="305" cy="339.5" r="5.5" fill="#6485ab"/>
<circle cx="290.5" cy="324" r="5" fill="#627aa5"/>
<circle cx="320" cy="348.5" r="5" fill="#9a5749"/>
<circle cx="265" cy="261" r="4" fill="#53628e"/>
<circle cx="333" cy="340.5" r="5" fill="#7c81b3"/>
<circle cx="355" cy="243" r="4.5" fill="#576398"/>
<circle cx="322" cy="275" r="5.5" fill="#536592"/>
<circle cx="287" cy="298.5" r="5" fill="#ae6959"/>
<circle cx="271" cy="254.5" r="4.5" fill="#ab614e"/>
<circle cx="346.5" cy="261.5" r="5" fill="#b1684f"/>
<circle cx="377" cy="341" r="4.5" fill="#a65846"/>
<circle cx="277.5" cy="320" r="5.5" fill="#7886b7"/>
<circle cx="349" cy="311" r="5.5" fill="#748fb2"/>
<circle cx="308" cy="287.5" r="4.5" fill="#6d7ca4"/>
<circle cx="319" cy="290" r="5.5" fill="#c59893"/>
<circle cx="396" cy="351.5" r="5" fill="#7b8cb2"/>
<circle cx="318" cy="334.5" r="4.5" fill="#9f5549"/>
<circle cx="344.5" cy="348.5" r="5" fill="#7182aa"/>
<circle cx="363.5" cy="335" r="5" fill="#5b7ca0"/>
<circle cx="386.5" cy="243" r="5" fill="#a3584c"/>
<circle cx="334" cy="273" r="5.5" fill="#7283b6"/>
<circle cx="376.5" cy="249.5" r="5.5" fill="#6d81ae"/>
<circle cx="330.5" cy="327" r="4.5" fill="#6e77a7"/>
<circle cx="317" cy="321" r="5.5" fill="#b16d59"/>
<circle cx="356" cy="347" r="5" fill="#8a5c80"/>
<circle cx="389.5" cy="313.5" r="5" fill="#536f99"/>
<circle cx="291" cy="244.5" r="4.5" fill="#546792"/>
<circle cx="282" cy="257" r="5.5" fill="#6e7ba8"/>
<circle cx="294" cy="291" r="5.5" fill="#6588a6"/>
<circle cx="395.5" cy="291.5" r="4.5" fill="#6e86ab"/>
<circle cx="268.5" cy="302.5" r="4" fill="#ad5e4f"/>
<circle cx="386" cy="282" r="5.5" fill="#6378a1"/>
<circle cx="297" cy="294.5" r="5.5" fill="#7a7faa"/>
<circle cx="304.5" cy="245.5" r="4.5" fill="#7e84ab"/>
<circle cx="330" cy="269.5" r="5.5" fill="#b0614e"/>
<circle cx="299" cy="254.5" r="4.5" fill="#7885b4"/>
<circle cx="326.5" cy="335.5" r="4.5" fill="#6d81ae"/>
<circle cx="385.5" cy="304.5" r="4.5" fill="#7887a9"/>
<circle cx="321.5" cy="250" r="4.5" fill="#7688b1"/>
<circle cx="365.5" cy="252" r="5" fill="#748db7"/>
<circle cx="286.5" cy="282" r="4.5" fill="#7c86af"/>
<circle cx="314" cy="250.5" r="5.5" fill="#a15c51"/>
<circle cx="339.5" cy="340.5" r="5" fill="#9e574e"/>
<circle cx="370.5" cy="303" r="4" fill="#946f87"/>
<circle cx="281.5" cy="270" r="5" fill="#b56b57"/>
<circle cx="351" cy="287.5" r="5" fill="#8d637e"/>
<circle cx="320" cy="303" r="5" fill="#6381a7"/>
<circle cx="388.5" cy="258.5" r="5" fill="#7980ad"/>
<circle cx="287.5" cy="264.5" r="4.5" fill="#ac6256"/>
<circle cx="344" cy="247" r="4.5" fill="#8c5d7b"/>
<circle cx="347.5" cy="317" r="5.5" fill="#a85b49"/>
<circle cx="271" cy="284.5" r="4.5" fill="#6e82a8"/>
<circle cx="315" cy="296" r="5.5" fill="#6f71a0"/>
<circle cx="361.5" cy="287.5" r="5" fill="#966580"/>
<circle cx="293.5" cy="273.5" r="5.5" fill="#667b9d"/>
<circle cx="329" cy="319" r="5.5" fill="#a95e4c"/>
<circle cx="356" cy="326" r="5" fill="#c7a2a4"/>
<circle cx="337" cy="287" r="5" fill="#7185aa"/>
<circle cx="292" cy="303" r="4.5" fill="#5b73a2"/>
<circle cx="371.5" cy="242.5" r="5.5" fill="#7d89ae"/>
<circle cx="270.5" cy="276.5" r="4.5" fill="#b3665a"/>
<circle cx="377" cy="246.5" r="4.5" fill="#8d677a"/>
<circle cx="361" cy="347.5" r="5" fill="#aa5f4b"/>
<circle cx="331" cy="252.5" r="4.5" fill="#905a73"/>
<circle cx="277" cy="306.5" r="5" fill="#c9999c"/>
<circle cx="382" cy="269" r="4.5" fill="#6177a8"/>
<circle cx="287.5" cy="254.5" r="4.5" fill="#c59e9f"/>
<circle cx="338" cy="253" r="5" fill="#617c9a"/>
<circle cx="366.5" cy="282" r="5" fill="#a15c4b"/>
<circle cx="307" cy="312.5" r="5" fill="#788db7"/>
<circle cx="336" cy="303.5" r="5.5" fill="#c79ba2"/>
<circle cx="273.5" cy="310.5" r="5.5" fill="#c89b95"/>
<circle cx="385.5" cy="341.5" r="5" fill="#556c8f"/>
<circle cx="282.5" cy="335" r="5.5" fill="#b16356"/>
<circle cx="371.5" cy="262" r="4.5" fill="#7f86b4"/>
<circle cx="369" cy="287" r="5" fill="#8e6081"/>
<circle cx="278" cy="343" r="4.5" fill="#5d679e"/>
<circle cx="324" cy="299.5" r="4.5" fill="#b18885"/>
<circle cx="399.5" cy="246.5" r="5" fill="#556c98"/>
<circle cx="348.5" cy="295" r="5" fill="#7a89bb"/>
<circle cx="278" cy="247" r="4.5" fill="#6a7da2"/>
<circle cx="328" cy="273.5" r="5" fill="#9c708d"/>
<circle cx="279.5" cy="296.5" r="4.5" fill="#6e80ae"/>
<circle cx="267.5" cy="319.5" r="5.5" fill="#4a5d94"/>
<circle cx="353.5" cy="319.5" r="4.5" fill="#926083"/>
<circle cx="364" cy="242.5" r="4.5" fill="#7c89ac"/>
<circle cx="323.5" cy="266.5" r="5.5" fill="#4c6794"/>
<circle cx="283.5" cy="346.5" r="5" fill="#c69198"/>
<circle cx="378.5" cy="262" r="5" fill="#6e7caa"/>
<circle cx="274" cy="346.5" r="4.5" fill="#a65e4f"/>
<circle cx="393" cy="342" r="4.5" fill="#6979a9"/>
<circle cx="388.5" cy="332.5" r="5" fill="#788caf"/>
<circle cx="375.5" cy="328" r="5.5" fill="#708fb4"/>
<circle cx="278.5" cy="333.5" r="4.5" fill="#6d87ab"/>
<circle cx="281" cy="253" r="4.5" fill="#7887b3"/>
<circle cx="353" cy="276" r="5" fill="#8b647a"/>
<circle cx="393.5" cy="283" r="4.5" fill="#637aa6"/>
<circle cx="358.5" cy="297" r="4" fill="#7375a5"/>
<circle cx="269.5" cy="265" r="5" fill="#cca2a2"/>
<circle cx="281.5" cy="282.5" r="5" fill="#5a6795"/>
<circle cx="299.5" cy="325" r="5" fill="#6e8dab"/>
<circle cx="269" cy="287.5" r="5" fill="#7b8eb8"/>
<circle cx="350" cy="324" r="4.5" fill="#6c85aa"/>
<circle cx="345" cy="288" r="5.5" fill="#6f8ab7"/>
<circle cx="293" cy="318.5" r="5" fill="#677fa5"/>
<circle cx="308.5" cy="251" r="5.5" fill="#ba8687"/>
<circle cx="381" cy="317" r="5" fill="#ac6756"/>
<circle cx="373" cy="266.5" r="5" fill="#7a90b0"/>
<circle cx="332.5" cy="311" r="5.5" fill="#916a80"/>
<circle cx="319" cy="243.5" r="4.5" fill="#a95648"/>
<circle cx="364" cy="324" r="4.5" fill="#5d74a5"/>
<circle cx="306" cy="265.5" r="4.5" fill="#a15548"/>
<circle cx="334" cy="243" r="5" fill="#a65a4f"/>
<circle cx="351" cy="262" r="5" fill="#bc9696"/>
<circle cx="268.5" cy="334" r="4.5" fill="#bd888a"/>
<circle cx="391.5" cy="267" r="5" fill="#6a7ba6"/>
<circle cx="378" cy="349" r="4.5" fill="#6d7aa1"/>
<circle cx="369" cy="348" r="4.5" fill="#d19c9a"/>
<circle cx="372" cy="276" r="5.5" fill="#62769d"/>
<circle cx="316" cy="283.5" r="4.5" fill="#5870a3"/>
<circle cx="269.5" cy="328" r="5.5" fill="#7783b0"/>
<circle cx="399" cy="334" r="4.5" fill="#7379a0"/>
<circle cx="394" cy="254" r="4.5" fill="#627ea8"/>
<circle cx="334.5" cy="261" r="5.5" fill="#906081"/>
<circle cx="269" cy="348.5" r="5" fill="#cfa2a0"/>
<circle cx="369" cy="299.5" r="5.5" fill="#9d6d83"/>
<circle cx="334" cy="296.5" r="5" fill="#6a7faf"/>
<circle cx="283" cy="329.5" r="5" fill="#5a6a9b"/>
<circle cx="313" cy="242.5" r="5" fill="#6f89b1"/>
<circle cx="316" cy="324.5" r="5" fill="#be888e"/>
</g>
<g fill-opacity="0.86"><circle cx="304" cy="317" r="2.5" fill="#4f5c80"/><circle cx="296" cy="282.5" r="2.5" fill="#8c5546"/><circle cx="316.5" cy="310" r="2.5" fill="#5b648a"/><circle cx="398.5" cy="320" r="2.5" fill="#5a6b8b"/><circle cx="360.5" cy="251" r="2.5" fill="#515c82"/><circle cx="334" cy="348" r="3" fill="#62738e"/><circle cx="317.5" cy="258" r="2.5" fill="#686d8e"/><circle cx="335.5" cy="321" r="2" fill="#916b70"/><circle cx="350.5" cy="284" r="2.5" fill="#596280"/><circle cx="284.5" cy="275" r="2.5" fill="#566082"/><circle cx="300" cy="267" r="2.5" fill="#515c80"/><circle cx="328.5" cy="260.5" r="2.5" fill="#815f75"/><circle cx="276" cy="259.5" r="2" fill="#7a5a6e"/><circle cx="352" cy="304.5" r="2.5" fill="#626e8d"/><circle cx="359.5" cy="258.5" r="2" fill="#526284"/><circle cx="386" cy="350.5" r="2" fill="#6a6b96"/><circle cx="341" cy="325" r="2.5" fill="#9e7874"/><circle cx="360" cy="313" r="2.5" fill="#9e7a76"/><circle cx="310.5" cy="334" r="2.5" fill="#62718d"/><circle cx="302.5" cy="346.5" r="2.5" fill="#526282"/><circle cx="269.5" cy="297" r="2.5" fill="#824037"/><circle cx="283" cy="304.5" r="2.5" fill="#5e6286"/><circle cx="284.5" cy="321" r="2.5" fill="#535c7f"/><circle cx="360" cy="285" r="2.5" fill="#495c81"/><circle cx="361.5" cy="319" r="2.5" fill="#925546"/><circle cx="395.5" cy="258.5" r="2.5" fill="#864d44"/><circle cx="329.5" cy="304.5" r="2.5" fill="#5a6188"/><circle cx="385" cy="293.5" r="2" fill="#745667"/><circle cx="301.5" cy="273" r="2.5" fill="#7a5a6a"/><circle cx="386" cy="325" r="2.5" fill="#465a7f"/><circle cx="279" cy="309.5" r="2.5" fill="#4c5d7f"/><circle cx="310.5" cy="278" r="2.5" fill="#5a718f"/><circle cx="304.5" cy="303.5" r="2.5" fill="#845141"/><circle cx="302.5" cy="290.5" r="2" fill="#93746e"/><circle cx="315" cy="269" r="2.5" fill="#926e72"/><circle cx="344.5" cy="333.5" r="2" fill="#656d91"/><circle cx="389.5" cy="296.5" r="2.5" fill="#566481"/><circle cx="324.5" cy="310" r="2.5" fill="#8a4f3f"/><circle cx="378.5" cy="276.5" r="2.5" fill="#5a6a87"/><circle cx="387.5" cy="275" r="2" fill="#7e5f70"/><circle cx="277.5" cy="290" r="2" fill="#8b4e3e"/><circle cx="301" cy="343" r="2.5" fill="#566a87"/><circle cx="376.5" cy="297" r="2.5" fill="#46557e"/><circle cx="302" cy="337" r="2.5" fill="#864d42"/><circle cx="307" cy="329.5" r="2.5" fill="#5c6e92"/><circle cx="395" cy="306" r="2.5" fill="#586a8a"/><circle cx="298" cy="311" r="2" fill="#9b787b"/><circle cx="323.5" cy="282.5" r="2.5" fill="#7f556a"/><circle cx="291" cy="261.5" r="2.5" fill="#74556a"/><circle cx="340" cy="312" r="2.5" fill="#977278"/><circle cx="286.5" cy="340.5" r="2.5" fill="#93524a"/><circle cx="285.5" cy="246.5" r="2.5" fill="#596688"/><circle cx="387.5" cy="320" r="2.5" fill="#606a8a"/><circle cx="350.5" cy="264.5" r="3" fill="#526a8c"/><circle cx="391.5" cy="325.5" r="3" fill="#5a6a8e"/><circle cx="269" cy="245.5" r="2.5" fill="#765a6b"/><circle cx="347.5" cy="275.5" r="2.5" fill="#7a5166"/><circle cx="349.5" cy="340" r="2.5" fill="#586884"/><circle cx="292.5" cy="334" r="2.5" fill="#a27e77"/><circle cx="317.5" cy="343.5" r="2.5" fill="#3e4f72"/><circle cx="328.5" cy="347" r="2.5" fill="#556280"/><circle cx="313" cy="261" r="3" fill="#8e544b"/><circle cx="347.5" cy="250.5" r="2.5" fill="#73566c"/><circle cx="373" cy="284" r="2" fill="#7a4f63"/><circle cx="357" cy="339.5" r="2.5" fill="#834236"/><circle cx="342.5" cy="296.5" r="2.5" fill="#8e4e3f"/><circle cx="279.5" cy="274.5" r="2.5" fill="#804536"/><circle cx="327.5" cy="246" r="2.5" fill="#5a738f"/><circle cx="301" cy="261.5" r="2.5" fill="#4f6285"/><circle cx="364" cy="275" r="2.5" fill="#4e6788"/><circle cx="380.5" cy="306" r="2.5" fill="#91534a"/><circle cx="290.5" cy="323.5" r="2.5" fill="#4e6284"/><circle cx="319.5" cy="349" r="2.5" fill="#7b463a"/><circle cx="264.5" cy="262" r="2" fill="#424e72"/><circle cx="332" cy="340" r="2.5" fill="#63678f"/><circle cx="355.5" cy="243" r="2.5" fill="#464f7a"/><circle cx="322" cy="276" r="2.5" fill="#425175"/><circle cx="286" cy="298" r="2.5" fill="#8b5447"/><circle cx="270" cy="255" r="2" fill="#894e3e"/><circle cx="346" cy="262" r="2.5" fill="#8e533f"/><circle cx="377" cy="342" r="2.5" fill="#854638"/><circle cx="278" cy="321" r="2.5" fill="#606b92"/><circle cx="308" cy="288" r="2.5" fill="#576383"/><circle cx="396" cy="351" r="2.5" fill="#62708e"/><circle cx="318.5" cy="333.5" r="2.5" fill="#7f443a"/><circle cx="345" cy="349" r="2.5" fill="#5a6888"/><circle cx="334.5" cy="272.5" r="2.5" fill="#5b6992"/><circle cx="330" cy="326.5" r="2.5" fill="#585f86"/><circle cx="317" cy="320" r="2.5" fill="#8e5747"/><circle cx="355.5" cy="346.5" r="2.5" fill="#6e4a66"/><circle cx="389" cy="312.5" r="2.5" fill="#42597a"/><circle cx="294.5" cy="291" r="3" fill="#516d85"/><circle cx="387" cy="282" r="2.5" fill="#4f6081"/><circle cx="297" cy="295" r="3" fill="#626688"/><circle cx="329" cy="269.5" r="3" fill="#8d4e3e"/><circle cx="299" cy="255" r="2" fill="#606a90"/><circle cx="386" cy="305.5" r="2.5" fill="#606c87"/><circle cx="365" cy="251.5" r="2.5" fill="#5d7192"/><circle cx="313.5" cy="250" r="2.5" fill="#814a41"/><circle cx="339.5" cy="341.5" r="2.5" fill="#7e463e"/><circle cx="352" cy="287" r="2.5" fill="#714f65"/><circle cx="388.5" cy="259" r="2.5" fill="#61668a"/><circle cx="286.5" cy="264.5" r="2.5" fill="#8a4e45"/><circle cx="344.5" cy="248" r="2" fill="#704a62"/><circle cx="271" cy="283.5" r="2" fill="#586886"/><circle cx="315.5" cy="296.5" r="2.5" fill="#595a80"/><circle cx="361" cy="288" r="2.5" fill="#785166"/><circle cx="294" cy="273" r="2.5" fill="#52627e"/><circle cx="338" cy="286.5" r="2.5" fill="#5a6a88"/><circle cx="291" cy="304" r="2" fill="#495c82"/><circle cx="376" cy="247.5" r="2.5" fill="#715262"/><circle cx="332" cy="253.5" r="2" fill="#73485c"/><circle cx="276.5" cy="306" r="2.5" fill="#a17a7d"/><circle cx="382" cy="268.5" r="2" fill="#4e5f86"/><circle cx="288.5" cy="255.5" r="2" fill="#9e7e7f"/><circle cx="339" cy="252.5" r="2.5" fill="#4e637b"/><circle cx="366.5" cy="282.5" r="2.5" fill="#814a3c"/><circle cx="308" cy="313" r="2.5" fill="#607192"/><circle cx="335" cy="303" r="3" fill="#9f7c82"/><circle cx="273" cy="311" r="2.5" fill="#a07c77"/><circle cx="385" cy="341" r="2.5" fill="#445672"/><circle cx="372" cy="262.5" r="2" fill="#666b90"/><circle cx="399" cy="247.5" r="2.5" fill="#44567a"/><circle cx="349.5" cy="295" r="2.5" fill="#626e96"/><circle cx="277" cy="247" r="2.5" fill="#556482"/><circle cx="327" cy="274.5" r="2.5" fill="#7d5a71"/><circle cx="279" cy="295.5" r="2.5" fill="#58668b"/><circle cx="267.5" cy="320.5" r="2.5" fill="#3b4a76"/><circle cx="364.5" cy="242" r="2" fill="#636e8a"/><circle cx="284" cy="347" r="2.5" fill="#9e747a"/><circle cx="379.5" cy="263" r="2.5" fill="#586388"/><circle cx="273" cy="347" r="2" fill="#854b3f"/><circle cx="387.5" cy="333.5" r="2.5" fill="#60708c"/><circle cx="375.5" cy="328" r="2.5" fill="#5a7290"/><circle cx="278.5" cy="333" r="2.5" fill="#576c89"/><circle cx="281.5" cy="253.5" r="2.5" fill="#606c8f"/><circle cx="354" cy="276" r="2.5" fill="#6f5062"/><circle cx="358.5" cy="296.5" r="2" fill="#5c5e84"/><circle cx="300.5" cy="326" r="2.5" fill="#587189"/><circle cx="268" cy="287.5" r="2.5" fill="#627293"/><circle cx="350" cy="325" r="2" fill="#566a88"/><circle cx="344" cy="287.5" r="2.5" fill="#596e92"/><circle cx="309.5" cy="250.5" r="3" fill="#956b6c"/><circle cx="382" cy="317" r="2.5" fill="#8a5245"/><circle cx="332" cy="311.5" r="2.5" fill="#745566"/><circle cx="318.5" cy="243.5" r="2" fill="#87453a"/><circle cx="305" cy="265" r="2" fill="#81443a"/><circle cx="351.5" cy="262.5" r="2.5" fill="#967878"/><circle cx="377.5" cy="348" r="2.5" fill="#576281"/><circle cx="369" cy="348.5" r="2" fill="#a77d7b"/><circle cx="371" cy="276" r="2.5" fill="#4e5e7e"/><circle cx="399" cy="334" r="2" fill="#5c6180"/><circle cx="334.5" cy="261" r="3" fill="#734d67"/><circle cx="269" cy="348" r="2.5" fill="#a68280"/><circle cx="369.5" cy="300.5" r="2.5" fill="#7e5769"/><circle cx="334" cy="296" r="2.5" fill="#55668c"/><circle cx="312.5" cy="243.5" r="2.5" fill="#596e8e"/></g>
<circle cx="302" cy="258" r="7" fill="#b0604e" fill-opacity="0.55" stroke="#e8d8e0" stroke-opacity="0.4"/>
<circle cx="294" cy="295" r="8" fill="#b0604e" fill-opacity="0.55" stroke="#e8d8e0" stroke-opacity="0.4"/>
<circle cx="336" cy="306" r="9" fill="#aa5a4a" fill-opacity="0.55" stroke="#e8d8e0" stroke-opacity="0.4"/>
<circle cx="338" cy="320" r="8" fill="#a85a4c" fill-opacity="0.55" stroke="#e8d8e0" stroke-opacity="0.4"/>
<circle cx="372" cy="277" r="8" fill="#b0604c" fill-opacity="0.55" stroke="#e8d8e0" stroke-opacity="0.4"/>
<circle cx="280" cy="318" r="8" fill="#a85a4c" fill-opacity="0.55" stroke="#e8d8e0" stroke-opacity="0.4"/>
<circle cx="282" cy="332" r="7" fill="#b0604e" fill-opacity="0.55" stroke="#e8d8e0" stroke-opacity="0.4"/>
<circle cx="304" cy="287" r="2" fill="#1a2040" fill-opacity="0.9" stroke="#e8d8e0" stroke-opacity="0.4"/>
</g>
<path d="M326 252.5H388.5" stroke="#6a4a5a" stroke-opacity="0.16" stroke-width="1"/>
<rect x="355" y="253" width="5" height="2" fill="#fff"/>
</g>
<clipPath id="c21"><rect x="400" y="249" width="119.5" height="98"/></clipPath>
<g clip-path="url(#c21)"><rect x="400" y="249" width="119.5" height="98" fill="#e4d6dc"/><g filter="url(#bl)">
<g fill-opacity="0.78" stroke="#f0e6ea" stroke-opacity="0.4" stroke-width="1">
<circle cx="497" cy="332" r="3.5" fill="#698ab1"/>
<circle cx="458" cy="272.5" r="3.5" fill="#5672a6"/>
<circle cx="396" cy="315.5" r="5" fill="#7187b3"/>
<circle cx="456" cy="325.5" r="4.5" fill="#af8288"/>
<circle cx="443.5" cy="326.5" r="3.5" fill="#d7a491"/>
<circle cx="431" cy="330" r="4.5" fill="#6c89b9"/>
<circle cx="489" cy="289" r="4.5" fill="#e7afa3"/>
<circle cx="464.5" cy="317.5" r="4.5" fill="#8999ba"/>
<circle cx="420.5" cy="303.5" r="3" fill="#cd9d91"/>
<circle cx="498.5" cy="273" r="3" fill="#ac9091"/>
<circle cx="498.5" cy="317.5" r="4" fill="#8188b3"/>
<circle cx="503.5" cy="280.5" r="5" fill="#6581ac"/>
<circle cx="408" cy="330" r="4.5" fill="#6c81b0"/>
<circle cx="498.5" cy="292" r="3.5" fill="#6885af"/>
<circle cx="408" cy="266" r="4.5" fill="#617fb0"/>
<circle cx="477" cy="276" r="3.5" fill="#6887ac"/>
<circle cx="517.5" cy="307.5" r="4.5" fill="#5775ae"/>
<circle cx="421.5" cy="314.5" r="3.5" fill="#d49898"/>
<circle cx="442" cy="344" r="4.5" fill="#d09494"/>
<circle cx="512" cy="299.5" r="4" fill="#ae8093"/>
<circle cx="478" cy="319" r="3" fill="#5c7ba7"/>
<circle cx="498.5" cy="348.5" r="4" fill="#828bae"/>
<circle cx="399.5" cy="283.5" r="4.5" fill="#ba9ca1"/>
<circle cx="472.5" cy="277.5" r="4.5" fill="#5d83b0"/>
<circle cx="471" cy="254.5" r="5" fill="#af8e96"/>
<circle cx="508" cy="300.5" r="3.5" fill="#748bac"/>
<circle cx="411" cy="315.5" r="3.5" fill="#7c8eb4"/>
<circle cx="436" cy="266" r="3" fill="#7096c0"/>
<circle cx="457.5" cy="259.5" r="4" fill="#567ba7"/>
<circle cx="423" cy="336.5" r="4" fill="#d99d94"/>
<circle cx="485" cy="246.5" r="4.5" fill="#d8aa9a"/>
<circle cx="495" cy="247" r="3" fill="#bb9699"/>
<circle cx="438.5" cy="341" r="4" fill="#dfaba1"/>
<circle cx="475" cy="277.5" r="5" fill="#6384ae"/>
<circle cx="444" cy="286.5" r="5" fill="#7c8fc4"/>
<circle cx="412" cy="351" r="5" fill="#b18694"/>
<circle cx="403" cy="290" r="4.5" fill="#5e86b6"/>
<circle cx="491" cy="287" r="4" fill="#8290b7"/>
<circle cx="521" cy="271" r="4" fill="#8796b5"/>
<circle cx="521" cy="339.5" r="3.5" fill="#6785b5"/>
<circle cx="481.5" cy="339.5" r="5" fill="#6d90be"/>
<circle cx="453" cy="333" r="4.5" fill="#6e94be"/>
<circle cx="497.5" cy="300" r="4" fill="#d3a995"/>
<circle cx="456" cy="320" r="4.5" fill="#5d7eaa"/>
<circle cx="448" cy="254" r="4" fill="#8c91b7"/>
<circle cx="491" cy="273" r="4.5" fill="#728ab3"/>
<circle cx="458" cy="328" r="4.5" fill="#4867a1"/>
<circle cx="418" cy="247.5" r="4.5" fill="#6f90bb"/>
<circle cx="411.5" cy="307.5" r="3.5" fill="#d6a89d"/>
<circle cx="442" cy="272" r="5" fill="#9097bd"/>
<circle cx="453.5" cy="343.5" r="4.5" fill="#6f8bba"/>
<circle cx="428.5" cy="288.5" r="4.5" fill="#7b83a4"/>
<circle cx="508" cy="310" r="4" fill="#7a91ab"/>
<circle cx="430" cy="295.5" r="4" fill="#e1b1a8"/>
<circle cx="457" cy="260" r="4" fill="#e0aca3"/>
<circle cx="444" cy="277.5" r="4.5" fill="#5b81a5"/>
<circle cx="498.5" cy="279.5" r="4.5" fill="#a7858a"/>
<circle cx="480" cy="348" r="4.5" fill="#6a89ab"/>
<circle cx="513.5" cy="285" r="3.5" fill="#527cb1"/>
<circle cx="473" cy="279" r="3.5" fill="#6483b1"/>
<circle cx="447" cy="296.5" r="4" fill="#ce9e93"/>
<circle cx="497" cy="344.5" r="4.5" fill="#5e7fb1"/>
<circle cx="433" cy="245.5" r="4.5" fill="#ad8a91"/>
<circle cx="453.5" cy="251" r="4" fill="#ab8d90"/>
<circle cx="400" cy="327" r="4" fill="#808aae"/>
<circle cx="410.5" cy="321" r="4.5" fill="#708cb8"/>
<circle cx="442" cy="344.5" r="3.5" fill="#4b71a1"/>
<circle cx="505" cy="251.5" r="3.5" fill="#8087ab"/>
<circle cx="420.5" cy="345.5" r="3.5" fill="#bb95a1"/>
<circle cx="474" cy="289.5" r="3.5" fill="#6a88b3"/>
<circle cx="495.5" cy="331" r="4.5" fill="#6b87b6"/>
<circle cx="458.5" cy="294.5" r="4" fill="#7a84b2"/>
<circle cx="409" cy="283.5" r="4" fill="#8c9dbd"/>
<circle cx="414.5" cy="311.5" r="4.5" fill="#5374a6"/>
<circle cx="473.5" cy="260.5" r="3" fill="#687fb3"/>
<circle cx="476" cy="255.5" r="4" fill="#6579aa"/>
<circle cx="409.5" cy="313.5" r="4" fill="#6b88b1"/>
<circle cx="455" cy="340.5" r="4.5" fill="#8090b6"/>
<circle cx="476" cy="319.5" r="4" fill="#7e89b6"/>
<circle cx="412" cy="333.5" r="4" fill="#b899a1"/>
<circle cx="406.5" cy="310.5" r="3.5" fill="#af9091"/>
<circle cx="512" cy="341" r="3" fill="#8187b2"/>
<circle cx="510" cy="293" r="4" fill="#be9aa4"/>
<circle cx="484.5" cy="329" r="4.5" fill="#cda194"/>
<circle cx="413.5" cy="345" r="3" fill="#6d93c0"/>
<circle cx="512" cy="291.5" r="4.5" fill="#7387b7"/>
<circle cx="495.5" cy="292.5" r="4.5" fill="#c19b9a"/>
<circle cx="431" cy="320.5" r="4" fill="#d1a095"/>
<circle cx="404" cy="330" r="4" fill="#8991b9"/>
<circle cx="520.5" cy="275.5" r="4" fill="#6b87b5"/>
<circle cx="516" cy="254" r="5" fill="#6081b3"/>
<circle cx="505.5" cy="274.5" r="4.5" fill="#667ca5"/>
<circle cx="519" cy="290.5" r="5" fill="#597db4"/>
<circle cx="513.5" cy="248.5" r="4" fill="#6589b5"/>
<circle cx="407" cy="331.5" r="3" fill="#8696b6"/>
<circle cx="477.5" cy="302" r="3.5" fill="#e5ac9e"/>
<circle cx="400" cy="263.5" r="4" fill="#b79aa2"/>
<circle cx="443" cy="250.5" r="3.5" fill="#d29894"/>
<circle cx="522.5" cy="326" r="3.5" fill="#5a7fb5"/>
<circle cx="517" cy="319.5" r="3.5" fill="#677eb0"/>
<circle cx="440" cy="253" r="5" fill="#d5a098"/>
<circle cx="489.5" cy="257" r="3.5" fill="#dca9a4"/>
<circle cx="466" cy="294" r="4" fill="#6f8fb8"/>
<circle cx="459" cy="253" r="3.5" fill="#5072b1"/>
<circle cx="405.5" cy="300" r="3.5" fill="#6183ae"/>
<circle cx="400" cy="300.5" r="3.5" fill="#8a9dbf"/>
<circle cx="415" cy="275" r="3.5" fill="#6d94b5"/>
<circle cx="415.5" cy="305.5" r="4.5" fill="#6382a9"/>
<circle cx="445.5" cy="268.5" r="4" fill="#e0aea6"/>
<circle cx="424.5" cy="305" r="4" fill="#6477a5"/>
<circle cx="512" cy="289.5" r="5" fill="#5076ad"/>
<circle cx="417" cy="278.5" r="3.5" fill="#7287a6"/>
<circle cx="426.5" cy="305.5" r="3.5" fill="#cc9891"/>
<circle cx="496.5" cy="305.5" r="4" fill="#7391c2"/>
<circle cx="420" cy="279.5" r="3.5" fill="#6385b4"/>
<circle cx="444.5" cy="291.5" r="5" fill="#ad868a"/>
<circle cx="446.5" cy="350.5" r="4" fill="#4e72aa"/>
<circle cx="466.5" cy="315" r="4" fill="#7f92b9"/>
<circle cx="487.5" cy="313.5" r="4.5" fill="#6a88b0"/>
<circle cx="498.5" cy="284.5" r="3.5" fill="#ddad9f"/>
<circle cx="481" cy="348" r="4.5" fill="#6f8fbc"/>
<circle cx="417" cy="311.5" r="4.5" fill="#6889ac"/>
<circle cx="445" cy="251.5" r="4.5" fill="#b08d95"/>
<circle cx="401" cy="325.5" r="4.5" fill="#718ebc"/>
<circle cx="410.5" cy="320.5" r="3.5" fill="#6f93ba"/>
<circle cx="409" cy="284" r="5" fill="#8a93ba"/>
<circle cx="400" cy="302.5" r="3" fill="#6786b4"/>
<circle cx="496.5" cy="269" r="3.5" fill="#c19ba2"/>
<circle cx="468" cy="343" r="3.5" fill="#4f77a7"/>
<circle cx="433.5" cy="295" r="4.5" fill="#5979a7"/>
<circle cx="488.5" cy="336.5" r="4.5" fill="#658aaf"/>
<circle cx="417.5" cy="315" r="3.5" fill="#af8491"/>
<circle cx="411.5" cy="257" r="3.5" fill="#5e83b2"/>
<circle cx="521.5" cy="250.5" r="4" fill="#7191bc"/>
<circle cx="513.5" cy="324.5" r="4.5" fill="#5e85ac"/>
<circle cx="482" cy="322.5" r="4" fill="#b79797"/>
<circle cx="479" cy="275.5" r="4" fill="#5672a5"/>
<circle cx="452.5" cy="266.5" r="4" fill="#bc8e95"/>
<circle cx="505.5" cy="327.5" r="5" fill="#4670a2"/>
<circle cx="496.5" cy="267.5" r="4" fill="#7a93b0"/>
<circle cx="471.5" cy="272" r="4" fill="#8a99ba"/>
<circle cx="497" cy="324" r="4.5" fill="#8293ae"/>
<circle cx="523" cy="320" r="4" fill="#7a8cb6"/>
<circle cx="483" cy="327.5" r="4.5" fill="#c19aa2"/>
<circle cx="408" cy="308" r="5" fill="#678bad"/>
<circle cx="400" cy="284" r="4.5" fill="#4e6ea3"/>
<circle cx="411" cy="345.5" r="5" fill="#be97a4"/>
<circle cx="399.5" cy="342.5" r="4.5" fill="#b6919b"/>
<circle cx="517" cy="291" r="4.5" fill="#6983aa"/>
<circle cx="502" cy="250.5" r="3.5" fill="#b38e96"/>
<circle cx="414" cy="246" r="4.5" fill="#7486a3"/>
<circle cx="404.5" cy="245.5" r="4" fill="#d5a396"/>
<circle cx="501.5" cy="254.5" r="4" fill="#8692b9"/>
<circle cx="471.5" cy="274" r="3.5" fill="#7292b7"/>
<circle cx="413" cy="289.5" r="4.5" fill="#be9ba1"/>
<circle cx="419" cy="348.5" r="5" fill="#878cb2"/>
<circle cx="445" cy="308" r="4" fill="#718cbf"/>
<circle cx="468" cy="311.5" r="3.5" fill="#bc9da0"/>
<circle cx="457.5" cy="273.5" r="4.5" fill="#6f91c1"/>
<circle cx="413.5" cy="339" r="4" fill="#708fb6"/>
<circle cx="420.5" cy="292.5" r="3.5" fill="#7a89ac"/>
<circle cx="499" cy="306" r="5" fill="#838faf"/>
<circle cx="517" cy="331" r="3.5" fill="#7887a5"/>
<circle cx="461.5" cy="257.5" r="4.5" fill="#e2aba5"/>
<circle cx="471.5" cy="295" r="4" fill="#828eb3"/>
<circle cx="506" cy="301.5" r="4" fill="#6886b7"/>
<circle cx="484.5" cy="331" r="4.5" fill="#8895bb"/>
<circle cx="456" cy="334" r="4" fill="#7090bf"/>
<circle cx="510.5" cy="261.5" r="4" fill="#da9d9d"/>
<circle cx="513" cy="337" r="4" fill="#5c80ab"/>
<circle cx="505" cy="281" r="3.5" fill="#798ab0"/>
<circle cx="428" cy="259" r="5" fill="#d19a9b"/>
<circle cx="443.5" cy="335.5" r="4.5" fill="#6f8cb4"/>
<circle cx="442.5" cy="245.5" r="4" fill="#ba8ea1"/>
<circle cx="435" cy="253.5" r="4.5" fill="#c39ea0"/>
<circle cx="475.5" cy="326.5" r="4.5" fill="#6285b1"/>
<circle cx="514" cy="254.5" r="4.5" fill="#7d8dac"/>
<circle cx="444.5" cy="258.5" r="4.5" fill="#dea5a2"/>
<circle cx="512" cy="333.5" r="4" fill="#698eb4"/>
<circle cx="462.5" cy="346" r="3.5" fill="#4f6aa1"/>
<circle cx="462.5" cy="327.5" r="4.5" fill="#7286ba"/>
<circle cx="458" cy="283.5" r="4" fill="#848bb8"/>
<circle cx="523" cy="334" r="3.5" fill="#718fb8"/>
<circle cx="471.5" cy="337" r="4" fill="#8c9fc2"/>
<circle cx="479" cy="329.5" r="4" fill="#637fae"/>
<circle cx="404.5" cy="259" r="4" fill="#8094ba"/>
<circle cx="410" cy="309" r="4.5" fill="#b4979c"/>
<circle cx="488" cy="261.5" r="4.5" fill="#7b83a8"/>
<circle cx="460.5" cy="257" r="4" fill="#737fac"/>
<circle cx="483.5" cy="327.5" r="5" fill="#748daf"/>
<circle cx="407" cy="349" r="3.5" fill="#bb9ea4"/>
<circle cx="481" cy="258" r="3.5" fill="#7482ad"/>
<circle cx="441" cy="262" r="3.5" fill="#6989b8"/>
<circle cx="489" cy="342" r="4.5" fill="#627fb1"/>
<circle cx="418.5" cy="264.5" r="4" fill="#7e93ad"/>
<circle cx="476" cy="336" r="4" fill="#ab898e"/>
<circle cx="490" cy="293.5" r="4" fill="#6b86b1"/>
<circle cx="410" cy="310" r="4" fill="#c3a1a2"/>
<circle cx="454" cy="330" r="4.5" fill="#8596ba"/>
<circle cx="469" cy="323" r="4.5" fill="#587eb4"/>
<circle cx="520" cy="311.5" r="3.5" fill="#7486a8"/>
<circle cx="512" cy="274" r="5" fill="#919bbc"/>
<circle cx="396" cy="338.5" r="4.5" fill="#8392b5"/>
<circle cx="400" cy="350.5" r="4" fill="#b59099"/>
<circle cx="454" cy="251.5" r="4.5" fill="#708eb9"/>
<circle cx="431" cy="321.5" r="3.5" fill="#6384aa"/>
<circle cx="445" cy="311" r="3.5" fill="#4c70ae"/>
<circle cx="409" cy="333.5" r="4.5" fill="#5d83b2"/>
<circle cx="443.5" cy="333.5" r="4" fill="#617fad"/>
<circle cx="415" cy="315.5" r="4.5" fill="#6983ad"/>
<circle cx="456" cy="288" r="3.5" fill="#577dae"/>
<circle cx="398.5" cy="301.5" r="5" fill="#7b92bd"/>
<circle cx="503" cy="256" r="4" fill="#4f76a6"/>
<circle cx="453" cy="246.5" r="4.5" fill="#be9da5"/>
<circle cx="522.5" cy="348" r="4" fill="#7d8bb5"/>
<circle cx="482.5" cy="296" r="5" fill="#899ec0"/>
<circle cx="405" cy="258" r="4" fill="#818fab"/>
<circle cx="486" cy="329" r="5" fill="#c094a3"/>
<circle cx="522" cy="336.5" r="4" fill="#8495b0"/>
<circle cx="452" cy="272" r="3.5" fill="#6381b7"/>
<circle cx="465" cy="281.5" r="4.5" fill="#d5a695"/>
<circle cx="465.5" cy="338.5" r="4" fill="#6d8ebd"/>
<circle cx="454" cy="349" r="3.5" fill="#ad8d90"/>
<circle cx="487.5" cy="250" r="3" fill="#b58996"/>
<circle cx="491" cy="315" r="5" fill="#db9c9d"/>
<circle cx="475.5" cy="245.5" r="4.5" fill="#ab8e8e"/>
<circle cx="508" cy="297.5" r="4.5" fill="#d29b8f"/>
<circle cx="464.5" cy="263" r="3.5" fill="#d69a93"/>
<circle cx="400.5" cy="246.5" r="4.5" fill="#7886ac"/>
<circle cx="423" cy="277" r="4" fill="#dba8a2"/>
<circle cx="415.5" cy="251" r="5" fill="#e0aea3"/>
<circle cx="488.5" cy="319.5" r="4" fill="#7b8dac"/>
<circle cx="508.5" cy="268" r="4" fill="#e0aba2"/>
<circle cx="489" cy="308" r="4" fill="#8696b9"/>
<circle cx="407.5" cy="338" r="5" fill="#7292bd"/>
<circle cx="441.5" cy="264.5" r="4" fill="#b3929b"/>
<circle cx="419.5" cy="343" r="4" fill="#bc9597"/>
<circle cx="424" cy="285.5" r="3.5" fill="#6482ae"/>
<circle cx="465.5" cy="283" r="5" fill="#bb949c"/>
<circle cx="479.5" cy="254.5" r="5" fill="#b2969b"/>
<circle cx="451" cy="307" r="3.5" fill="#5177a7"/>
<circle cx="475" cy="309.5" r="3.5" fill="#d29794"/>
<circle cx="430.5" cy="312.5" r="4.5" fill="#648bb1"/>
<circle cx="520" cy="296" r="3.5" fill="#627ea6"/>
<circle cx="478" cy="333.5" r="4" fill="#8689b5"/>
<circle cx="428" cy="273" r="3.5" fill="#6d88bd"/>
<circle cx="519.5" cy="277" r="4" fill="#7691b9"/>
<circle cx="450.5" cy="284.5" r="4" fill="#818fa9"/>
<circle cx="522.5" cy="303" r="4.5" fill="#6b8bb3"/>
<circle cx="510.5" cy="262" r="4" fill="#879abd"/>
<circle cx="431.5" cy="314" r="4.5" fill="#b48e9c"/>
<circle cx="436.5" cy="315.5" r="4.5" fill="#7580ab"/>
<circle cx="460.5" cy="253.5" r="3.5" fill="#8f9bc3"/>
<circle cx="410.5" cy="291.5" r="4.5" fill="#a98b93"/>
<circle cx="464" cy="263.5" r="4" fill="#7f8eba"/>
<circle cx="429.5" cy="245" r="5" fill="#d5a59e"/>
<circle cx="430" cy="278" r="3.5" fill="#5b82bc"/>
<circle cx="445.5" cy="308" r="4" fill="#ddaea5"/>
<circle cx="504.5" cy="321" r="3.5" fill="#7194bb"/>
<circle cx="490.5" cy="275" r="4" fill="#6f93b5"/>
<circle cx="459" cy="322" r="4.5" fill="#7685ae"/>
<circle cx="510" cy="270.5" r="4.5" fill="#ae8894"/>
<circle cx="398" cy="250.5" r="4" fill="#7286aa"/>
<circle cx="461.5" cy="337.5" r="3.5" fill="#e9b1a9"/>
<circle cx="415.5" cy="328" r="5" fill="#8391ad"/>
<circle cx="477.5" cy="336.5" r="3.5" fill="#6483b4"/>
<circle cx="511" cy="256.5" r="3.5" fill="#d09f93"/>
<circle cx="497" cy="259.5" r="5" fill="#8896b7"/>
<circle cx="411" cy="287.5" r="3.5" fill="#4d72a6"/>
<circle cx="458.5" cy="252.5" r="5" fill="#5b76ab"/>
<circle cx="431" cy="263.5" r="5" fill="#687caa"/>
<circle cx="413" cy="255.5" r="4" fill="#af959b"/>
<circle cx="399" cy="268" r="4" fill="#677eb3"/>
<circle cx="437.5" cy="289.5" r="3.5" fill="#6f96c1"/>
<circle cx="484.5" cy="310" r="3" fill="#5c83ae"/>
<circle cx="458" cy="279" r="4" fill="#be9797"/>
<circle cx="474.5" cy="265.5" r="4" fill="#6980b7"/>
<circle cx="418.5" cy="257" r="3.5" fill="#b08d94"/>
<circle cx="481.5" cy="260" r="4" fill="#5681af"/>
<circle cx="424.5" cy="282.5" r="4.5" fill="#4f72aa"/>
<circle cx="468" cy="313.5" r="4.5" fill="#d69d96"/>
<circle cx="471.5" cy="308" r="4" fill="#8596b9"/>
<circle cx="420.5" cy="341.5" r="5" fill="#5b82ac"/>
<circle cx="490" cy="288" r="3" fill="#527eab"/>
<circle cx="446.5" cy="306" r="3.5" fill="#bc94a1"/>
<circle cx="411" cy="313.5" r="5" fill="#506ba8"/>
<circle cx="511" cy="283.5" r="4.5" fill="#6988bb"/>
<circle cx="459.5" cy="272" r="4.5" fill="#b9989d"/>
<circle cx="512" cy="285" r="5" fill="#748eb7"/>
<circle cx="442" cy="320.5" r="3.5" fill="#848faf"/>
<circle cx="443.5" cy="341" r="3.5" fill="#6488ac"/>
<circle cx="448.5" cy="307.5" r="4" fill="#af8890"/>
<circle cx="435" cy="307.5" r="4.5" fill="#b3919b"/>
<circle cx="456" cy="256" r="5" fill="#547eb1"/>
<circle cx="509.5" cy="262" r="4" fill="#6382aa"/>
<circle cx="469.5" cy="317" r="4" fill="#5b7aa7"/>
<circle cx="456" cy="279.5" r="3.5" fill="#5979af"/>
<circle cx="454" cy="351" r="4.5" fill="#5c7ba9"/>
<circle cx="397.5" cy="339" r="4" fill="#5f7db0"/>
<circle cx="473.5" cy="296" r="3.5" fill="#6882a9"/>
<circle cx="477.5" cy="313" r="3.5" fill="#7480af"/>
<circle cx="502" cy="348.5" r="4.5" fill="#7797c2"/>
<circle cx="461.5" cy="282" r="3.5" fill="#7a85af"/>
<circle cx="442" cy="341.5" r="4.5" fill="#8e99bf"/>
<circle cx="457" cy="252.5" r="5" fill="#698db8"/>
<circle cx="471" cy="257" r="3.5" fill="#688baf"/>
<circle cx="440" cy="314" r="4" fill="#7591c0"/>
<circle cx="474" cy="302" r="4" fill="#6182b0"/>
<circle cx="502" cy="309.5" r="5" fill="#557cb4"/>
<circle cx="519.5" cy="331" r="4" fill="#6a7faf"/>
<circle cx="429.5" cy="328" r="3.5" fill="#dbaf9f"/>
<circle cx="442" cy="345" r="5" fill="#8994be"/>
<circle cx="475" cy="289.5" r="5" fill="#9295c2"/>
<circle cx="418.5" cy="335" r="4" fill="#7884ab"/>
<circle cx="441" cy="246.5" r="5" fill="#6a81ac"/>
<circle cx="498.5" cy="245.5" r="4" fill="#718eba"/>
<circle cx="401.5" cy="248" r="4.5" fill="#ba9da1"/>
<circle cx="478" cy="304.5" r="4" fill="#ce9496"/>
<circle cx="457.5" cy="344" r="4" fill="#b89099"/>
<circle cx="456" cy="267" r="5" fill="#6c82b0"/>
<circle cx="523" cy="256.5" r="3.5" fill="#c09da0"/>
<circle cx="402.5" cy="268.5" r="4" fill="#c39ea4"/>
<circle cx="520.5" cy="289.5" r="5" fill="#b18f93"/>
<circle cx="441.5" cy="284" r="3.5" fill="#e5aea4"/>
<circle cx="443" cy="325" r="4" fill="#cfa59a"/>
<circle cx="477.5" cy="274.5" r="4" fill="#8693bd"/>
<circle cx="420.5" cy="331.5" r="4" fill="#6481a5"/>
<circle cx="467.5" cy="298" r="4" fill="#5274a8"/>
<circle cx="421.5" cy="348.5" r="4" fill="#4c6fa1"/>
<circle cx="463.5" cy="342.5" r="3" fill="#be9aa4"/>
<circle cx="482" cy="312.5" r="5" fill="#7893c3"/>
<circle cx="399" cy="342" r="3.5" fill="#9198c3"/>
<circle cx="505" cy="253" r="3.5" fill="#dda2a0"/>
<circle cx="406.5" cy="316.5" r="4" fill="#6988b1"/>
<circle cx="481" cy="265.5" r="3.5" fill="#7791c3"/>
<circle cx="522.5" cy="255.5" r="4.5" fill="#e1ada1"/>
<circle cx="468.5" cy="296" r="4" fill="#738fb7"/>
<circle cx="438" cy="316" r="3" fill="#e1afa6"/>
<circle cx="452" cy="326.5" r="4" fill="#768db9"/>
<circle cx="494.5" cy="246" r="4" fill="#7097ba"/>
<circle cx="437.5" cy="302.5" r="5" fill="#7293b5"/>
<circle cx="434" cy="308.5" r="4.5" fill="#7786b5"/>
<circle cx="399.5" cy="256" r="4" fill="#557db4"/>
<circle cx="461.5" cy="268" r="4.5" fill="#6482ad"/>
<circle cx="422.5" cy="289" r="3.5" fill="#8f9abf"/>
<circle cx="472" cy="314.5" r="4.5" fill="#8797b7"/>
<circle cx="472.5" cy="298" r="4.5" fill="#5573a8"/>
<circle cx="451.5" cy="337" r="4" fill="#7791bd"/>
<circle cx="506" cy="340" r="5" fill="#7782aa"/>
<circle cx="516" cy="316" r="3.5" fill="#c09b9e"/>
<circle cx="421.5" cy="319.5" r="4.5" fill="#7186b8"/>
<circle cx="432" cy="277" r="5" fill="#6885b7"/>
<circle cx="447" cy="248.5" r="4.5" fill="#8392b7"/>
<circle cx="452" cy="266" r="4.5" fill="#af8c92"/>
<circle cx="425.5" cy="290.5" r="4" fill="#6f8bba"/>
<circle cx="492.5" cy="314" r="3.5" fill="#ad8092"/>
<circle cx="436" cy="321.5" r="4" fill="#6683ad"/>
<circle cx="448" cy="283" r="5" fill="#597faa"/>
<circle cx="448" cy="275.5" r="4.5" fill="#8ca1c5"/>
<circle cx="415.5" cy="347.5" r="3.5" fill="#d69d93"/>
<circle cx="472" cy="314.5" r="5" fill="#ba949c"/>
<circle cx="474" cy="298" r="4.5" fill="#527cad"/>
<circle cx="476.5" cy="246" r="4.5" fill="#d5a299"/>
<circle cx="404.5" cy="301.5" r="4" fill="#4472a7"/>
<circle cx="455" cy="246.5" r="4" fill="#b6929b"/>
<circle cx="423" cy="277.5" r="3.5" fill="#bc9aa0"/>
<circle cx="519.5" cy="333.5" r="3.5" fill="#6280aa"/>
<circle cx="401" cy="286" r="4.5" fill="#828bb1"/>
<circle cx="440.5" cy="259.5" r="3.5" fill="#7295bc"/>
<circle cx="433" cy="350" r="3.5" fill="#577cb9"/>
<circle cx="513" cy="273.5" r="5" fill="#c497a2"/>
<circle cx="495.5" cy="259" r="4.5" fill="#8999bd"/>
<circle cx="476.5" cy="254" r="4" fill="#6e95b8"/>
<circle cx="478" cy="308.5" r="4.5" fill="#657eaa"/>
<circle cx="522.5" cy="306.5" r="5" fill="#7d83b0"/>
<circle cx="512" cy="270.5" r="4.5" fill="#6a85b6"/>
<circle cx="475.5" cy="267" r="3" fill="#b09093"/>
<circle cx="405" cy="349" r="5" fill="#5979a9"/>
<circle cx="399.5" cy="282.5" r="4.5" fill="#a98a90"/>
<circle cx="436.5" cy="266.5" r="4" fill="#b49b9c"/>
<circle cx="505" cy="325" r="4" fill="#7a91c0"/>
<circle cx="445" cy="304.5" r="3" fill="#7794ba"/>
<circle cx="502" cy="251.5" r="3.5" fill="#ab8390"/>
<circle cx="479.5" cy="335.5" r="4.5" fill="#6681a9"/>
<circle cx="473" cy="300.5" r="3.5" fill="#7b84a6"/>
<circle cx="427.5" cy="263" r="4" fill="#8390b3"/>
<circle cx="418.5" cy="283" r="4" fill="#b692a0"/>
<circle cx="432.5" cy="327.5" r="3.5" fill="#6982b8"/>
<circle cx="416.5" cy="258.5" r="4.5" fill="#848eb3"/>
<circle cx="498" cy="293" r="4.5" fill="#6484b1"/>
<circle cx="410.5" cy="331.5" r="4" fill="#6382b3"/>
<circle cx="401" cy="284.5" r="3.5" fill="#cf968d"/>
<circle cx="447.5" cy="300" r="4.5" fill="#be96a6"/>
<circle cx="426.5" cy="343.5" r="4.5" fill="#828aad"/>
<circle cx="470" cy="279.5" r="3.5" fill="#d9a69c"/>
<circle cx="477.5" cy="285.5" r="4" fill="#5d84b0"/>
<circle cx="467.5" cy="308.5" r="4.5" fill="#4e69a3"/>
<circle cx="427.5" cy="337.5" r="4" fill="#8898b9"/>
<circle cx="408" cy="344" r="4" fill="#7e8cb7"/>
<circle cx="450" cy="299" r="3.5" fill="#aa8e94"/>
<circle cx="409.5" cy="299" r="4.5" fill="#5a84b9"/>
<circle cx="438.5" cy="310" r="3.5" fill="#6a8ab6"/>
<circle cx="483.5" cy="255.5" r="4.5" fill="#b2868e"/>
<circle cx="405.5" cy="340" r="4" fill="#6380a7"/>
<circle cx="422" cy="317" r="4.5" fill="#7396be"/>
<circle cx="489" cy="328" r="4" fill="#6a91bc"/>
<circle cx="396.5" cy="312.5" r="4" fill="#4d70a9"/>
<circle cx="503.5" cy="248.5" r="5" fill="#90a1c0"/>
<circle cx="397" cy="338.5" r="4.5" fill="#8194b3"/>
<circle cx="484.5" cy="320" r="4.5" fill="#8492bd"/>
<circle cx="494" cy="310" r="4" fill="#6f86b4"/>
<circle cx="421.5" cy="262" r="3.5" fill="#4971a4"/>
<circle cx="398" cy="315" r="5" fill="#c69793"/>
<circle cx="480.5" cy="350" r="4" fill="#b79797"/>
<circle cx="427.5" cy="260.5" r="3.5" fill="#7b83ac"/>
<circle cx="444.5" cy="344.5" r="5" fill="#4c70a6"/>
<circle cx="426" cy="338.5" r="4" fill="#6b86b2"/>
<circle cx="477.5" cy="326.5" r="4.5" fill="#b69b9b"/>
<circle cx="410.5" cy="330.5" r="3.5" fill="#e4aea4"/>
<circle cx="447" cy="323.5" r="4.5" fill="#7c8ead"/>
</g>
<g fill-opacity="0.78"><circle cx="458" cy="272.5" r="2" fill="#455b85"/><circle cx="397" cy="316" r="2.5" fill="#5a6c8f"/><circle cx="455" cy="324.5" r="2.5" fill="#8c686d"/><circle cx="443" cy="327" r="2" fill="#ac8374"/><circle cx="489" cy="289.5" r="2.5" fill="#b98c82"/><circle cx="465.5" cy="318" r="2.5" fill="#6e7a95"/><circle cx="498.5" cy="317.5" r="2" fill="#676d8f"/><circle cx="407" cy="266.5" r="2.5" fill="#4e668d"/><circle cx="516.5" cy="306.5" r="2" fill="#465e8b"/><circle cx="441.5" cy="344" r="2" fill="#a67676"/><circle cx="399.5" cy="283.5" r="2" fill="#957d81"/><circle cx="470" cy="254.5" r="2.5" fill="#8c7278"/><circle cx="457.5" cy="259.5" r="2" fill="#456286"/><circle cx="484.5" cy="247.5" r="2" fill="#ad887b"/><circle cx="438" cy="340.5" r="2" fill="#b28981"/><circle cx="475" cy="278.5" r="2.5" fill="#4f6a8b"/><circle cx="443" cy="286" r="2.5" fill="#63729d"/><circle cx="412.5" cy="351" r="2.5" fill="#8e6b76"/><circle cx="403" cy="290.5" r="2" fill="#4b6b92"/><circle cx="491" cy="287" r="2" fill="#687392"/><circle cx="520" cy="340" r="2" fill="#526a91"/><circle cx="457" cy="320.5" r="2" fill="#4a6588"/><circle cx="447" cy="254.5" r="2" fill="#707492"/><circle cx="491.5" cy="272.5" r="2" fill="#5b6e8f"/><circle cx="457.5" cy="328" r="2" fill="#3a5281"/><circle cx="417" cy="246.5" r="2" fill="#597396"/><circle cx="412" cy="308.5" r="2" fill="#ab867e"/><circle cx="442.5" cy="273" r="2.5" fill="#737997"/><circle cx="454.5" cy="342.5" r="2" fill="#596f95"/><circle cx="508" cy="310.5" r="2" fill="#627489"/><circle cx="429.5" cy="296" r="2" fill="#b48e86"/><circle cx="443.5" cy="277" r="2" fill="#496784"/><circle cx="480.5" cy="347.5" r="2.5" fill="#556e89"/><circle cx="513" cy="285.5" r="2" fill="#42638e"/><circle cx="446" cy="297" r="2" fill="#a57e76"/><circle cx="442" cy="344.5" r="2" fill="#3c5a81"/><circle cx="496" cy="330" r="2.5" fill="#566c92"/><circle cx="458.5" cy="294" r="2" fill="#626a8e"/><circle cx="409.5" cy="283" r="2" fill="#707e97"/><circle cx="414" cy="310.5" r="2.5" fill="#425d85"/><circle cx="409.5" cy="313" r="2" fill="#566d8e"/><circle cx="412.5" cy="333.5" r="2" fill="#937a81"/><circle cx="512.5" cy="291" r="2.5" fill="#5c6c92"/><circle cx="520.5" cy="275.5" r="2" fill="#566c91"/><circle cx="519" cy="291" r="2.5" fill="#476490"/><circle cx="513.5" cy="247.5" r="2" fill="#516e91"/><circle cx="477" cy="301.5" r="2" fill="#b78a7e"/><circle cx="399.5" cy="263.5" r="2" fill="#927b82"/><circle cx="442.5" cy="250.5" r="2" fill="#a87a76"/><circle cx="488.5" cy="257" r="2" fill="#b08783"/><circle cx="400" cy="300" r="2" fill="#6e7e99"/><circle cx="414.5" cy="305.5" r="2" fill="#4f6887"/><circle cx="445.5" cy="268" r="2" fill="#b38b85"/><circle cx="425" cy="304.5" r="2" fill="#505f84"/><circle cx="496" cy="305.5" r="2" fill="#5c749b"/><circle cx="419.5" cy="279.5" r="2" fill="#4f6a90"/><circle cx="443.5" cy="291.5" r="2.5" fill="#8a6b6e"/><circle cx="465.5" cy="314.5" r="2" fill="#667594"/><circle cx="487" cy="313.5" r="2.5" fill="#556d8d"/><circle cx="480" cy="348.5" r="2.5" fill="#597296"/><circle cx="416.5" cy="311" r="2.5" fill="#536e8a"/><circle cx="444.5" cy="251" r="2" fill="#8d7177"/><circle cx="409" cy="285" r="2.5" fill="#6e7695"/><circle cx="433.5" cy="295" r="2" fill="#476186"/><circle cx="489" cy="337" r="2" fill="#516e8c"/><circle cx="520.5" cy="249.5" r="2" fill="#5a7496"/><circle cx="513.5" cy="324.5" r="2" fill="#4b6a8a"/><circle cx="482" cy="322" r="2" fill="#927979"/><circle cx="452.5" cy="266.5" r="2" fill="#967277"/><circle cx="505" cy="328.5" r="2.5" fill="#385a82"/><circle cx="472" cy="272.5" r="2" fill="#6e7a95"/><circle cx="496" cy="324" r="2" fill="#68768b"/><circle cx="408.5" cy="308" r="2.5" fill="#526f8a"/><circle cx="414" cy="245.5" r="2" fill="#5d6b82"/><circle cx="403.5" cy="245" r="2" fill="#aa8278"/><circle cx="501.5" cy="253.5" r="2" fill="#6b7594"/><circle cx="468" cy="312" r="2" fill="#967e80"/><circle cx="413.5" cy="338.5" r="2" fill="#5a7292"/><circle cx="516" cy="331.5" r="2" fill="#606c84"/><circle cx="462.5" cy="258" r="2" fill="#b58984"/><circle cx="471.5" cy="296" r="2" fill="#68728f"/><circle cx="506.5" cy="301.5" r="2" fill="#536b92"/><circle cx="457" cy="335" r="2" fill="#5a7399"/><circle cx="514" cy="337.5" r="2" fill="#4a6689"/><circle cx="442.5" cy="336" r="2.5" fill="#597090"/><circle cx="443" cy="245.5" r="2" fill="#957281"/><circle cx="513.5" cy="254.5" r="2.5" fill="#64718a"/><circle cx="463.5" cy="327.5" r="2.5" fill="#5b6b95"/><circle cx="457.5" cy="284.5" r="2" fill="#6a6f93"/><circle cx="471" cy="336" r="2" fill="#707f9b"/><circle cx="479.5" cy="330" r="2" fill="#4f668b"/><circle cx="410.5" cy="309.5" r="2" fill="#90797d"/><circle cx="487.5" cy="261.5" r="2" fill="#626986"/><circle cx="461" cy="257" r="2" fill="#5c668a"/><circle cx="484.5" cy="327" r="2.5" fill="#5d718c"/><circle cx="440.5" cy="262.5" r="2" fill="#546e93"/><circle cx="489.5" cy="342.5" r="2" fill="#4e668e"/><circle cx="489.5" cy="292.5" r="2" fill="#566b8e"/><circle cx="409.5" cy="309" r="2" fill="#9c8182"/><circle cx="454" cy="331" r="2" fill="#6a7895"/><circle cx="469.5" cy="322" r="2.5" fill="#466590"/><circle cx="511.5" cy="273" r="2.5" fill="#747c96"/><circle cx="395.5" cy="338.5" r="2.5" fill="#697591"/><circle cx="455" cy="287" r="2" fill="#46648b"/><circle cx="399" cy="302.5" r="2.5" fill="#627597"/><circle cx="503" cy="255.5" r="2" fill="#3f5e85"/><circle cx="453" cy="245.5" r="2" fill="#987e84"/><circle cx="522" cy="348" r="2" fill="#646f91"/><circle cx="486.5" cy="329" r="2.5" fill="#9a7682"/><circle cx="465.5" cy="339" r="2" fill="#577297"/><circle cx="491.5" cy="314.5" r="2.5" fill="#af7d7e"/><circle cx="476.5" cy="245.5" r="2" fill="#897272"/><circle cx="488" cy="319.5" r="2" fill="#62718a"/><circle cx="442" cy="265" r="2" fill="#8f757c"/><circle cx="431" cy="312" r="2.5" fill="#506f8e"/><circle cx="520.5" cy="296.5" r="2" fill="#4e6585"/><circle cx="478.5" cy="334" r="2" fill="#6b6e91"/><circle cx="450" cy="284" r="2" fill="#677287"/><circle cx="523" cy="303" r="2" fill="#566f8f"/><circle cx="437.5" cy="315" r="2.5" fill="#5e6689"/><circle cx="461.5" cy="253.5" r="2" fill="#727c9c"/><circle cx="410" cy="292.5" r="2.5" fill="#876f76"/><circle cx="464" cy="264.5" r="2" fill="#667295"/><circle cx="445.5" cy="308" r="2" fill="#b18b84"/><circle cx="490" cy="276" r="2" fill="#597691"/><circle cx="509" cy="271.5" r="2" fill="#8b6d76"/><circle cx="397.5" cy="249.5" r="2" fill="#5b6b88"/><circle cx="461.5" cy="338.5" r="2" fill="#ba8e87"/><circle cx="478.5" cy="337.5" r="2" fill="#506990"/><circle cx="497.5" cy="259.5" r="2.5" fill="#6d7892"/><circle cx="458" cy="252.5" r="2.5" fill="#495e89"/><circle cx="430.5" cy="263.5" r="2.5" fill="#536388"/><circle cx="398.5" cy="268.5" r="2" fill="#52658f"/><circle cx="438" cy="290.5" r="2" fill="#59789a"/><circle cx="457.5" cy="279.5" r="2" fill="#987979"/><circle cx="474.5" cy="265.5" r="2" fill="#546692"/><circle cx="419" cy="257" r="2" fill="#8d7176"/><circle cx="425" cy="281.5" r="2" fill="#3f5b88"/><circle cx="468.5" cy="314" r="2" fill="#ab7e78"/><circle cx="471.5" cy="307.5" r="2" fill="#6a7894"/><circle cx="411.5" cy="313.5" r="2.5" fill="#405686"/><circle cx="511" cy="283" r="2.5" fill="#546d96"/><circle cx="458.5" cy="272" r="2" fill="#947a7e"/><circle cx="512.5" cy="284.5" r="2.5" fill="#5d7292"/><circle cx="442.5" cy="341.5" r="2" fill="#506d8a"/><circle cx="449" cy="308.5" r="2" fill="#8c6d73"/><circle cx="435.5" cy="307" r="2.5" fill="#8f747c"/><circle cx="455.5" cy="256" r="2.5" fill="#43658e"/><circle cx="510" cy="262" r="2" fill="#4f6888"/><circle cx="397" cy="338" r="2" fill="#4c648d"/><circle cx="472.5" cy="296.5" r="2" fill="#536887"/><circle cx="478.5" cy="313.5" r="2" fill="#5d668c"/><circle cx="456.5" cy="253" r="2.5" fill="#547193"/><circle cx="440" cy="313.5" r="2" fill="#5e749a"/><circle cx="502" cy="310.5" r="2.5" fill="#446390"/><circle cx="519" cy="331.5" r="2" fill="#55668c"/><circle cx="475.5" cy="289" r="2.5" fill="#75779b"/><circle cx="419" cy="335.5" r="2" fill="#606a89"/><circle cx="440.5" cy="247.5" r="2.5" fill="#55678a"/><circle cx="499" cy="245.5" r="2" fill="#5a7295"/><circle cx="479" cy="304.5" r="2" fill="#a57678"/><circle cx="458.5" cy="343.5" r="2" fill="#93737a"/><circle cx="455" cy="267.5" r="2.5" fill="#56688d"/><circle cx="443" cy="324.5" r="2" fill="#a6847b"/><circle cx="477.5" cy="275" r="2" fill="#6b7697"/><circle cx="420.5" cy="331" r="2" fill="#506784"/><circle cx="422" cy="349.5" r="2" fill="#3d5981"/><circle cx="482" cy="312" r="2.5" fill="#60769c"/><circle cx="406.5" cy="316" r="2" fill="#546d8e"/><circle cx="521.5" cy="255.5" r="2.5" fill="#b48a81"/><circle cx="469" cy="295.5" r="2" fill="#5c7292"/><circle cx="452" cy="325.5" r="2" fill="#5e7194"/><circle cx="494.5" cy="246.5" r="2" fill="#5a7995"/><circle cx="433.5" cy="308.5" r="2.5" fill="#5f6b91"/><circle cx="399.5" cy="256" r="2" fill="#446490"/><circle cx="460.5" cy="268" r="2" fill="#50688a"/><circle cx="422.5" cy="288.5" r="2" fill="#727b99"/><circle cx="450.5" cy="337.5" r="2" fill="#5f7497"/><circle cx="422" cy="319.5" r="2" fill="#5a6b93"/><circle cx="431" cy="277.5" r="2.5" fill="#536a92"/><circle cx="447" cy="249.5" r="2" fill="#697592"/><circle cx="452.5" cy="265.5" r="2" fill="#8c7075"/><circle cx="425.5" cy="290.5" r="2" fill="#596f95"/><circle cx="492" cy="314" r="2" fill="#8a6675"/><circle cx="435.5" cy="322.5" r="2" fill="#52698a"/><circle cx="448.5" cy="284" r="2.5" fill="#476688"/><circle cx="447.5" cy="275" r="2" fill="#70819e"/><circle cx="416" cy="348" r="2" fill="#ab7e76"/><circle cx="473.5" cy="298" r="2" fill="#42638a"/><circle cx="401" cy="286" r="2.5" fill="#686f8e"/><circle cx="513" cy="273" r="2.5" fill="#9d7982"/><circle cx="495" cy="258.5" r="2.5" fill="#6e7a97"/><circle cx="476.5" cy="254" r="2" fill="#587793"/><circle cx="477" cy="309" r="2.5" fill="#516588"/><circle cx="523.5" cy="305.5" r="2.5" fill="#64698d"/><circle cx="404" cy="350" r="2.5" fill="#476187"/><circle cx="399" cy="283" r="2.5" fill="#876e73"/><circle cx="436.5" cy="265.5" r="2" fill="#907c7d"/><circle cx="504.5" cy="324.5" r="2" fill="#62749a"/><circle cx="480" cy="335.5" r="2.5" fill="#526787"/><circle cx="417" cy="258.5" r="2" fill="#6a728f"/><circle cx="498" cy="292.5" r="2.5" fill="#506a8e"/><circle cx="448.5" cy="300" r="2.5" fill="#987885"/><circle cx="478" cy="284.5" r="2" fill="#4a6a8d"/><circle cx="467" cy="308.5" r="2.5" fill="#3e5482"/><circle cx="427" cy="336.5" r="2" fill="#6d7a94"/><circle cx="407" cy="343.5" r="2" fill="#657092"/><circle cx="438.5" cy="310.5" r="2" fill="#556e92"/><circle cx="483.5" cy="256.5" r="2" fill="#8e6b72"/><circle cx="405" cy="340" r="2" fill="#4f6686"/><circle cx="423" cy="316.5" r="2.5" fill="#5c7898"/><circle cx="397" cy="312" r="2" fill="#3e5a87"/><circle cx="504" cy="248.5" r="2.5" fill="#73819a"/><circle cx="396.5" cy="338.5" r="2.5" fill="#67768f"/><circle cx="493.5" cy="309.5" r="2" fill="#596b90"/><circle cx="444" cy="344.5" r="2.5" fill="#3d5a85"/><circle cx="426.5" cy="338.5" r="2" fill="#566b8e"/><circle cx="476.5" cy="326.5" r="2.5" fill="#927c7c"/><circle cx="448" cy="324" r="2.5" fill="#63728a"/></g>
<circle cx="419.6" cy="266.3" r="4.5" fill="#1a3a70" fill-opacity="0.95" stroke="#f0e6ea" stroke-opacity="0.4"/>
<circle cx="468" cy="283" r="5" fill="#b06870" fill-opacity="0.7" stroke="#f0e6ea" stroke-opacity="0.4"/>
</g>
<path d="M454 252.5H516.5" stroke="#6a4a5a" stroke-opacity="0.16" stroke-width="1"/>
</g>
<text transform="translate(264.4 404.3) rotate(-90) scale(0.68 1)" font-size="12" font-weight="bold" text-anchor="middle" >L591</text>
<clipPath id="c30"><rect x="272" y="355" width="119.5" height="98"/></clipPath>
<g clip-path="url(#c30)"><rect x="272" y="355" width="119.5" height="98" fill="#d0a8b4"/><g filter="url(#bl)">
<g fill-opacity="0.88" stroke="#e8c8cc" stroke-opacity="0.55" stroke-width="1.2">
<circle cx="372.5" cy="432" r="4.5" fill="#a04041"/>
<circle cx="389" cy="457.5" r="4" fill="#ad413b"/>
<circle cx="361.5" cy="406" r="5" fill="#a94439"/>
<circle cx="297.5" cy="455.5" r="4.5" fill="#646ca1"/>
<circle cx="360.5" cy="457" r="4" fill="#5a5d9a"/>
<circle cx="329.5" cy="458.5" r="4.5" fill="#a34642"/>
<circle cx="380.5" cy="449" r="4.5" fill="#806e9f"/>
<circle cx="328.5" cy="366" r="4" fill="#934540"/>
<circle cx="376" cy="417.5" r="4.5" fill="#748abc"/>
<circle cx="308.5" cy="452" r="4" fill="#943c41"/>
<circle cx="393" cy="385.5" r="4.5" fill="#50599c"/>
<circle cx="276.5" cy="367" r="4.5" fill="#9e474e"/>
<circle cx="267" cy="429.5" r="5" fill="#a0494e"/>
<circle cx="393.5" cy="398" r="4.5" fill="#ba4e4a"/>
<circle cx="332.5" cy="449" r="5" fill="#924142"/>
<circle cx="322.5" cy="450" r="4" fill="#575d9a"/>
<circle cx="392.5" cy="426" r="4.5" fill="#808fc9"/>
<circle cx="281" cy="419" r="4.5" fill="#c15d4c"/>
<circle cx="313" cy="459" r="4" fill="#7085b5"/>
<circle cx="311.5" cy="365.5" r="4.5" fill="#944244"/>
<circle cx="372" cy="443" r="4" fill="#707fb0"/>
<circle cx="279" cy="371.5" r="4.5" fill="#ce6348"/>
<circle cx="278.5" cy="358" r="5" fill="#983c3c"/>
<circle cx="308" cy="376" r="4.5" fill="#b65447"/>
<circle cx="272" cy="425.5" r="4.5" fill="#86719e"/>
<circle cx="332" cy="397.5" r="4" fill="#8f79a0"/>
<circle cx="283" cy="377.5" r="5" fill="#b74641"/>
<circle cx="366" cy="389.5" r="4.5" fill="#806d9b"/>
<circle cx="301" cy="358" r="5" fill="#6071a5"/>
<circle cx="331.5" cy="382.5" r="5" fill="#d76750"/>
<circle cx="293" cy="402.5" r="4" fill="#8a79a5"/>
<circle cx="381" cy="390.5" r="5" fill="#c15245"/>
<circle cx="289" cy="375.5" r="4" fill="#cf6d42"/>
<circle cx="345.5" cy="416" r="4" fill="#953b40"/>
<circle cx="267.5" cy="375.5" r="4.5" fill="#bf5446"/>
<circle cx="347.5" cy="412.5" r="4.5" fill="#ae4332"/>
<circle cx="347" cy="451.5" r="4.5" fill="#bc5849"/>
<circle cx="358.5" cy="414.5" r="4" fill="#d67154"/>
<circle cx="390" cy="349" r="4" fill="#964847"/>
<circle cx="351.5" cy="392.5" r="4" fill="#7d91bd"/>
<circle cx="361.5" cy="442" r="4" fill="#a85251"/>
<circle cx="357" cy="358" r="5" fill="#cc6a3f"/>
<circle cx="330.5" cy="412" r="4" fill="#b54d3d"/>
<circle cx="270.5" cy="384" r="4" fill="#8f79ad"/>
<circle cx="281.5" cy="458" r="5" fill="#a64b4a"/>
<circle cx="395" cy="439" r="4" fill="#b44332"/>
<circle cx="352" cy="415.5" r="4.5" fill="#5a6ba4"/>
<circle cx="268" cy="443" r="5" fill="#846f9f"/>
<circle cx="386.5" cy="369" r="4" fill="#8193c1"/>
<circle cx="312" cy="403.5" r="4.5" fill="#b34439"/>
<circle cx="357" cy="409" r="4.5" fill="#8e769e"/>
<circle cx="314" cy="441" r="4.5" fill="#58699c"/>
<circle cx="396" cy="445.5" r="4" fill="#b44d33"/>
<circle cx="279" cy="423.5" r="4" fill="#a0414a"/>
<circle cx="384" cy="431" r="4.5" fill="#b65546"/>
<circle cx="373.5" cy="376" r="4.5" fill="#9c4a41"/>
<circle cx="344.5" cy="393" r="4" fill="#b74839"/>
<circle cx="393.5" cy="358.5" r="4" fill="#a44c4b"/>
<circle cx="399" cy="378.5" r="5" fill="#5c69a9"/>
<circle cx="357.5" cy="349.5" r="5" fill="#ae493d"/>
<circle cx="365" cy="357" r="4.5" fill="#c65e46"/>
<circle cx="325.5" cy="437.5" r="4" fill="#7f709e"/>
<circle cx="397.5" cy="403" r="4.5" fill="#b74e42"/>
<circle cx="353.5" cy="350" r="4.5" fill="#d3694c"/>
<circle cx="382" cy="455.5" r="4.5" fill="#5f67a9"/>
<circle cx="345.5" cy="454" r="5" fill="#656ea8"/>
<circle cx="344.5" cy="366.5" r="4.5" fill="#7f8abc"/>
<circle cx="350.5" cy="377" r="4.5" fill="#84709b"/>
<circle cx="332.5" cy="359" r="4.5" fill="#c45542"/>
<circle cx="383" cy="350.5" r="4.5" fill="#626bad"/>
<circle cx="372" cy="435.5" r="4.5" fill="#c25449"/>
<circle cx="334.5" cy="364" r="4.5" fill="#545d9f"/>
<circle cx="371" cy="398.5" r="4.5" fill="#be5243"/>
<circle cx="266" cy="365.5" r="5" fill="#d0664d"/>
<circle cx="324" cy="382.5" r="5" fill="#9c3f47"/>
<circle cx="371" cy="411.5" r="4.5" fill="#b24641"/>
<circle cx="338.5" cy="449" r="4.5" fill="#a54a50"/>
<circle cx="351" cy="429.5" r="4" fill="#858dc6"/>
<circle cx="295" cy="371.5" r="5" fill="#4f5a97"/>
<circle cx="365" cy="448" r="4.5" fill="#c5544e"/>
<circle cx="358.5" cy="364" r="5" fill="#7c92c1"/>
<circle cx="366.5" cy="366.5" r="4.5" fill="#8872a1"/>
<circle cx="297" cy="442" r="4" fill="#a04c42"/>
<circle cx="296.5" cy="351" r="4.5" fill="#d86c4b"/>
<circle cx="330" cy="444.5" r="4" fill="#5869a5"/>
<circle cx="376" cy="373" r="4.5" fill="#8a799f"/>
<circle cx="367" cy="379" r="4.5" fill="#a75051"/>
<circle cx="376.5" cy="435.5" r="4" fill="#9f4a44"/>
<circle cx="319" cy="356.5" r="4.5" fill="#cb6a44"/>
<circle cx="319.5" cy="363" r="4.5" fill="#9c4547"/>
<circle cx="366" cy="454" r="4.5" fill="#ad4540"/>
<circle cx="315.5" cy="421.5" r="5" fill="#5e69a4"/>
<circle cx="384.5" cy="405.5" r="4.5" fill="#4d559a"/>
<circle cx="312" cy="386.5" r="4.5" fill="#ab504d"/>
<circle cx="304.5" cy="362.5" r="4.5" fill="#5f6fa5"/>
<circle cx="293.5" cy="385" r="5" fill="#933d42"/>
<circle cx="384" cy="445.5" r="4.5" fill="#983b3a"/>
<circle cx="319.5" cy="402.5" r="4" fill="#856694"/>
<circle cx="339" cy="408.5" r="4" fill="#4d609b"/>
<circle cx="369" cy="423.5" r="4.5" fill="#be5148"/>
<circle cx="285" cy="383" r="4" fill="#bf4d41"/>
<circle cx="296" cy="429" r="4" fill="#7286b9"/>
<circle cx="272.5" cy="399.5" r="5" fill="#a54a4a"/>
<circle cx="300.5" cy="392" r="5" fill="#7784bf"/>
<circle cx="349.5" cy="438" r="5" fill="#a84f4c"/>
<circle cx="289" cy="351" r="4.5" fill="#616aa0"/>
<circle cx="377" cy="426" r="4.5" fill="#7c95c5"/>
<circle cx="313.5" cy="353" r="4.5" fill="#c4594d"/>
<circle cx="389.5" cy="442" r="5" fill="#c35147"/>
<circle cx="305" cy="415" r="4" fill="#6166ab"/>
<circle cx="395.5" cy="430.5" r="4" fill="#686ea9"/>
<circle cx="270.5" cy="409.5" r="4" fill="#57609d"/>
<circle cx="353" cy="456.5" r="4.5" fill="#bf4d44"/>
<circle cx="269.5" cy="370.5" r="4" fill="#937eaa"/>
<circle cx="319" cy="413" r="4.5" fill="#9480a7"/>
<circle cx="317.5" cy="447.5" r="4" fill="#be4f47"/>
<circle cx="311.5" cy="428" r="4" fill="#53679b"/>
<circle cx="275.5" cy="444.5" r="4.5" fill="#9b4c4d"/>
<circle cx="388" cy="403.5" r="4.5" fill="#9878b1"/>
<circle cx="280.5" cy="408" r="4.5" fill="#7b6c9f"/>
<circle cx="326.5" cy="397.5" r="4.5" fill="#b1453c"/>
<circle cx="366" cy="353" r="4.5" fill="#ba4e4a"/>
<circle cx="285" cy="363.5" r="5" fill="#b25243"/>
<circle cx="327" cy="388.5" r="5" fill="#9f4846"/>
<circle cx="341" cy="386" r="4.5" fill="#be5645"/>
<circle cx="387.5" cy="360" r="4" fill="#a03f49"/>
<circle cx="319.5" cy="415.5" r="4" fill="#983f41"/>
<circle cx="333.5" cy="437.5" r="5" fill="#7e6f95"/>
<circle cx="350" cy="424.5" r="4" fill="#826694"/>
<circle cx="376.5" cy="408" r="4" fill="#a7534e"/>
<circle cx="340.5" cy="434.5" r="4" fill="#af4433"/>
<circle cx="388.5" cy="364.5" r="5" fill="#c46640"/>
<circle cx="299" cy="406" r="4" fill="#7888b4"/>
<circle cx="398" cy="363" r="5" fill="#b44534"/>
<circle cx="395" cy="349.5" r="4.5" fill="#9c4b4c"/>
<circle cx="316" cy="397" r="4.5" fill="#5a5ca2"/>
<circle cx="298" cy="376.5" r="4.5" fill="#a1434e"/>
<circle cx="276.5" cy="349" r="4" fill="#687fa9"/>
<circle cx="380.5" cy="363" r="4.5" fill="#555d91"/>
<circle cx="373" cy="385.5" r="4" fill="#b14d42"/>
<circle cx="304.5" cy="384" r="4" fill="#8192c7"/>
<circle cx="352.5" cy="402" r="5" fill="#984148"/>
<circle cx="391.5" cy="379" r="5" fill="#7b91c6"/>
<circle cx="290" cy="458.5" r="4" fill="#a24c46"/>
<circle cx="295" cy="395" r="4" fill="#967cae"/>
<circle cx="327" cy="404.5" r="5" fill="#b95441"/>
<circle cx="320" cy="383.5" r="4" fill="#d46644"/>
<circle cx="376.5" cy="454.5" r="5" fill="#ca653e"/>
<circle cx="312" cy="372.5" r="4.5" fill="#ad483e"/>
<circle cx="360.5" cy="369" r="4" fill="#5a649f"/>
<circle cx="287" cy="357" r="4.5" fill="#9c484e"/>
<circle cx="270.5" cy="450.5" r="4" fill="#886b9a"/>
<circle cx="302" cy="395.5" r="4.5" fill="#b54e39"/>
<circle cx="273.5" cy="419" r="4" fill="#9f4649"/>
<circle cx="308" cy="436" r="4.5" fill="#636aa9"/>
<circle cx="373" cy="351.5" r="5" fill="#bb5a4a"/>
<circle cx="329" cy="375" r="4.5" fill="#8290c0"/>
<circle cx="270.5" cy="390" r="4.5" fill="#cb6b49"/>
<circle cx="319.5" cy="350" r="4" fill="#bb4b47"/>
<circle cx="304" cy="429.5" r="5" fill="#bb4639"/>
<circle cx="268" cy="404" r="5" fill="#dc7656"/>
<circle cx="324.5" cy="370.5" r="4.5" fill="#8f73a7"/>
<circle cx="392" cy="415" r="5" fill="#8975aa"/>
<circle cx="391" cy="431.5" r="4" fill="#af544f"/>
<circle cx="338" cy="369" r="4.5" fill="#8893c0"/>
<circle cx="346" cy="378.5" r="4" fill="#bc4f49"/>
<circle cx="396" cy="450.5" r="5" fill="#9f4a51"/>
<circle cx="307.5" cy="442.5" r="4.5" fill="#cc6548"/>
<circle cx="380.5" cy="417" r="4" fill="#4c5797"/>
<circle cx="380.5" cy="397" r="4.5" fill="#6881ab"/>
<circle cx="283.5" cy="350.5" r="4.5" fill="#ae4d3b"/>
<circle cx="303.5" cy="424.5" r="4" fill="#9175a7"/>
<circle cx="365.5" cy="406" r="5" fill="#ad4f53"/>
<circle cx="283.5" cy="430" r="4.5" fill="#83709a"/>
<circle cx="369" cy="370.5" r="5" fill="#ae423e"/>
<circle cx="356.5" cy="385.5" r="4.5" fill="#98414a"/>
<circle cx="377" cy="362.5" r="4" fill="#af4131"/>
<circle cx="338" cy="406" r="4" fill="#bc554c"/>
<circle cx="354.5" cy="396" r="4" fill="#a4534a"/>
<circle cx="311.5" cy="380" r="4.5" fill="#b24f3c"/>
<circle cx="362" cy="428.5" r="4.5" fill="#9b3e46"/>
<circle cx="327.5" cy="356" r="4" fill="#7786b3"/>
<circle cx="345.5" cy="358.5" r="5" fill="#9f4d4a"/>
<circle cx="291" cy="416" r="4" fill="#b24236"/>
<circle cx="316" cy="391.5" r="5" fill="#8e7aa7"/>
<circle cx="303" cy="410.5" r="4.5" fill="#5c6da3"/>
<circle cx="338" cy="431" r="5" fill="#5a64a1"/>
<circle cx="369.5" cy="445.5" r="4" fill="#9f4f4c"/>
<circle cx="287.5" cy="410" r="4" fill="#a34650"/>
<circle cx="289.5" cy="448" r="4" fill="#c25145"/>
<circle cx="321.5" cy="376" r="5" fill="#525999"/>
<circle cx="326.5" cy="415.5" r="4" fill="#c25e4d"/>
<circle cx="354.5" cy="422.5" r="5" fill="#54659e"/>
<circle cx="337" cy="350.5" r="4.5" fill="#c15045"/>
<circle cx="308" cy="402" r="4.5" fill="#c56241"/>
<circle cx="319.5" cy="372.5" r="4.5" fill="#515e99"/>
<circle cx="301" cy="434.5" r="4.5" fill="#bd5847"/>
<circle cx="315.5" cy="438.5" r="4.5" fill="#7281b0"/>
<circle cx="304.5" cy="451" r="5" fill="#b14536"/>
<circle cx="309.5" cy="423" r="4.5" fill="#b34838"/>
<circle cx="275.5" cy="406" r="4.5" fill="#c35441"/>
<circle cx="296.5" cy="359" r="4.5" fill="#c45a4f"/>
<circle cx="361" cy="389" r="4" fill="#c35243"/>
<circle cx="272" cy="438.5" r="4" fill="#656aa4"/>
<circle cx="364" cy="434.5" r="4.5" fill="#a04d46"/>
<circle cx="299" cy="419" r="5" fill="#696eaa"/>
<circle cx="323.5" cy="458" r="4" fill="#516293"/>
<circle cx="289.5" cy="430" r="4.5" fill="#c45a47"/>
<circle cx="391.5" cy="412.5" r="4.5" fill="#a14a4b"/>
<circle cx="346" cy="397.5" r="4.5" fill="#943f40"/>
<circle cx="339" cy="457" r="5" fill="#8995c7"/>
<circle cx="296" cy="364" r="4" fill="#db7750"/>
<circle cx="303.5" cy="368.5" r="4" fill="#54659d"/>
<circle cx="338.5" cy="357.5" r="4.5" fill="#93433f"/>
<circle cx="323" cy="425" r="4" fill="#ca653f"/>
<circle cx="387" cy="435.5" r="4.5" fill="#b14b42"/>
<circle cx="355.5" cy="437" r="4" fill="#8b7da8"/>
<circle cx="373.5" cy="391" r="5" fill="#b95145"/>
<circle cx="267.5" cy="456" r="4" fill="#5d64a3"/>
<circle cx="319" cy="442" r="4" fill="#5962a0"/>
<circle cx="278" cy="450" r="5" fill="#505496"/>
<circle cx="361" cy="385" r="4" fill="#8b75a8"/>
<circle cx="273" cy="357.5" r="4.5" fill="#a84631"/>
<circle cx="267.5" cy="349.5" r="4.5" fill="#c1594d"/>
<circle cx="287" cy="397.5" r="4" fill="#984443"/>
<circle cx="342.5" cy="405" r="4.5" fill="#9b4c46"/>
<circle cx="388" cy="392.5" r="4.5" fill="#b04f3d"/>
<circle cx="362" cy="423.5" r="4.5" fill="#cc6146"/>
<circle cx="288" cy="426" r="5" fill="#b24335"/>
<circle cx="314" cy="415.5" r="4.5" fill="#9081b3"/>
<circle cx="289" cy="389" r="5" fill="#5c65a7"/>
<circle cx="329.5" cy="353.5" r="5" fill="#58629b"/>
<circle cx="379" cy="357.5" r="4.5" fill="#b2503c"/>
<circle cx="304" cy="349" r="4.5" fill="#b14234"/>
<circle cx="368" cy="431" r="4" fill="#9e4449"/>
<circle cx="388.5" cy="424" r="4" fill="#c04e45"/>
<circle cx="291.5" cy="441" r="4.5" fill="#82699b"/>
<circle cx="336.5" cy="380" r="4.5" fill="#bf523f"/>
<circle cx="304.5" cy="392.5" r="5" fill="#545e94"/>
<circle cx="339" cy="391.5" r="5" fill="#616cad"/>
<circle cx="323" cy="409.5" r="4.5" fill="#b04d3c"/>
<circle cx="379.5" cy="384" r="4.5" fill="#c35e45"/>
<circle cx="385.5" cy="449.5" r="4" fill="#b3413b"/>
<circle cx="346.5" cy="369.5" r="4.5" fill="#5a69a0"/>
<circle cx="281" cy="438.5" r="4.5" fill="#59659b"/>
<circle cx="392.5" cy="370" r="4" fill="#b9513e"/>
<circle cx="310" cy="359.5" r="4" fill="#4a5691"/>
<circle cx="289.5" cy="372" r="5" fill="#944245"/>
<circle cx="320.5" cy="429" r="4" fill="#8c72a8"/>
<circle cx="345.5" cy="432" r="4" fill="#51589a"/>
<circle cx="338.5" cy="425.5" r="5" fill="#8a74a4"/>
<circle cx="292.5" cy="409.5" r="4.5" fill="#5b5c9c"/>
<circle cx="364.5" cy="397.5" r="4" fill="#5f6aa8"/>
<circle cx="307.5" cy="399" r="4" fill="#5c67a7"/>
<circle cx="353" cy="451" r="5" fill="#7586ae"/>
<circle cx="355" cy="368.5" r="4" fill="#846798"/>
<circle cx="335.5" cy="416" r="5" fill="#6968a6"/>
<circle cx="284.5" cy="405.5" r="4.5" fill="#b54d3b"/>
<circle cx="344.5" cy="443" r="5" fill="#b34d3c"/>
<circle cx="372" cy="358.5" r="4.5" fill="#b4503b"/>
<circle cx="387" cy="410" r="4.5" fill="#ad4133"/>
<circle cx="386.5" cy="397.5" r="4.5" fill="#be5345"/>
<circle cx="399" cy="416.5" r="4.5" fill="#9b4942"/>
<circle cx="284.5" cy="389" r="5" fill="#c04e44"/>
<circle cx="296.5" cy="450" r="4" fill="#8489c1"/>
<circle cx="294" cy="425.5" r="4" fill="#816c98"/>
<circle cx="273.5" cy="429.5" r="4.5" fill="#5a609d"/>
<circle cx="346.5" cy="349" r="4.5" fill="#cb6146"/>
<circle cx="384.5" cy="385.5" r="4.5" fill="#b54638"/>
<circle cx="340.5" cy="398.5" r="4" fill="#798bbc"/>
<circle cx="365.5" cy="414.5" r="4" fill="#ac4b4c"/>
<circle cx="400" cy="455.5" r="5" fill="#ca684d"/>
<circle cx="308" cy="413" r="5" fill="#545a98"/>
<circle cx="373" cy="451" r="4.5" fill="#b24235"/>
<circle cx="269" cy="418.5" r="4" fill="#9e3d43"/>
<circle cx="279" cy="381.5" r="4" fill="#a84d4a"/>
<circle cx="353.5" cy="366" r="4" fill="#a74a4a"/>
<circle cx="279" cy="399.5" r="5" fill="#595f98"/>
<circle cx="349.5" cy="384" r="4.5" fill="#d56d42"/>
<circle cx="277.5" cy="380" r="5" fill="#a44747"/>
<circle cx="329.5" cy="430.5" r="4.5" fill="#973e40"/>
<circle cx="287.5" cy="438.5" r="4" fill="#b23f31"/>
<circle cx="361.5" cy="412.5" r="4.5" fill="#bf523f"/>
<circle cx="295.5" cy="437.5" r="5" fill="#7d8fc1"/>
<circle cx="320.5" cy="391" r="4" fill="#9e4342"/>
<circle cx="274.5" cy="454" r="5" fill="#7e8dbb"/>
<circle cx="337.5" cy="442.5" r="4.5" fill="#5a5da2"/>
<circle cx="351.5" cy="441.5" r="4.5" fill="#9f474d"/>
<circle cx="275.5" cy="393" r="4.5" fill="#aa574d"/>
<circle cx="290.5" cy="365" r="5" fill="#b65543"/>
<circle cx="357.5" cy="379" r="4.5" fill="#5c65a8"/>
<circle cx="384" cy="380" r="4" fill="#c45449"/>
<circle cx="331" cy="371.5" r="4" fill="#b75742"/>
<circle cx="331.5" cy="422" r="4.5" fill="#c05c46"/>
<circle cx="306.5" cy="455" r="5" fill="#933e39"/>
<circle cx="284.5" cy="444" r="4.5" fill="#a05048"/>
<circle cx="374" cy="404" r="5" fill="#8873a8"/>
<circle cx="396.5" cy="390.5" r="4.5" fill="#7b85b6"/>
</g>
<g fill-opacity="0.88"><circle cx="361" cy="406" r="2.5" fill="#87362e"/><circle cx="360" cy="458" r="2" fill="#484a7b"/><circle cx="376" cy="417.5" r="2" fill="#5d6e96"/><circle cx="308" cy="451" r="2" fill="#763034"/><circle cx="392" cy="385" r="2" fill="#40477d"/><circle cx="276" cy="366.5" r="2" fill="#7e393e"/><circle cx="394.5" cy="398" r="2" fill="#953e3b"/><circle cx="323.5" cy="449" r="2" fill="#464a7b"/><circle cx="312.5" cy="458.5" r="2" fill="#5a6a91"/><circle cx="311.5" cy="366" r="2" fill="#763536"/><circle cx="372" cy="443.5" r="2" fill="#5a668d"/><circle cx="278.5" cy="372" r="2" fill="#a54f3a"/><circle cx="278" cy="358" r="2.5" fill="#7a3030"/><circle cx="307" cy="376" r="2" fill="#924339"/><circle cx="284" cy="376.5" r="2.5" fill="#923834"/><circle cx="365" cy="389" r="2" fill="#66577c"/><circle cx="301.5" cy="358" r="2.5" fill="#4d5a84"/><circle cx="331" cy="383" r="2.5" fill="#ac5240"/><circle cx="293.5" cy="401.5" r="2" fill="#6e6184"/><circle cx="380" cy="389.5" r="2.5" fill="#9a4237"/><circle cx="289" cy="374.5" r="2" fill="#a65735"/><circle cx="345" cy="416" r="2" fill="#772f33"/><circle cx="268.5" cy="376" r="2" fill="#994338"/><circle cx="347.5" cy="413.5" r="2" fill="#8b3628"/><circle cx="346" cy="452" r="2.5" fill="#96463a"/><circle cx="359" cy="415" r="2" fill="#ab5a43"/><circle cx="350.5" cy="392" r="2" fill="#647497"/><circle cx="361.5" cy="441.5" r="2" fill="#864241"/><circle cx="331.5" cy="411.5" r="2" fill="#913e31"/><circle cx="271.5" cy="384.5" r="2" fill="#72618a"/><circle cx="280.5" cy="459" r="2.5" fill="#853c3b"/><circle cx="394" cy="439.5" r="2" fill="#903628"/><circle cx="267.5" cy="442" r="2.5" fill="#6a597f"/><circle cx="386" cy="368.5" r="2" fill="#67769a"/><circle cx="312.5" cy="403.5" r="2.5" fill="#8f362e"/><circle cx="357" cy="410" r="2" fill="#725e7e"/><circle cx="396" cy="446" r="2" fill="#903e29"/><circle cx="278.5" cy="424" r="2" fill="#80343b"/><circle cx="393" cy="358" r="2" fill="#833d3c"/><circle cx="398" cy="378.5" r="2.5" fill="#4a5487"/><circle cx="357" cy="349" r="2.5" fill="#8b3a31"/><circle cx="397.5" cy="403.5" r="2" fill="#923e35"/><circle cx="354" cy="351" r="2.5" fill="#a9543d"/><circle cx="345.5" cy="453.5" r="2.5" fill="#515886"/><circle cx="344.5" cy="366" r="2" fill="#666e96"/><circle cx="351.5" cy="376" r="2.5" fill="#6a5a7c"/><circle cx="332.5" cy="359.5" r="2" fill="#9d4435"/><circle cx="383.5" cy="350.5" r="2" fill="#4e568a"/><circle cx="371" cy="435.5" r="2.5" fill="#9b433a"/><circle cx="266.5" cy="366" r="2.5" fill="#a6523e"/><circle cx="324.5" cy="382.5" r="2.5" fill="#7d3239"/><circle cx="370.5" cy="411" r="2" fill="#8e3834"/><circle cx="350.5" cy="428.5" r="2" fill="#6a719e"/><circle cx="365.5" cy="448.5" r="2" fill="#9e433e"/><circle cx="365.5" cy="366" r="2" fill="#6d5b81"/><circle cx="320" cy="364" r="2" fill="#7d3739"/><circle cx="366" cy="455" r="2" fill="#8a3733"/><circle cx="315" cy="422" r="2.5" fill="#4b5483"/><circle cx="312" cy="386" r="2.5" fill="#89403e"/><circle cx="305" cy="362.5" r="2" fill="#4c5984"/><circle cx="383" cy="446" r="2" fill="#7a2f2e"/><circle cx="370" cy="424" r="2.5" fill="#98413a"/><circle cx="296.5" cy="428.5" r="2" fill="#5b6b94"/><circle cx="349.5" cy="439" r="2.5" fill="#863f3d"/><circle cx="288.5" cy="351" r="2" fill="#4e5580"/><circle cx="312.5" cy="353" r="2.5" fill="#9d473e"/><circle cx="389.5" cy="441.5" r="2.5" fill="#9c4139"/><circle cx="395" cy="429.5" r="2" fill="#535887"/><circle cx="269.5" cy="410.5" r="2" fill="#464d7e"/><circle cx="353" cy="455.5" r="2" fill="#993e36"/><circle cx="318.5" cy="412" r="2" fill="#766686"/><circle cx="312" cy="428.5" r="2" fill="#42527c"/><circle cx="275" cy="444" r="2.5" fill="#7c3d3e"/><circle cx="280.5" cy="408" r="2.5" fill="#62567f"/><circle cx="326" cy="397" r="2.5" fill="#8e3730"/><circle cx="367" cy="353.5" r="2.5" fill="#953e3b"/><circle cx="285" cy="363" r="2.5" fill="#8e4236"/><circle cx="341.5" cy="386" r="2.5" fill="#984537"/><circle cx="388.5" cy="360.5" r="2" fill="#80323a"/><circle cx="350.5" cy="424.5" r="2" fill="#685276"/><circle cx="377" cy="408.5" r="2" fill="#86423e"/><circle cx="340.5" cy="434.5" r="2" fill="#8c3629"/><circle cx="299.5" cy="406" r="2" fill="#606d90"/><circle cx="398" cy="362" r="2.5" fill="#90372a"/><circle cx="297" cy="375.5" r="2" fill="#81363e"/><circle cx="277" cy="349" r="2" fill="#536687"/><circle cx="380.5" cy="363" r="2" fill="#444a74"/><circle cx="373" cy="386" r="2" fill="#8e3e35"/><circle cx="304.5" cy="384.5" r="2" fill="#67759f"/><circle cx="290" cy="457.5" r="2" fill="#823d38"/><circle cx="327.5" cy="405" r="2.5" fill="#944334"/><circle cx="319" cy="383.5" r="2" fill="#aa5236"/><circle cx="376" cy="454" r="2.5" fill="#a25132"/><circle cx="312" cy="372.5" r="2" fill="#8a3a32"/><circle cx="360" cy="368.5" r="2" fill="#48507f"/><circle cx="287" cy="357" r="2" fill="#7d3a3e"/><circle cx="303" cy="396" r="2" fill="#913e2e"/><circle cx="374" cy="352" r="2.5" fill="#96483b"/><circle cx="329.5" cy="374.5" r="2" fill="#68739a"/><circle cx="270.5" cy="389.5" r="2" fill="#a2563a"/><circle cx="320" cy="350.5" r="2" fill="#963c39"/><circle cx="304" cy="430.5" r="2.5" fill="#96382e"/><circle cx="267.5" cy="404" r="2.5" fill="#b05e45"/><circle cx="325" cy="370.5" r="2" fill="#725c86"/><circle cx="392" cy="415.5" r="2.5" fill="#6e5e88"/><circle cx="338" cy="369" r="2.5" fill="#6d769a"/><circle cx="345" cy="378.5" r="2" fill="#963f3a"/><circle cx="396.5" cy="450" r="2.5" fill="#7f3b41"/><circle cx="307" cy="441.5" r="2" fill="#a3513a"/><circle cx="283.5" cy="350.5" r="2" fill="#8b3e2f"/><circle cx="302.5" cy="425" r="2" fill="#745e86"/><circle cx="284" cy="430" r="2" fill="#695a7b"/><circle cx="369" cy="369.5" r="2.5" fill="#8b3532"/><circle cx="356" cy="385" r="2" fill="#7a343b"/><circle cx="362" cy="428.5" r="2.5" fill="#7c3238"/><circle cx="327" cy="355" r="2" fill="#5f6b8f"/><circle cx="345.5" cy="358" r="2.5" fill="#7f3e3b"/><circle cx="316.5" cy="391" r="2.5" fill="#726286"/><circle cx="302.5" cy="409.5" r="2" fill="#4a5782"/><circle cx="337.5" cy="430.5" r="2.5" fill="#485081"/><circle cx="290" cy="447.5" r="2" fill="#9b4137"/><circle cx="355.5" cy="421.5" r="2.5" fill="#43517e"/><circle cx="307.5" cy="401.5" r="2.5" fill="#9e4e34"/><circle cx="303.5" cy="451.5" r="2.5" fill="#8e372b"/><circle cx="308.5" cy="424" r="2" fill="#8f3a2d"/><circle cx="275.5" cy="405.5" r="2.5" fill="#9c4334"/><circle cx="296" cy="358.5" r="2" fill="#9d483f"/><circle cx="361.5" cy="390" r="2" fill="#9c4236"/><circle cx="364" cy="435" r="2" fill="#803e38"/><circle cx="298.5" cy="419.5" r="2.5" fill="#545888"/><circle cx="323" cy="457.5" r="2" fill="#414e76"/><circle cx="290" cy="430" r="2.5" fill="#9d4839"/><circle cx="391" cy="412.5" r="2" fill="#813b3c"/><circle cx="339" cy="457" r="2.5" fill="#6e779f"/><circle cx="297" cy="363" r="2" fill="#af5f40"/><circle cx="303" cy="369" r="2" fill="#43517e"/><circle cx="339.5" cy="357" r="2.5" fill="#763632"/><circle cx="322.5" cy="425" r="2" fill="#a25132"/><circle cx="387.5" cy="436" r="2.5" fill="#8e3c35"/><circle cx="356.5" cy="437" r="2" fill="#6f6486"/><circle cx="373.5" cy="390.5" r="2.5" fill="#944137"/><circle cx="268.5" cy="457" r="2" fill="#4a5082"/><circle cx="319" cy="442.5" r="2" fill="#474e80"/><circle cx="272.5" cy="358" r="2.5" fill="#863827"/><circle cx="286.5" cy="398" r="2" fill="#7a3636"/><circle cx="387.5" cy="392.5" r="2.5" fill="#8d3f31"/><circle cx="361" cy="423.5" r="2" fill="#a34e38"/><circle cx="287.5" cy="426" r="2.5" fill="#8e362a"/><circle cx="329.5" cy="353.5" r="2.5" fill="#464e7c"/><circle cx="378.5" cy="357" r="2" fill="#8e4030"/><circle cx="303.5" cy="348.5" r="2" fill="#8e352a"/><circle cx="369" cy="431" r="2" fill="#7e363a"/><circle cx="389" cy="423" r="2" fill="#9a3e37"/><circle cx="292" cy="440.5" r="2" fill="#68547c"/><circle cx="304" cy="392.5" r="2.5" fill="#434b76"/><circle cx="339" cy="392" r="2.5" fill="#4e568a"/><circle cx="323.5" cy="409" r="2" fill="#8d3e30"/><circle cx="380" cy="383.5" r="2" fill="#9c4b37"/><circle cx="385.5" cy="449.5" r="2" fill="#8f342f"/><circle cx="281" cy="439.5" r="2.5" fill="#47517c"/><circle cx="310" cy="359" r="2" fill="#3b4574"/><circle cx="288.5" cy="372.5" r="2.5" fill="#763537"/><circle cx="320" cy="429.5" r="2" fill="#705b86"/><circle cx="345.5" cy="432" r="2" fill="#41467b"/><circle cx="338" cy="424.5" r="2.5" fill="#6e5d83"/><circle cx="293" cy="410.5" r="2.5" fill="#494a7d"/><circle cx="308.5" cy="398.5" r="2" fill="#4a5286"/><circle cx="352.5" cy="452" r="2.5" fill="#5e6b8b"/><circle cx="354" cy="368.5" r="2" fill="#6a527a"/><circle cx="285.5" cy="405.5" r="2.5" fill="#913e2f"/><circle cx="343.5" cy="443.5" r="2.5" fill="#8f3e30"/><circle cx="372.5" cy="359" r="2" fill="#90402f"/><circle cx="387" cy="410" r="2.5" fill="#8a3429"/><circle cx="387.5" cy="398" r="2" fill="#984237"/><circle cx="399" cy="416" r="2.5" fill="#7c3a35"/><circle cx="284" cy="388.5" r="2.5" fill="#9a3e36"/><circle cx="296.5" cy="450" r="2" fill="#6a6e9a"/><circle cx="295" cy="424.5" r="2" fill="#67567a"/><circle cx="273.5" cy="429" r="2.5" fill="#484d7e"/><circle cx="347" cy="349" r="2.5" fill="#a24e38"/><circle cx="385" cy="385" r="2" fill="#91382d"/><circle cx="365" cy="414.5" r="2" fill="#8a3c3d"/><circle cx="399.5" cy="455.5" r="2.5" fill="#a2533e"/><circle cx="307.5" cy="412.5" r="2.5" fill="#43487a"/><circle cx="278.5" cy="382" r="2" fill="#863e3b"/><circle cx="354.5" cy="365.5" r="2" fill="#863b3b"/><circle cx="349.5" cy="384" r="2" fill="#aa5735"/><circle cx="278" cy="380.5" r="2.5" fill="#833939"/><circle cx="361.5" cy="412.5" r="2.5" fill="#994232"/><circle cx="296.5" cy="437.5" r="2.5" fill="#64729a"/><circle cx="320" cy="390.5" r="2" fill="#7e3635"/><circle cx="274.5" cy="454" r="2.5" fill="#657196"/><circle cx="336.5" cy="442" r="2" fill="#484a82"/><circle cx="352" cy="442" r="2" fill="#7f393e"/><circle cx="275.5" cy="392" r="2.5" fill="#88463e"/><circle cx="358.5" cy="378.5" r="2" fill="#4a5186"/><circle cx="384.5" cy="380.5" r="2" fill="#9d433a"/><circle cx="331" cy="371.5" r="2" fill="#924635"/><circle cx="305.5" cy="455" r="2.5" fill="#76322e"/><circle cx="375" cy="403" r="2.5" fill="#6d5c86"/><circle cx="397.5" cy="391" r="2" fill="#626a92"/></g>
<circle cx="300" cy="405" r="6" fill="#e07a40" fill-opacity="0.7" stroke="#e8c8cc" stroke-opacity="0.4"/>
<circle cx="345" cy="410" r="7" fill="#e07840" fill-opacity="0.7" stroke="#e8c8cc" stroke-opacity="0.4"/>
<circle cx="380" cy="405" r="6" fill="#e08448" fill-opacity="0.6" stroke="#e8c8cc" stroke-opacity="0.4"/>
<circle cx="283" cy="375" r="7" fill="#c85a38" fill-opacity="0.6" stroke="#e8c8cc" stroke-opacity="0.4"/>
<circle cx="357" cy="395" r="7" fill="#a84030" fill-opacity="0.6" stroke="#e8c8cc" stroke-opacity="0.4"/>
<circle cx="385" cy="385" r="6" fill="#a04838" fill-opacity="0.6" stroke="#e8c8cc" stroke-opacity="0.4"/>
<circle cx="378" cy="420" r="8" fill="#e8d0d0" fill-opacity="0.5" stroke="#e8c8cc" stroke-opacity="0.4"/>
</g>
<path d="M326 358.5H388.5" stroke="#6a4a5a" stroke-opacity="0.16" stroke-width="1"/>
<rect x="355" y="359" width="5" height="2" fill="#fff"/>
</g>
<clipPath id="c31"><rect x="400" y="355" width="119.5" height="98"/></clipPath>
<g clip-path="url(#c31)"><rect x="400" y="355" width="119.5" height="98" fill="#f2e6ea"/><g filter="url(#bl)">
<g fill-opacity="0.72" stroke="#b88070" stroke-opacity="0.4" stroke-width="0.9">
<circle cx="444.5" cy="372" r="3.5" fill="#e19471"/>
<circle cx="420.5" cy="426.5" r="2.5" fill="#c39f8f"/>
<circle cx="488.5" cy="417.5" r="3.5" fill="#b07d74"/>
<circle cx="404" cy="395.5" r="2.5" fill="#b58472"/>
<circle cx="462.5" cy="418" r="3.5" fill="#b08270"/>
<circle cx="395" cy="395" r="2.5" fill="#c4968b"/>
<circle cx="423" cy="380.5" r="3.5" fill="#a8766d"/>
<circle cx="453.5" cy="428.5" r="3" fill="#dd8970"/>
<circle cx="476.5" cy="422.5" r="3.5" fill="#a397a0"/>
<circle cx="513.5" cy="362.5" r="2.5" fill="#b88778"/>
<circle cx="501" cy="444.5" r="3" fill="#a27c71"/>
<circle cx="480.5" cy="413" r="3" fill="#e09b78"/>
<circle cx="395" cy="456.5" r="3.5" fill="#9e8e91"/>
<circle cx="492.5" cy="376.5" r="3" fill="#a7929c"/>
<circle cx="420.5" cy="370" r="3" fill="#a9999e"/>
<circle cx="492" cy="438" r="2.5" fill="#da8d6c"/>
<circle cx="499.5" cy="413.5" r="3" fill="#9e7c6d"/>
<circle cx="428.5" cy="395" r="3.5" fill="#c79b8e"/>
<circle cx="414.5" cy="403.5" r="3" fill="#a58e9b"/>
<circle cx="472" cy="380" r="3" fill="#cf9d92"/>
<circle cx="445.5" cy="394" r="3.5" fill="#d58d71"/>
<circle cx="420.5" cy="368" r="3.5" fill="#a67d6f"/>
<circle cx="470" cy="434.5" r="3" fill="#94838d"/>
<circle cx="411.5" cy="418.5" r="3.5" fill="#ac8574"/>
<circle cx="481" cy="348" r="3.5" fill="#b99289"/>
<circle cx="403" cy="358.5" r="3.5" fill="#b1847c"/>
<circle cx="492" cy="410" r="3" fill="#a99697"/>
<circle cx="479" cy="361" r="3.5" fill="#9d8a98"/>
<circle cx="457.5" cy="438" r="3.5" fill="#bb8e85"/>
<circle cx="486.5" cy="431" r="2.5" fill="#c29286"/>
<circle cx="516" cy="453" r="3" fill="#d4816b"/>
<circle cx="455" cy="369.5" r="2.5" fill="#a9776e"/>
<circle cx="394" cy="354" r="2.5" fill="#a57976"/>
<circle cx="399" cy="450" r="2.5" fill="#b58979"/>
<circle cx="497" cy="405" r="3" fill="#bb9185"/>
<circle cx="406" cy="355" r="3.5" fill="#d48362"/>
<circle cx="460.5" cy="431.5" r="3" fill="#ae8078"/>
<circle cx="410.5" cy="432" r="2.5" fill="#be9284"/>
<circle cx="485" cy="397.5" r="3" fill="#ba8c83"/>
<circle cx="488.5" cy="354" r="3.5" fill="#dc926c"/>
<circle cx="403.5" cy="441" r="3" fill="#a98074"/>
<circle cx="420.5" cy="410" r="3" fill="#b5907d"/>
<circle cx="450.5" cy="431.5" r="3.5" fill="#d3866d"/>
<circle cx="437" cy="409" r="3" fill="#bf917c"/>
<circle cx="511" cy="413" r="3.5" fill="#bd9084"/>
<circle cx="411.5" cy="405" r="3.5" fill="#c3968e"/>
<circle cx="471.5" cy="370" r="3.5" fill="#bd8f8a"/>
<circle cx="470" cy="450.5" r="3.5" fill="#a67368"/>
<circle cx="454" cy="367.5" r="3.5" fill="#a57c76"/>
<circle cx="492.5" cy="355.5" r="3.5" fill="#9b8c96"/>
<circle cx="491.5" cy="458" r="2.5" fill="#e2916f"/>
<circle cx="411.5" cy="365" r="3" fill="#c29185"/>
<circle cx="457.5" cy="382" r="2.5" fill="#a67d6f"/>
<circle cx="445.5" cy="356.5" r="2.5" fill="#b28d7c"/>
<circle cx="503.5" cy="358" r="3.5" fill="#ba8f84"/>
<circle cx="403" cy="389.5" r="3.5" fill="#cea08d"/>
<circle cx="503" cy="370" r="2.5" fill="#e19676"/>
<circle cx="450.5" cy="360.5" r="3" fill="#ab989f"/>
<circle cx="401.5" cy="352" r="3" fill="#da8e77"/>
<circle cx="454.5" cy="447" r="3" fill="#b69086"/>
<circle cx="412.5" cy="382" r="3.5" fill="#ad7970"/>
<circle cx="509" cy="447.5" r="2.5" fill="#da9573"/>
<circle cx="445" cy="353" r="3" fill="#b18679"/>
<circle cx="489.5" cy="373.5" r="3.5" fill="#dd8b76"/>
<circle cx="462.5" cy="371" r="3" fill="#ae807b"/>
<circle cx="458" cy="445" r="3" fill="#aa939c"/>
<circle cx="465" cy="412" r="3" fill="#cd835c"/>
<circle cx="402.5" cy="455" r="2.5" fill="#dd9679"/>
<circle cx="413.5" cy="454.5" r="2.5" fill="#a77a71"/>
<circle cx="488.5" cy="365" r="3.5" fill="#cf9f98"/>
<circle cx="431.5" cy="453" r="2.5" fill="#a195a2"/>
<circle cx="399" cy="375" r="3.5" fill="#b7897a"/>
<circle cx="476.5" cy="391" r="3.5" fill="#c28e85"/>
<circle cx="440" cy="422.5" r="3" fill="#a37874"/>
<circle cx="500.5" cy="378.5" r="2.5" fill="#ad7d74"/>
<circle cx="444.5" cy="451" r="3" fill="#a69b9b"/>
<circle cx="492" cy="380.5" r="3" fill="#9a878e"/>
<circle cx="522.5" cy="388.5" r="2.5" fill="#c38f8a"/>
<circle cx="475.5" cy="438" r="3.5" fill="#b6917d"/>
<circle cx="410.5" cy="408.5" r="2.5" fill="#b29fa4"/>
<circle cx="418.5" cy="397" r="3" fill="#ab929d"/>
<circle cx="463" cy="362" r="3.5" fill="#c18b88"/>
<circle cx="437" cy="431.5" r="3.5" fill="#b195a0"/>
<circle cx="429.5" cy="379.5" r="3.5" fill="#aa7876"/>
<circle cx="396" cy="441.5" r="3.5" fill="#b78b85"/>
<circle cx="408.5" cy="374.5" r="2.5" fill="#9e8993"/>
<circle cx="480.5" cy="405.5" r="3" fill="#bc8685"/>
<circle cx="427" cy="400" r="2.5" fill="#a97e73"/>
<circle cx="402" cy="406" r="3.5" fill="#9e8690"/>
<circle cx="524" cy="408" r="3" fill="#d88b6f"/>
<circle cx="479" cy="383.5" r="2.5" fill="#e2976d"/>
<circle cx="526.5" cy="455.5" r="3" fill="#b28871"/>
<circle cx="393" cy="381" r="2.5" fill="#c09385"/>
<circle cx="449" cy="403.5" r="3" fill="#ae837e"/>
<circle cx="481.5" cy="457.5" r="3.5" fill="#bc8d87"/>
<circle cx="458" cy="395.5" r="3.5" fill="#b28d7b"/>
<circle cx="465.5" cy="438.5" r="3" fill="#a87d75"/>
<circle cx="518" cy="397.5" r="3.5" fill="#de936d"/>
<circle cx="496" cy="351.5" r="2.5" fill="#e79271"/>
<circle cx="502" cy="424" r="3" fill="#8ba1ca"/>
<circle cx="457.5" cy="360" r="2.5" fill="#d08062"/>
<circle cx="492" cy="393.5" r="3" fill="#ac969a"/>
<circle cx="448.5" cy="369" r="2.5" fill="#c99794"/>
<circle cx="431" cy="422.5" r="3.5" fill="#cd8265"/>
<circle cx="498" cy="418" r="3" fill="#d78a62"/>
<circle cx="445.5" cy="388" r="2.5" fill="#a28e9c"/>
<circle cx="461" cy="349" r="2.5" fill="#9c8691"/>
<circle cx="467.5" cy="399.5" r="2.5" fill="#aa9fa7"/>
<circle cx="508.5" cy="456" r="3" fill="#b58477"/>
<circle cx="466" cy="359.5" r="3.5" fill="#ca9a91"/>
<circle cx="493" cy="388.5" r="2.5" fill="#c69a91"/>
<circle cx="493" cy="449" r="3.5" fill="#9c8e9a"/>
<circle cx="501.5" cy="458" r="2.5" fill="#a89393"/>
<circle cx="478.5" cy="446.5" r="3" fill="#b28577"/>
<circle cx="485" cy="422" r="2.5" fill="#96898f"/>
<circle cx="497" cy="431" r="3" fill="#a4796c"/>
<circle cx="510" cy="394.5" r="2.5" fill="#ca8864"/>
<circle cx="412" cy="428" r="2.5" fill="#988b8e"/>
<circle cx="394" cy="364" r="2.5" fill="#b38779"/>
<circle cx="462.5" cy="404" r="3.5" fill="#a37d69"/>
<circle cx="472.5" cy="353.5" r="3" fill="#d98f6f"/>
<circle cx="433" cy="363.5" r="3.5" fill="#ab7a71"/>
<circle cx="521.5" cy="381.5" r="3" fill="#ab949a"/>
<circle cx="412.5" cy="440" r="2.5" fill="#b18475"/>
<circle cx="436.5" cy="442.5" r="3" fill="#9b8a90"/>
<circle cx="510.5" cy="426" r="2.5" fill="#b28a79"/>
<circle cx="437" cy="378.5" r="3" fill="#b78682"/>
<circle cx="505.5" cy="389" r="3.5" fill="#aa989e"/>
<circle cx="414" cy="451" r="3.5" fill="#8599c3"/>
<circle cx="486.5" cy="448.5" r="2.5" fill="#d2815e"/>
<circle cx="518" cy="381.5" r="2.5" fill="#a495a3"/>
<circle cx="522" cy="365.5" r="3.5" fill="#a4979b"/>
<circle cx="429" cy="418.5" r="2.5" fill="#cd9c92"/>
<circle cx="423.5" cy="434" r="3" fill="#ae7d70"/>
<circle cx="419.5" cy="456.5" r="2.5" fill="#b88a87"/>
<circle cx="505.5" cy="380.5" r="3" fill="#b48875"/>
<circle cx="452.5" cy="391" r="2.5" fill="#be8f81"/>
<circle cx="498.5" cy="365" r="3.5" fill="#af8b7c"/>
<circle cx="444.5" cy="421" r="3" fill="#a09297"/>
<circle cx="516.5" cy="441" r="3.5" fill="#a590a2"/>
<circle cx="420.5" cy="440.5" r="2.5" fill="#9f929e"/>
<circle cx="504.5" cy="403.5" r="2.5" fill="#a37d6a"/>
<circle cx="475.5" cy="410.5" r="2.5" fill="#9e8d99"/>
<circle cx="408" cy="450.5" r="3.5" fill="#ca8164"/>
<circle cx="423" cy="447.5" r="3.5" fill="#b88a77"/>
<circle cx="445" cy="412" r="2.5" fill="#8697c2"/>
<circle cx="453" cy="407" r="3.5" fill="#ab7f74"/>
<circle cx="515" cy="352" r="3" fill="#9f909a"/>
<circle cx="513.5" cy="409" r="3" fill="#a97971"/>
<circle cx="491" cy="426" r="3.5" fill="#bb948b"/>
<circle cx="477" cy="415" r="3.5" fill="#de9472"/>
<circle cx="487" cy="402" r="3" fill="#b68b7f"/>
<circle cx="510.5" cy="401.5" r="3" fill="#d88e6b"/>
<circle cx="464" cy="426" r="2.5" fill="#9c848f"/>
<circle cx="399" cy="431.5" r="3.5" fill="#d2835d"/>
<circle cx="406" cy="409" r="2.5" fill="#b28773"/>
<circle cx="475" cy="364.5" r="2.5" fill="#988496"/>
<circle cx="522" cy="420" r="2.5" fill="#d78d65"/>
<circle cx="444.5" cy="442" r="2.5" fill="#9e8c9b"/>
<circle cx="434.5" cy="451" r="3.5" fill="#92a8cf"/>
<circle cx="509" cy="441.5" r="2.5" fill="#b27f72"/>
<circle cx="488.5" cy="386.5" r="3" fill="#a77e75"/>
<circle cx="462" cy="386.5" r="2.5" fill="#90a8d2"/>
<circle cx="524.5" cy="351.5" r="2.5" fill="#ce7e65"/>
<circle cx="423.5" cy="361" r="3.5" fill="#ab96a4"/>
<circle cx="445" cy="425.5" r="2.5" fill="#a895a4"/>
<circle cx="404" cy="378" r="3" fill="#c79e93"/>
<circle cx="422.5" cy="370.5" r="3" fill="#a58474"/>
<circle cx="453" cy="349" r="3.5" fill="#ca9b95"/>
<circle cx="431.5" cy="438" r="3" fill="#cb9e92"/>
<circle cx="435" cy="359.5" r="2.5" fill="#d28e68"/>
<circle cx="465.5" cy="377" r="2.5" fill="#a37e6c"/>
<circle cx="521.5" cy="445.5" r="2.5" fill="#b07e6d"/>
<circle cx="506.5" cy="352" r="2.5" fill="#a67a68"/>
<circle cx="509" cy="361" r="3" fill="#dc8864"/>
<circle cx="508" cy="364" r="3" fill="#97878f"/>
<circle cx="403.5" cy="422" r="2.5" fill="#d29c9d"/>
<circle cx="488.5" cy="358" r="3.5" fill="#b68880"/>
<circle cx="467.5" cy="419" r="3" fill="#a0908f"/>
<circle cx="519.5" cy="401.5" r="3" fill="#b48774"/>
<circle cx="415" cy="394" r="3.5" fill="#ab7876"/>
<circle cx="426" cy="391" r="3.5" fill="#c6958a"/>
<circle cx="432" cy="407.5" r="3" fill="#db8368"/>
<circle cx="441" cy="456" r="3" fill="#e89770"/>
<circle cx="396.5" cy="422.5" r="2.5" fill="#a59da2"/>
<circle cx="479.5" cy="434.5" r="3.5" fill="#b98979"/>
<circle cx="425" cy="348.5" r="3.5" fill="#b88a81"/>
<circle cx="431" cy="350.5" r="3" fill="#a6929b"/>
<circle cx="456" cy="456.5" r="3" fill="#cf8064"/>
<circle cx="505.5" cy="432.5" r="3" fill="#ac9fa1"/>
<circle cx="402" cy="414.5" r="3.5" fill="#a38e94"/>
<circle cx="450" cy="457" r="3" fill="#d5916b"/>
<circle cx="396" cy="407.5" r="2.5" fill="#b19d9e"/>
<circle cx="410" cy="349" r="3.5" fill="#998c9a"/>
<circle cx="510" cy="418" r="3" fill="#b28472"/>
<circle cx="501" cy="396" r="3" fill="#a48896"/>
<circle cx="446" cy="406" r="2.5" fill="#d18063"/>
<circle cx="523" cy="424" r="3.5" fill="#bb887f"/>
<circle cx="470" cy="454" r="3.5" fill="#d48365"/>
<circle cx="436" cy="397.5" r="2.5" fill="#df8b70"/>
<circle cx="521.5" cy="442" r="3.5" fill="#e0876e"/>
<circle cx="520.5" cy="359.5" r="3.5" fill="#859ec4"/>
<circle cx="411.5" cy="391.5" r="2.5" fill="#b88c7e"/>
<circle cx="479" cy="437" r="3.5" fill="#de9069"/>
<circle cx="515" cy="389.5" r="2.5" fill="#db8e6e"/>
<circle cx="472.5" cy="394.5" r="3.5" fill="#9d8d93"/>
<circle cx="415.5" cy="386.5" r="3.5" fill="#b6877f"/>
<circle cx="438.5" cy="350.5" r="2.5" fill="#b08b7c"/>
<circle cx="463" cy="398" r="3" fill="#ac7d72"/>
<circle cx="463" cy="456" r="3.5" fill="#a17d68"/>
<circle cx="512.5" cy="432.5" r="3.5" fill="#b08b7e"/>
<circle cx="512.5" cy="373" r="2.5" fill="#b38b7b"/>
<circle cx="516" cy="423" r="3" fill="#ac949a"/>
<circle cx="438" cy="363.5" r="3" fill="#ad836f"/>
<circle cx="451.5" cy="417" r="3" fill="#b8907f"/>
<circle cx="433.5" cy="391" r="3" fill="#b07d73"/>
<circle cx="434" cy="405.5" r="3" fill="#cba09b"/>
<circle cx="420.5" cy="358" r="2.5" fill="#b38e82"/>
<circle cx="447" cy="378" r="2.5" fill="#b08973"/>
<circle cx="497.5" cy="443.5" r="3.5" fill="#9c848d"/>
<circle cx="437" cy="420.5" r="3.5" fill="#b18b77"/>
<circle cx="401" cy="364.5" r="2.5" fill="#b28473"/>
<circle cx="440" cy="431" r="3" fill="#c99794"/>
<circle cx="471" cy="386" r="3" fill="#cc988c"/>
<circle cx="433.5" cy="373.5" r="3" fill="#bc938e"/>
<circle cx="506" cy="416.5" r="3" fill="#cca096"/>
<circle cx="418" cy="429.5" r="2.5" fill="#988898"/>
<circle cx="521.5" cy="431.5" r="2.5" fill="#da946e"/>
<circle cx="524" cy="396.5" r="2.5" fill="#b28272"/>
<circle cx="480.5" cy="375" r="2.5" fill="#a18d9d"/>
<circle cx="520" cy="370.5" r="2.5" fill="#96888c"/>
<circle cx="418" cy="417" r="2.5" fill="#e69377"/>
<circle cx="479.5" cy="365" r="3" fill="#c39789"/>
</g>
<g fill-opacity="0.72"><circle cx="462.5" cy="418.5" r="2" fill="#8d685a"/><circle cx="422" cy="380" r="2" fill="#865e57"/><circle cx="481" cy="347.5" r="2" fill="#94756e"/><circle cx="402" cy="359" r="2" fill="#8e6a63"/><circle cx="450" cy="432" r="2" fill="#a96b57"/><circle cx="404" cy="388.5" r="2" fill="#a58071"/><circle cx="413" cy="382.5" r="2" fill="#8a615a"/><circle cx="400" cy="374.5" r="2" fill="#926e62"/><circle cx="476.5" cy="391.5" r="2" fill="#9b726a"/><circle cx="476" cy="437.5" r="2" fill="#927464"/><circle cx="463" cy="362.5" r="2" fill="#9a6f6d"/><circle cx="431" cy="423" r="2" fill="#a46851"/><circle cx="493" cy="448" r="2" fill="#7d727b"/><circle cx="498" cy="365.5" r="2" fill="#8c6f63"/><circle cx="491.5" cy="427" r="2" fill="#96766f"/><circle cx="476.5" cy="416" r="2" fill="#b2765b"/><circle cx="453.5" cy="348.5" r="2" fill="#a27c77"/><circle cx="488.5" cy="358.5" r="2" fill="#926d66"/><circle cx="401" cy="415.5" r="2" fill="#827276"/><circle cx="470.5" cy="453.5" r="2" fill="#aa6951"/><circle cx="520.5" cy="442.5" r="2" fill="#b36c58"/><circle cx="463" cy="456" r="2" fill="#816453"/><circle cx="512.5" cy="432" r="2" fill="#8d6f65"/><circle cx="497" cy="443.5" r="2" fill="#7d6a71"/></g>
<circle cx="486" cy="371" r="8" fill="#e0643a" fill-opacity="0.95" stroke="#b88070" stroke-opacity="0.4"/>
<circle cx="486.5" cy="371.5" r="4.4" fill="#c85a38" fill-opacity="0.7"/>
<circle cx="428" cy="372" r="6" fill="#a87070" fill-opacity="0.85" stroke="#b88070" stroke-opacity="0.4"/>
<circle cx="423" cy="401" r="4.5" fill="#5a78b8" fill-opacity="0.85" stroke="#b88070" stroke-opacity="0.4"/>
<circle cx="448" cy="420" r="4" fill="#7090c0" fill-opacity="0.8" stroke="#b88070" stroke-opacity="0.4"/>
<circle cx="437" cy="432" r="4.5" fill="#6a88c0" fill-opacity="0.8" stroke="#b88070" stroke-opacity="0.4"/>
<circle cx="447" cy="436" r="4" fill="#7a98c8" fill-opacity="0.75" stroke="#b88070" stroke-opacity="0.4"/>
<circle cx="475" cy="422" r="4" fill="#7a98c8" fill-opacity="0.75" stroke="#b88070" stroke-opacity="0.4"/>
<circle cx="497" cy="401" r="4" fill="#8aa0c8" fill-opacity="0.75" stroke="#b88070" stroke-opacity="0.4"/>
<circle cx="412" cy="418" r="3.5" fill="#d86a48" fill-opacity="0.85" stroke="#b88070" stroke-opacity="0.4"/>
</g>
<path d="M454 358.5H516.5" stroke="#6a4a5a" stroke-opacity="0.16" stroke-width="1"/>
</g>
<text transform="translate(264.4 510.3) rotate(-90) scale(0.68 1)" font-size="12" font-weight="bold" text-anchor="middle" >L1236</text>
<clipPath id="c40"><rect x="272" y="461" width="119.5" height="99"/></clipPath>
<g clip-path="url(#c40)"><rect x="272" y="461" width="119.5" height="99" fill="#eedcdc"/><g filter="url(#bl)">
<g fill-opacity="0.55" stroke="#f8eaea" stroke-opacity="0" stroke-width="1">
<circle cx="327" cy="497" r="5.5" fill="#b2a3c3"/>
<circle cx="285.5" cy="549.5" r="5.5" fill="#e4c4cb"/>
<circle cx="269" cy="511" r="6" fill="#ada5c8"/>
<circle cx="382.5" cy="465.5" r="4" fill="#b4a8ca"/>
<circle cx="338.5" cy="523" r="4" fill="#e3a284"/>
<circle cx="273" cy="497.5" r="4.5" fill="#eeaf95"/>
<circle cx="357.5" cy="505.5" r="3.5" fill="#eca593"/>
<circle cx="360.5" cy="474" r="3.5" fill="#e39e85"/>
<circle cx="298.5" cy="469" r="3.5" fill="#a7a4ca"/>
<circle cx="332.5" cy="556" r="4.5" fill="#d4babe"/>
<circle cx="343.5" cy="540" r="4" fill="#f2ab9b"/>
<circle cx="317" cy="537" r="5" fill="#dbbac6"/>
<circle cx="281" cy="488" r="4" fill="#b8afd2"/>
<circle cx="354" cy="534.5" r="3.5" fill="#bdaace"/>
<circle cx="322" cy="466.5" r="4" fill="#b8b1d6"/>
<circle cx="302" cy="479.5" r="5.5" fill="#e19c85"/>
<circle cx="304" cy="543.5" r="6" fill="#f8ad98"/>
<circle cx="293.5" cy="552" r="5.5" fill="#d1b6b9"/>
<circle cx="380" cy="463" r="6" fill="#ae9ebe"/>
<circle cx="316.5" cy="509.5" r="4" fill="#aaa2ca"/>
<circle cx="271" cy="502.5" r="4" fill="#b2acce"/>
<circle cx="383.5" cy="469" r="5.5" fill="#eeb1a0"/>
<circle cx="344" cy="470" r="4" fill="#d6c1c4"/>
<circle cx="342" cy="553" r="4.5" fill="#a7a1c2"/>
<circle cx="294" cy="458" r="4" fill="#afa5c8"/>
<circle cx="278.5" cy="515" r="4.5" fill="#e9a486"/>
<circle cx="270" cy="466" r="4" fill="#ad9fbf"/>
<circle cx="331.5" cy="555.5" r="5.5" fill="#bbb2cc"/>
<circle cx="321.5" cy="499.5" r="5" fill="#d7babb"/>
<circle cx="349.5" cy="467" r="5.5" fill="#bdb3d5"/>
<circle cx="342" cy="475.5" r="5" fill="#e3a289"/>
<circle cx="345.5" cy="559.5" r="3.5" fill="#dbb2c0"/>
<circle cx="275" cy="516.5" r="5" fill="#dc9b8a"/>
<circle cx="345.5" cy="473" r="6" fill="#caaeb2"/>
<circle cx="302" cy="563.5" r="5" fill="#b49fcb"/>
<circle cx="395" cy="470" r="5" fill="#bfaad2"/>
<circle cx="358" cy="558.5" r="4.5" fill="#e9ae97"/>
<circle cx="298" cy="522.5" r="4.5" fill="#b5a8c5"/>
<circle cx="273.5" cy="496" r="4" fill="#edb296"/>
<circle cx="354" cy="520" r="3.5" fill="#e0b9bf"/>
<circle cx="367" cy="466.5" r="5" fill="#eca794"/>
<circle cx="312.5" cy="549.5" r="4.5" fill="#efb49e"/>
<circle cx="342.5" cy="505.5" r="4" fill="#eea592"/>
<circle cx="319.5" cy="562.5" r="3.5" fill="#c1b1cf"/>
<circle cx="341" cy="459" r="5.5" fill="#b1a2ce"/>
<circle cx="370" cy="492" r="3.5" fill="#edae94"/>
<circle cx="323.5" cy="480" r="6" fill="#e8a792"/>
<circle cx="324.5" cy="491.5" r="4" fill="#dab8c7"/>
<circle cx="279.5" cy="524.5" r="5.5" fill="#b9a5cb"/>
<circle cx="281" cy="541" r="4.5" fill="#c9acb6"/>
<circle cx="271" cy="540.5" r="5.5" fill="#d8bcbf"/>
<circle cx="371" cy="510" r="4" fill="#ccabbc"/>
<circle cx="358.5" cy="483.5" r="4" fill="#b9b4d8"/>
<circle cx="362" cy="502.5" r="4.5" fill="#e59f8a"/>
<circle cx="297.5" cy="560" r="5" fill="#e6af98"/>
<circle cx="319" cy="497" r="5" fill="#e0bfc9"/>
<circle cx="377.5" cy="496.5" r="3.5" fill="#a8a0c3"/>
<circle cx="353" cy="475.5" r="5.5" fill="#e8af8e"/>
<circle cx="375.5" cy="484.5" r="4" fill="#a8a5c1"/>
<circle cx="274.5" cy="561.5" r="4" fill="#bbacd6"/>
<circle cx="290" cy="558.5" r="5.5" fill="#f2b296"/>
<circle cx="393.5" cy="522" r="5.5" fill="#a699c5"/>
<circle cx="269.5" cy="463.5" r="5" fill="#b9adce"/>
<circle cx="294.5" cy="498.5" r="4.5" fill="#e0a188"/>
<circle cx="346" cy="560.5" r="4.5" fill="#e8b08f"/>
<circle cx="313" cy="472" r="4" fill="#f8af9c"/>
<circle cx="339.5" cy="471.5" r="5" fill="#a69abe"/>
<circle cx="279" cy="516.5" r="5" fill="#c4b1d5"/>
<circle cx="356.5" cy="464" r="5" fill="#e3a083"/>
<circle cx="325.5" cy="532.5" r="4" fill="#d2b1b8"/>
<circle cx="365.5" cy="498" r="5" fill="#a898bd"/>
<circle cx="381" cy="475" r="4.5" fill="#b8abd3"/>
<circle cx="359" cy="539.5" r="4.5" fill="#c9a8b3"/>
<circle cx="380" cy="510" r="4.5" fill="#f1b293"/>
<circle cx="280.5" cy="462" r="5.5" fill="#aea1c7"/>
<circle cx="335.5" cy="475.5" r="4.5" fill="#e5a488"/>
<circle cx="348.5" cy="466" r="4.5" fill="#ac9fc8"/>
<circle cx="367.5" cy="481" r="5" fill="#f7ae95"/>
<circle cx="269.5" cy="476" r="6" fill="#f0b095"/>
<circle cx="326" cy="517" r="4.5" fill="#ada1c6"/>
<circle cx="317.5" cy="475.5" r="4" fill="#b39dc4"/>
<circle cx="329.5" cy="558.5" r="5" fill="#a79bc3"/>
<circle cx="336.5" cy="557.5" r="5" fill="#b8b5d1"/>
<circle cx="271.5" cy="563.5" r="5" fill="#eca491"/>
<circle cx="381.5" cy="515" r="5" fill="#b4a8cc"/>
<circle cx="334.5" cy="514.5" r="4" fill="#df9a87"/>
<circle cx="384" cy="464" r="5" fill="#e7a892"/>
<circle cx="350" cy="515" r="4" fill="#dfa186"/>
<circle cx="306.5" cy="534.5" r="5.5" fill="#bea8d3"/>
<circle cx="360" cy="468" r="5.5" fill="#bda9d3"/>
<circle cx="357" cy="505.5" r="4" fill="#dbc0ca"/>
<circle cx="330.5" cy="525" r="4.5" fill="#f7b896"/>
<circle cx="275" cy="521.5" r="4.5" fill="#b0a2c4"/>
<circle cx="315.5" cy="551" r="4" fill="#dda885"/>
<circle cx="297.5" cy="545" r="5.5" fill="#e8a797"/>
<circle cx="361" cy="524" r="5.5" fill="#e0a283"/>
<circle cx="379.5" cy="461" r="4" fill="#d8bfc7"/>
<circle cx="344" cy="522.5" r="5" fill="#f5b79c"/>
<circle cx="354.5" cy="500.5" r="5.5" fill="#e4a992"/>
<circle cx="277" cy="477" r="5" fill="#e4a28b"/>
<circle cx="345.5" cy="476.5" r="3.5" fill="#ccb4b5"/>
<circle cx="276.5" cy="495" r="5" fill="#aca2c5"/>
<circle cx="328" cy="514.5" r="3.5" fill="#e6c5cc"/>
<circle cx="271.5" cy="540" r="3.5" fill="#bbb9d6"/>
<circle cx="310.5" cy="541" r="5" fill="#bab4d4"/>
<circle cx="269" cy="559" r="5" fill="#c6b4d8"/>
<circle cx="343.5" cy="561.5" r="5" fill="#bdb8d7"/>
<circle cx="394" cy="546" r="6" fill="#aa9ebf"/>
<circle cx="281.5" cy="494.5" r="4.5" fill="#eba692"/>
<circle cx="297.5" cy="540.5" r="5" fill="#e4a68f"/>
<circle cx="292.5" cy="480.5" r="6" fill="#eda98a"/>
<circle cx="282" cy="470" r="5" fill="#d7b7bf"/>
<circle cx="387.5" cy="561.5" r="4.5" fill="#eeb79d"/>
<circle cx="315.5" cy="536.5" r="4" fill="#b6adce"/>
<circle cx="327.5" cy="513" r="5" fill="#aba5c6"/>
<circle cx="315" cy="525" r="4.5" fill="#b3a1c7"/>
<circle cx="298" cy="484.5" r="4.5" fill="#f3b598"/>
<circle cx="334" cy="478" r="3.5" fill="#b2a4ca"/>
<circle cx="324" cy="558" r="5" fill="#f6b99e"/>
<circle cx="271" cy="468" r="5" fill="#d7bbbc"/>
</g>
<g fill-opacity="0.55"><circle cx="326.5" cy="496.5" r="2.5" fill="#8e829c"/><circle cx="269.5" cy="510.5" r="3" fill="#8a84a0"/><circle cx="382.5" cy="465.5" r="2" fill="#9086a2"/><circle cx="273.5" cy="497" r="2" fill="#be8c77"/><circle cx="332" cy="555.5" r="2" fill="#aa9598"/><circle cx="343" cy="540.5" r="2" fill="#c2897c"/><circle cx="354" cy="535.5" r="2" fill="#9788a5"/><circle cx="317" cy="508.5" r="2" fill="#8882a2"/><circle cx="383" cy="469" r="3" fill="#be8e80"/><circle cx="344.5" cy="471" r="2" fill="#ab9a9d"/><circle cx="294" cy="459" r="2" fill="#8c84a0"/><circle cx="341.5" cy="475.5" r="2.5" fill="#b6826e"/><circle cx="345.5" cy="472.5" r="3" fill="#a28b8e"/><circle cx="358" cy="559" r="2.5" fill="#ba8b79"/><circle cx="298.5" cy="522.5" r="2.5" fill="#91869e"/><circle cx="273" cy="496.5" r="2" fill="#be8e78"/><circle cx="367.5" cy="466.5" r="2.5" fill="#bd8676"/><circle cx="343" cy="505" r="2" fill="#be8475"/><circle cx="340.5" cy="460" r="3" fill="#8e82a5"/><circle cx="323" cy="480" r="3" fill="#ba8675"/><circle cx="324.5" cy="492" r="2" fill="#ae939f"/><circle cx="280.5" cy="541" r="2" fill="#a18a92"/><circle cx="272" cy="540" r="3" fill="#ad9699"/><circle cx="362" cy="503.5" r="2.5" fill="#b77f6e"/><circle cx="318.5" cy="496" r="2.5" fill="#b399a1"/><circle cx="378" cy="496" r="2" fill="#86809c"/><circle cx="273.5" cy="561.5" r="2" fill="#968aab"/><circle cx="290" cy="558" r="3" fill="#c28e78"/><circle cx="346.5" cy="559.5" r="2" fill="#ba8d72"/><circle cx="356.5" cy="463.5" r="2.5" fill="#b68069"/><circle cx="325.5" cy="531.5" r="2" fill="#a88e93"/><circle cx="359" cy="540" r="2" fill="#a1868f"/><circle cx="381" cy="510.5" r="2" fill="#c18e76"/><circle cx="336" cy="476" r="2" fill="#b7836d"/><circle cx="366.5" cy="481.5" r="2.5" fill="#c68b77"/><circle cx="330" cy="558" r="2.5" fill="#867c9c"/><circle cx="384.5" cy="463" r="2.5" fill="#b98675"/><circle cx="350.5" cy="514.5" r="2" fill="#b2816b"/><circle cx="357" cy="506.5" r="2" fill="#af9aa2"/><circle cx="275" cy="521.5" r="2" fill="#8d829d"/><circle cx="380" cy="461.5" r="2" fill="#ad999f"/><circle cx="353.5" cy="501" r="2.5" fill="#b68775"/><circle cx="276.5" cy="477.5" r="2.5" fill="#b6826f"/><circle cx="276" cy="495" r="2.5" fill="#8a829e"/><circle cx="328.5" cy="515" r="2" fill="#b89ea3"/><circle cx="271" cy="541" r="2" fill="#9694ab"/><circle cx="393.5" cy="545.5" r="3" fill="#887e99"/><circle cx="386.5" cy="561.5" r="2" fill="#be927e"/><circle cx="297" cy="484.5" r="2.5" fill="#c2917a"/><circle cx="271.5" cy="467.5" r="2.5" fill="#ac9696"/></g>
<g fill-opacity="0.85" stroke="#f8eaea" stroke-opacity="0.35" stroke-width="1">
<circle cx="320" cy="489.5" r="5.5" fill="#e47c60"/>
<circle cx="347" cy="548.5" r="4" fill="#b15147"/>
<circle cx="309" cy="518" r="5.5" fill="#f28865"/>
<circle cx="272" cy="482.5" r="6" fill="#d36340"/>
<circle cx="321.5" cy="525.5" r="5.5" fill="#ce6847"/>
<circle cx="380" cy="552" r="5" fill="#738bc2"/>
<circle cx="333" cy="485" r="3.5" fill="#d7624a"/>
<circle cx="373" cy="547.5" r="5.5" fill="#b95d4c"/>
<circle cx="369" cy="528.5" r="6" fill="#d0643e"/>
<circle cx="348.5" cy="499" r="4" fill="#ca603d"/>
<circle cx="341" cy="496.5" r="4" fill="#b2553b"/>
<circle cx="358" cy="551" r="6" fill="#ab5041"/>
<circle cx="306.5" cy="535.5" r="4" fill="#e97e63"/>
<circle cx="281" cy="466.5" r="5.5" fill="#da7655"/>
<circle cx="292" cy="488" r="6.5" fill="#c35c48"/>
<circle cx="323.5" cy="498.5" r="5.5" fill="#8287b3"/>
<circle cx="383.5" cy="463" r="5" fill="#6b85bb"/>
<circle cx="378.5" cy="482.5" r="5.5" fill="#5e7aab"/>
<circle cx="306.5" cy="507" r="5.5" fill="#c75f3e"/>
<circle cx="324.5" cy="518" r="3.5" fill="#b25a48"/>
<circle cx="272" cy="520.5" r="4" fill="#6c86c3"/>
<circle cx="273.5" cy="474.5" r="6.5" fill="#868ab9"/>
<circle cx="304" cy="512" r="6.5" fill="#d36041"/>
<circle cx="361" cy="460.5" r="4" fill="#c16854"/>
<circle cx="272" cy="501" r="4" fill="#e07a61"/>
<circle cx="297" cy="533.5" r="3.5" fill="#f88868"/>
<circle cx="371.5" cy="554" r="5" fill="#cc5c40"/>
<circle cx="394" cy="560" r="4.5" fill="#b55544"/>
<circle cx="298.5" cy="517.5" r="5" fill="#d86c4a"/>
<circle cx="284.5" cy="515.5" r="4" fill="#6483be"/>
<circle cx="357.5" cy="524.5" r="5.5" fill="#d2694d"/>
<circle cx="393" cy="497" r="5.5" fill="#e28060"/>
<circle cx="322" cy="553.5" r="6" fill="#6381b2"/>
<circle cx="370" cy="477" r="5.5" fill="#da6849"/>
<circle cx="318.5" cy="540" r="6.5" fill="#d46e4d"/>
<circle cx="275.5" cy="544.5" r="5.5" fill="#de7853"/>
<circle cx="382" cy="526.5" r="3.5" fill="#738dc7"/>
<circle cx="283" cy="516" r="4.5" fill="#ad513e"/>
<circle cx="287.5" cy="552" r="4.5" fill="#cc5840"/>
<circle cx="300" cy="462.5" r="3.5" fill="#af513d"/>
<circle cx="325.5" cy="482.5" r="4.5" fill="#ae5443"/>
<circle cx="378" cy="476" r="4.5" fill="#c6593f"/>
<circle cx="283" cy="497" r="5" fill="#7991c7"/>
<circle cx="324" cy="515" r="6" fill="#ef8a6a"/>
<circle cx="390.5" cy="499.5" r="5.5" fill="#6180b2"/>
<circle cx="379.5" cy="471" r="5" fill="#7294c5"/>
<circle cx="329.5" cy="552.5" r="5.5" fill="#f28661"/>
<circle cx="374.5" cy="525.5" r="5.5" fill="#f08762"/>
<circle cx="279" cy="564" r="5" fill="#c75b40"/>
<circle cx="314" cy="528" r="6.5" fill="#718cc9"/>
<circle cx="280.5" cy="467.5" r="4.5" fill="#da6748"/>
<circle cx="321" cy="541.5" r="4" fill="#818eb8"/>
<circle cx="364.5" cy="498.5" r="5.5" fill="#b05242"/>
<circle cx="300.5" cy="518.5" r="5.5" fill="#c2624d"/>
<circle cx="324.5" cy="483.5" r="4" fill="#dd7252"/>
<circle cx="284" cy="463" r="6" fill="#d25f40"/>
<circle cx="279" cy="540" r="4" fill="#cf683e"/>
<circle cx="390" cy="543" r="4.5" fill="#96a1c5"/>
<circle cx="353.5" cy="505" r="6" fill="#848eb8"/>
<circle cx="303" cy="508" r="6" fill="#d67049"/>
<circle cx="319" cy="546" r="6.5" fill="#cd603f"/>
<circle cx="390.5" cy="500" r="4" fill="#a75140"/>
<circle cx="303" cy="535" r="5.5" fill="#cb6544"/>
<circle cx="385.5" cy="561" r="5" fill="#d5714f"/>
<circle cx="393" cy="542" r="4.5" fill="#d1654a"/>
<circle cx="374" cy="507.5" r="4" fill="#8791c1"/>
<circle cx="356.5" cy="480" r="3.5" fill="#b45c4a"/>
<circle cx="395" cy="482" r="4.5" fill="#5d7cb3"/>
<circle cx="365.5" cy="541" r="6" fill="#c36650"/>
<circle cx="380" cy="496.5" r="4.5" fill="#b25745"/>
<circle cx="330" cy="459" r="6" fill="#7895c4"/>
<circle cx="380" cy="519" r="4.5" fill="#d45d41"/>
<circle cx="286" cy="493.5" r="5" fill="#6180af"/>
<circle cx="317.5" cy="508" r="6.5" fill="#7590c1"/>
<circle cx="307" cy="485.5" r="6" fill="#cd6247"/>
<circle cx="334.5" cy="538" r="6" fill="#6b8ebc"/>
<circle cx="328" cy="504.5" r="6" fill="#6988c2"/>
<circle cx="317" cy="557.5" r="5" fill="#ce5e42"/>
<circle cx="365" cy="531" r="6" fill="#bf5b52"/>
<circle cx="275.5" cy="538.5" r="4" fill="#f18e70"/>
<circle cx="323.5" cy="531.5" r="5" fill="#b66150"/>
<circle cx="328" cy="465.5" r="5" fill="#c7623f"/>
<circle cx="337.5" cy="535" r="4.5" fill="#949dcc"/>
<circle cx="289.5" cy="522.5" r="6" fill="#de6d50"/>
<circle cx="302.5" cy="458" r="3.5" fill="#7096c8"/>
<circle cx="274" cy="499" r="5" fill="#dd7755"/>
<circle cx="299.5" cy="476" r="5" fill="#6582b0"/>
<circle cx="310" cy="541" r="6.5" fill="#d26240"/>
<circle cx="333.5" cy="518.5" r="4" fill="#cc5841"/>
<circle cx="383" cy="482.5" r="6.5" fill="#e8845c"/>
<circle cx="382" cy="529.5" r="6.5" fill="#8c8cb9"/>
<circle cx="360" cy="555.5" r="4.5" fill="#b15040"/>
<circle cx="288.5" cy="500" r="5.5" fill="#d56646"/>
<circle cx="336.5" cy="514" r="4" fill="#6f88bf"/>
<circle cx="393.5" cy="482.5" r="6.5" fill="#da644e"/>
<circle cx="302.5" cy="540" r="4" fill="#ce634a"/>
<circle cx="369" cy="491.5" r="6.5" fill="#ca5f3a"/>
<circle cx="275" cy="510" r="5.5" fill="#cf6b46"/>
<circle cx="339.5" cy="549" r="4.5" fill="#9292c5"/>
<circle cx="341" cy="515" r="3.5" fill="#e16d4a"/>
<circle cx="367.5" cy="528" r="5" fill="#f28962"/>
<circle cx="348" cy="459" r="3.5" fill="#ec8766"/>
<circle cx="358" cy="504" r="4.5" fill="#bf604f"/>
<circle cx="337" cy="515" r="6" fill="#6082ad"/>
<circle cx="367.5" cy="474.5" r="6" fill="#c2654c"/>
<circle cx="379.5" cy="472" r="4.5" fill="#6587b8"/>
<circle cx="372.5" cy="547.5" r="5" fill="#d16449"/>
<circle cx="272.5" cy="516" r="6" fill="#5e7fb8"/>
<circle cx="373" cy="491" r="5.5" fill="#cd623f"/>
<circle cx="287.5" cy="557.5" r="5" fill="#f38c6a"/>
<circle cx="296" cy="563.5" r="5" fill="#c66240"/>
<circle cx="311.5" cy="558" r="5.5" fill="#c25d3a"/>
<circle cx="339" cy="465.5" r="6" fill="#587cac"/>
<circle cx="297.5" cy="522.5" r="4" fill="#e57b5b"/>
<circle cx="269.5" cy="481.5" r="4" fill="#d97c5c"/>
<circle cx="315" cy="468.5" r="4.5" fill="#d36d4e"/>
<circle cx="388.5" cy="512.5" r="4.5" fill="#688db6"/>
<circle cx="314.5" cy="496" r="6" fill="#ef8f67"/>
<circle cx="282" cy="521.5" r="3.5" fill="#b65443"/>
<circle cx="353" cy="537" r="3.5" fill="#da6d4e"/>
<circle cx="378" cy="549.5" r="6.5" fill="#c86350"/>
<circle cx="315.5" cy="481.5" r="6.5" fill="#e07154"/>
<circle cx="279.5" cy="531.5" r="5.5" fill="#e78163"/>
<circle cx="350" cy="469" r="3.5" fill="#b95443"/>
<circle cx="360" cy="552" r="4" fill="#d87950"/>
<circle cx="271.5" cy="524" r="4" fill="#6280ba"/>
<circle cx="367.5" cy="536" r="4.5" fill="#c45c33"/>
<circle cx="303" cy="497" r="3.5" fill="#d66f46"/>
<circle cx="279" cy="480.5" r="4" fill="#df785c"/>
<circle cx="342" cy="552.5" r="5" fill="#c76142"/>
<circle cx="311.5" cy="528" r="6" fill="#c45934"/>
<circle cx="387.5" cy="533.5" r="5" fill="#d66c46"/>
<circle cx="295.5" cy="492.5" r="6" fill="#cf6648"/>
<circle cx="387" cy="458.5" r="5.5" fill="#ca5e3f"/>
<circle cx="331" cy="496" r="5.5" fill="#8890ba"/>
<circle cx="290.5" cy="517" r="5.5" fill="#d4654b"/>
<circle cx="308" cy="486.5" r="5.5" fill="#b65549"/>
<circle cx="373.5" cy="532" r="6" fill="#6482b4"/>
<circle cx="381" cy="457.5" r="5" fill="#d76d49"/>
<circle cx="370.5" cy="507.5" r="3.5" fill="#5f79b4"/>
<circle cx="332" cy="555.5" r="5" fill="#ad5045"/>
<circle cx="334.5" cy="553" r="4" fill="#d3653f"/>
<circle cx="369" cy="464.5" r="6" fill="#ca6141"/>
<circle cx="378.5" cy="490" r="6" fill="#ec835c"/>
<circle cx="336.5" cy="511.5" r="5.5" fill="#d86f57"/>
<circle cx="348" cy="464" r="4" fill="#f38a6c"/>
<circle cx="334.5" cy="528.5" r="6" fill="#6b81bd"/>
<circle cx="304.5" cy="541.5" r="4.5" fill="#8a98c1"/>
<circle cx="333.5" cy="505.5" r="5" fill="#c75b41"/>
<circle cx="292" cy="474.5" r="5" fill="#d56a4d"/>
<circle cx="313.5" cy="508.5" r="4.5" fill="#e07c57"/>
<circle cx="387" cy="531" r="5" fill="#da6e45"/>
<circle cx="288.5" cy="482.5" r="6" fill="#6d82ba"/>
<circle cx="385" cy="460.5" r="5.5" fill="#da7456"/>
<circle cx="387" cy="543" r="5" fill="#647fb3"/>
<circle cx="378" cy="477" r="6.5" fill="#d26647"/>
<circle cx="376" cy="509" r="4.5" fill="#d76c49"/>
<circle cx="324" cy="486" r="6" fill="#e17b59"/>
<circle cx="311.5" cy="530.5" r="6" fill="#6079b5"/>
<circle cx="303.5" cy="560.5" r="5" fill="#e27c61"/>
<circle cx="367.5" cy="551.5" r="4.5" fill="#da6649"/>
<circle cx="354" cy="535" r="4" fill="#b85e4e"/>
<circle cx="300" cy="471.5" r="3.5" fill="#738ac2"/>
<circle cx="280" cy="524.5" r="4.5" fill="#f18d6c"/>
<circle cx="383.5" cy="496" r="5" fill="#6b92c4"/>
<circle cx="337" cy="485.5" r="4" fill="#e3764f"/>
<circle cx="351.5" cy="553" r="6" fill="#888ec1"/>
<circle cx="359.5" cy="508.5" r="5.5" fill="#d56d45"/>
<circle cx="384" cy="504.5" r="5.5" fill="#de6a49"/>
<circle cx="389" cy="544.5" r="4.5" fill="#e17860"/>
</g>
<g fill-opacity="0.85"><circle cx="347.5" cy="547.5" r="2" fill="#8e4139"/><circle cx="272" cy="482.5" r="3" fill="#a94f33"/><circle cx="380" cy="551.5" r="2.5" fill="#5c6f9b"/><circle cx="373.5" cy="548" r="3" fill="#944a3d"/><circle cx="368.5" cy="527.5" r="3" fill="#a65032"/><circle cx="348" cy="499" r="2" fill="#a24d31"/><circle cx="340.5" cy="496" r="2" fill="#8e442f"/><circle cx="358.5" cy="550.5" r="3" fill="#894034"/><circle cx="307.5" cy="536.5" r="2" fill="#ba654f"/><circle cx="292.5" cy="488" r="3" fill="#9c4a3a"/><circle cx="323.5" cy="499" r="3" fill="#686c8f"/><circle cx="384" cy="462.5" r="2.5" fill="#566a96"/><circle cx="379" cy="482" r="3" fill="#4b6289"/><circle cx="306.5" cy="507.5" r="2.5" fill="#9f4c32"/><circle cx="273.5" cy="473.5" r="3" fill="#6b6e94"/><circle cx="361" cy="461.5" r="2" fill="#9a5343"/><circle cx="272" cy="502" r="2" fill="#b3624e"/><circle cx="393.5" cy="560.5" r="2" fill="#914436"/><circle cx="393" cy="497" r="2.5" fill="#b5664d"/><circle cx="321.5" cy="553" r="3" fill="#4f678e"/><circle cx="317.5" cy="539.5" r="3" fill="#aa583e"/><circle cx="276.5" cy="543.5" r="3" fill="#b26042"/><circle cx="284" cy="517" r="2" fill="#8a4132"/><circle cx="299" cy="463.5" r="2" fill="#8c4131"/><circle cx="326.5" cy="483" r="2.5" fill="#8b4336"/><circle cx="325" cy="514.5" r="3" fill="#bf6e55"/><circle cx="391" cy="499.5" r="2.5" fill="#4e668e"/><circle cx="329" cy="553" r="2.5" fill="#c26b4e"/><circle cx="375" cy="525" r="3" fill="#c06c4e"/><circle cx="280" cy="563" r="2.5" fill="#9f4933"/><circle cx="313" cy="529" r="3" fill="#5a70a1"/><circle cx="281" cy="468" r="2" fill="#ae523a"/><circle cx="321" cy="542" r="2" fill="#677293"/><circle cx="365" cy="497.5" r="2.5" fill="#8d4235"/><circle cx="324" cy="484" r="2" fill="#b15b42"/><circle cx="285" cy="462" r="3" fill="#a84c33"/><circle cx="279.5" cy="539.5" r="2" fill="#a65332"/><circle cx="353.5" cy="505.5" r="3" fill="#6a7293"/><circle cx="318.5" cy="546.5" r="3" fill="#a44d32"/><circle cx="303" cy="534" r="2.5" fill="#a25136"/><circle cx="385" cy="560.5" r="2.5" fill="#aa5a3f"/><circle cx="394" cy="542" r="2.5" fill="#a7513b"/><circle cx="374" cy="507" r="2" fill="#6c749a"/><circle cx="357" cy="480.5" r="2" fill="#904a3b"/><circle cx="396" cy="482.5" r="2.5" fill="#4a638f"/><circle cx="366" cy="540.5" r="3" fill="#9c5240"/><circle cx="329.5" cy="458.5" r="3" fill="#60779d"/><circle cx="379.5" cy="519.5" r="2" fill="#aa4a34"/><circle cx="286" cy="494" r="2.5" fill="#4e668c"/><circle cx="318" cy="508.5" r="3" fill="#5e739a"/><circle cx="307.5" cy="485.5" r="3" fill="#a44e39"/><circle cx="335" cy="537.5" r="3" fill="#567296"/><circle cx="364" cy="531" r="3" fill="#994942"/><circle cx="275.5" cy="539" r="2" fill="#c1725a"/><circle cx="323.5" cy="530.5" r="2.5" fill="#924e40"/><circle cx="328" cy="466" r="2.5" fill="#9f4e32"/><circle cx="290" cy="523.5" r="3" fill="#b25740"/><circle cx="273.5" cy="498" r="2.5" fill="#b15f44"/><circle cx="299.5" cy="476.5" r="2.5" fill="#51688d"/><circle cx="309.5" cy="541.5" r="3" fill="#a84e33"/><circle cx="383" cy="482" r="3" fill="#ba6a4a"/><circle cx="382" cy="530" r="3" fill="#707094"/><circle cx="359.5" cy="555.5" r="2.5" fill="#8e4033"/><circle cx="303" cy="541" r="2" fill="#a54f3b"/><circle cx="368.5" cy="492" r="3" fill="#a24c2e"/><circle cx="275" cy="510" r="2.5" fill="#a65638"/><circle cx="341" cy="514.5" r="2" fill="#b4573b"/><circle cx="367.5" cy="528.5" r="2.5" fill="#c26e4e"/><circle cx="348.5" cy="458.5" r="2" fill="#bd6c52"/><circle cx="358" cy="503.5" r="2" fill="#994d3f"/><circle cx="337.5" cy="514.5" r="3" fill="#4d688a"/><circle cx="367.5" cy="474.5" r="3" fill="#9b513d"/><circle cx="379.5" cy="471" r="2" fill="#516c93"/><circle cx="273" cy="515.5" r="3" fill="#4b6693"/><circle cx="373" cy="492" r="3" fill="#a44e32"/><circle cx="288.5" cy="558" r="2.5" fill="#c27055"/><circle cx="312" cy="558" r="2.5" fill="#9b4a2e"/><circle cx="339.5" cy="465" r="3" fill="#46638a"/><circle cx="297" cy="523" r="2" fill="#b76249"/><circle cx="314" cy="468" r="2.5" fill="#a9573e"/><circle cx="387.5" cy="511.5" r="2.5" fill="#537192"/><circle cx="315" cy="496" r="3" fill="#bf7252"/><circle cx="352" cy="537" r="2" fill="#ae573e"/><circle cx="378" cy="550" r="3" fill="#a04f40"/><circle cx="279.5" cy="531.5" r="2.5" fill="#b9674f"/><circle cx="359.5" cy="552.5" r="2" fill="#ad6140"/><circle cx="367" cy="536.5" r="2.5" fill="#9d4a29"/><circle cx="302.5" cy="497.5" r="2" fill="#ab5938"/><circle cx="291" cy="516.5" r="3" fill="#aa513c"/><circle cx="308" cy="486" r="2.5" fill="#92443a"/><circle cx="374" cy="531.5" r="3" fill="#506890"/><circle cx="370.5" cy="508.5" r="2" fill="#4c6190"/><circle cx="331" cy="556" r="2.5" fill="#8a4037"/><circle cx="334.5" cy="552.5" r="2" fill="#a95132"/><circle cx="378" cy="489.5" r="3" fill="#bd694a"/><circle cx="349" cy="464" r="2" fill="#c26e56"/><circle cx="334.5" cy="527.5" r="3" fill="#566797"/><circle cx="303.5" cy="540.5" r="2.5" fill="#6e7a9a"/><circle cx="334.5" cy="505.5" r="2.5" fill="#9f4934"/><circle cx="291.5" cy="475" r="2.5" fill="#aa553e"/><circle cx="289.5" cy="482.5" r="3" fill="#576895"/><circle cx="385" cy="460" r="3" fill="#ae5d45"/><circle cx="386" cy="544" r="2.5" fill="#50668f"/><circle cx="376.5" cy="509.5" r="2" fill="#ac563a"/><circle cx="323" cy="486" r="3" fill="#b46247"/><circle cx="304.5" cy="561" r="2.5" fill="#b5634e"/><circle cx="301" cy="470.5" r="2" fill="#5c6e9b"/><circle cx="351" cy="554" r="3" fill="#6d729a"/><circle cx="384" cy="504" r="3" fill="#b2553a"/></g>
<circle cx="352" cy="532" r="9.5" fill="#b05848" fill-opacity="0.85" stroke="#f8eaea" stroke-opacity="0.4"/>
<circle cx="350" cy="538" r="4.5" fill="#a75642" fill-opacity="0.68"/>
<circle cx="353.5" cy="538" r="4.5" fill="#a85743" fill-opacity="0.68"/>
<circle cx="356.5" cy="533.5" r="5" fill="#a64b33" fill-opacity="0.68"/>
<circle cx="351.5" cy="538" r="4.5" fill="#bc5f57" fill-opacity="0.68"/>
<circle cx="356" cy="533" r="4.5" fill="#a8503f" fill-opacity="0.68"/>
<circle cx="351" cy="533.5" r="3.5" fill="#4f2f46" fill-opacity="0.55"/>
<circle cx="350.5" cy="530" r="3.5" fill="#502143" fill-opacity="0.55"/>
<circle cx="352" cy="533.5" r="4" fill="#52254b" fill-opacity="0.55"/>
<circle cx="285" cy="483" r="7" fill="#b85a48" fill-opacity="0.85" stroke="#f8eaea" stroke-opacity="0.4"/>
<circle cx="283" cy="480.5" r="4" fill="#af4e40" fill-opacity="0.68"/>
<circle cx="289" cy="482" r="3" fill="#ba564a" fill-opacity="0.68"/>
<circle cx="289" cy="482.5" r="3.5" fill="#b65949" fill-opacity="0.68"/>
<circle cx="286.5" cy="487" r="3.5" fill="#be5c4f" fill-opacity="0.68"/>
<circle cx="288" cy="481.5" r="4" fill="#b95b43" fill-opacity="0.68"/>
<circle cx="286" cy="484" r="3" fill="#833747" fill-opacity="0.55"/>
<circle cx="284" cy="482.5" r="2.5" fill="#8c444a" fill-opacity="0.55"/>
<circle cx="284.5" cy="484" r="3.5" fill="#90444f" fill-opacity="0.55"/>
<circle cx="325" cy="505" r="8" fill="#b86050" fill-opacity="0.8" stroke="#f8eaea" stroke-opacity="0.4"/>
<circle cx="324" cy="508" r="4" fill="#ac5746" fill-opacity="0.64"/>
<circle cx="328" cy="503" r="4.5" fill="#bc695e" fill-opacity="0.64"/>
<circle cx="322" cy="506" r="4" fill="#be6e58" fill-opacity="0.64"/>
<circle cx="324" cy="500" r="3.5" fill="#c4745d" fill-opacity="0.64"/>
<circle cx="320" cy="504" r="4.5" fill="#b15e4c" fill-opacity="0.64"/>
<circle cx="325" cy="505.5" r="3" fill="#7b4e6f" fill-opacity="0.55"/>
<circle cx="326" cy="504.5" r="2.5" fill="#7e546e" fill-opacity="0.55"/>
<circle cx="326" cy="506.5" r="4" fill="#7d5b7e" fill-opacity="0.55"/>
<circle cx="296" cy="535" r="6" fill="#b86a58" fill-opacity="0.8" stroke="#f8eaea" stroke-opacity="0.4"/>
<circle cx="294" cy="538.5" r="3.5" fill="#be735a" fill-opacity="0.64"/>
<circle cx="299" cy="534" r="2.5" fill="#b56c59" fill-opacity="0.64"/>
<circle cx="298.5" cy="537" r="3.5" fill="#b86e57" fill-opacity="0.64"/>
<circle cx="293" cy="537.5" r="3.5" fill="#ae5f4e" fill-opacity="0.64"/>
<circle cx="293" cy="533.5" r="3" fill="#a95a44" fill-opacity="0.64"/>
<circle cx="300" cy="478" r="5" fill="#5a78b0" fill-opacity="0.85" stroke="#f8eaea" stroke-opacity="0.4"/>
<circle cx="320" cy="485" r="5.5" fill="#6a88c0" fill-opacity="0.85" stroke="#f8eaea" stroke-opacity="0.4"/>
<circle cx="319" cy="487.5" r="2.5" fill="#647ebd" fill-opacity="0.68"/>
<circle cx="317" cy="486.5" r="2.5" fill="#7592cb" fill-opacity="0.68"/>
<circle cx="319.5" cy="488.5" r="3" fill="#6481c2" fill-opacity="0.68"/>
<circle cx="320.5" cy="487.5" r="3" fill="#6f8fca" fill-opacity="0.68"/>
<circle cx="323" cy="486" r="2.5" fill="#6785c2" fill-opacity="0.68"/>
<circle cx="355" cy="510" r="5.5" fill="#8aa0cc" fill-opacity="0.8" stroke="#f8eaea" stroke-opacity="0.4"/>
<circle cx="357" cy="511" r="2.5" fill="#8aa2cf" fill-opacity="0.64"/>
<circle cx="353.5" cy="508" r="2.5" fill="#91a3ce" fill-opacity="0.64"/>
<circle cx="353.5" cy="508" r="3" fill="#8499bd" fill-opacity="0.64"/>
<circle cx="357" cy="508.5" r="2.5" fill="#8896cc" fill-opacity="0.64"/>
<circle cx="352.5" cy="511.5" r="2.5" fill="#8a9ec8" fill-opacity="0.64"/>
<circle cx="342" cy="515" r="5" fill="#5a78b0" fill-opacity="0.85" stroke="#f8eaea" stroke-opacity="0.4"/>
<circle cx="300" cy="530" r="5.5" fill="#6a80b8" fill-opacity="0.85" stroke="#f8eaea" stroke-opacity="0.4"/>
<circle cx="299.5" cy="532.5" r="2.5" fill="#728dc5" fill-opacity="0.68"/>
<circle cx="297" cy="532" r="2.5" fill="#6779b0" fill-opacity="0.68"/>
<circle cx="302.5" cy="530" r="3.5" fill="#7786c0" fill-opacity="0.68"/>
<circle cx="302.5" cy="530" r="2.5" fill="#6e7db6" fill-opacity="0.68"/>
<circle cx="300" cy="527" r="3" fill="#6678b0" fill-opacity="0.68"/>
<circle cx="365" cy="490" r="5" fill="#98b0d8" fill-opacity="0.8" stroke="#f8eaea" stroke-opacity="0.4"/>
<circle cx="380" cy="490" r="5.5" fill="#c86a50" fill-opacity="0.8" stroke="#f8eaea" stroke-opacity="0.4"/>
<circle cx="379" cy="488" r="2.5" fill="#d27a62" fill-opacity="0.64"/>
<circle cx="383" cy="491.5" r="3" fill="#cf7050" fill-opacity="0.64"/>
<circle cx="377.5" cy="488" r="3" fill="#ce6e54" fill-opacity="0.64"/>
<circle cx="379.5" cy="493" r="3" fill="#d6735f" fill-opacity="0.64"/>
<circle cx="380.5" cy="488" r="2.5" fill="#c36c54" fill-opacity="0.64"/>
<circle cx="378" cy="515" r="5.5" fill="#b86050" fill-opacity="0.75" stroke="#f8eaea" stroke-opacity="0.4"/>
<circle cx="378" cy="512" r="3" fill="#ae5841" fill-opacity="0.60"/>
<circle cx="378" cy="517.5" r="3" fill="#be6150" fill-opacity="0.60"/>
<circle cx="377" cy="512" r="2.5" fill="#c56e5c" fill-opacity="0.60"/>
<circle cx="375" cy="515.5" r="2.5" fill="#c1665c" fill-opacity="0.60"/>
<circle cx="378" cy="518.5" r="2.5" fill="#b76150" fill-opacity="0.60"/>
</g>
<path d="M326 464.5H388.5" stroke="#6a4a5a" stroke-opacity="0.16" stroke-width="1"/>
<rect x="355" y="465" width="5" height="2" fill="#fff"/>
</g>
<clipPath id="c41"><rect x="400" y="461" width="119.5" height="99"/></clipPath>
<g clip-path="url(#c41)"><rect x="400" y="461" width="119.5" height="99" fill="#f4e4e4"/><g filter="url(#bl)">
<g fill-opacity="0.7" stroke="#faeeee" stroke-opacity="0" stroke-width="1">
<circle cx="469" cy="503" r="3.5" fill="#f49e7b"/>
<circle cx="469.5" cy="479" r="3" fill="#f38e66"/>
<circle cx="499.5" cy="545" r="4.5" fill="#f4885e"/>
<circle cx="479.5" cy="474" r="3" fill="#ee825b"/>
<circle cx="462.5" cy="492" r="4" fill="#eb9677"/>
<circle cx="428" cy="559" r="5" fill="#f0c9ca"/>
<circle cx="523" cy="462" r="5" fill="#f08461"/>
<circle cx="505.5" cy="521.5" r="4.5" fill="#e7b8bb"/>
<circle cx="444.5" cy="487.5" r="3.5" fill="#e27859"/>
<circle cx="482" cy="506" r="5.5" fill="#f0a07b"/>
<circle cx="483.5" cy="528" r="4.5" fill="#f3865d"/>
<circle cx="413" cy="539" r="4" fill="#dfb9bd"/>
<circle cx="521.5" cy="560.5" r="4" fill="#f88e62"/>
<circle cx="474" cy="461.5" r="6" fill="#f8a57e"/>
<circle cx="396.5" cy="471.5" r="4.5" fill="#f9a180"/>
<circle cx="516" cy="489.5" r="3.5" fill="#faa785"/>
<circle cx="442.5" cy="553" r="4" fill="#f4cfd0"/>
<circle cx="436" cy="515.5" r="3.5" fill="#ef7f59"/>
<circle cx="451.5" cy="464" r="3.5" fill="#ea9776"/>
<circle cx="470.5" cy="547.5" r="3" fill="#ef895b"/>
<circle cx="416" cy="481" r="5" fill="#f4a980"/>
<circle cx="448.5" cy="461" r="3" fill="#e0966f"/>
<circle cx="459.5" cy="544.5" r="4.5" fill="#e3b9ba"/>
<circle cx="480" cy="514" r="4" fill="#feaa86"/>
<circle cx="505" cy="473" r="3.5" fill="#ed9e7c"/>
<circle cx="468.5" cy="497" r="3" fill="#f38560"/>
<circle cx="472.5" cy="469" r="4" fill="#f1a383"/>
<circle cx="495" cy="467.5" r="4" fill="#e07352"/>
<circle cx="417" cy="543.5" r="4" fill="#f19c77"/>
<circle cx="517" cy="503.5" r="5" fill="#f69c7c"/>
<circle cx="449" cy="483.5" r="5" fill="#e27f5e"/>
<circle cx="431" cy="523" r="3" fill="#eb8267"/>
<circle cx="419" cy="470" r="5" fill="#e47555"/>
<circle cx="454" cy="474.5" r="3.5" fill="#f0cdc9"/>
<circle cx="478.5" cy="545" r="4.5" fill="#f0ccc8"/>
<circle cx="495" cy="508.5" r="4" fill="#e47958"/>
<circle cx="440.5" cy="503.5" r="4.5" fill="#f68e68"/>
<circle cx="396.5" cy="533" r="5" fill="#ef8e69"/>
<circle cx="438.5" cy="491" r="5" fill="#f1cccb"/>
<circle cx="406" cy="505" r="4.5" fill="#e4b5b7"/>
<circle cx="470.5" cy="499" r="4.5" fill="#dd7d53"/>
<circle cx="507" cy="529" r="4.5" fill="#e9bec1"/>
<circle cx="427" cy="513" r="5" fill="#eec2c5"/>
<circle cx="512" cy="512.5" r="3" fill="#e97d59"/>
<circle cx="473" cy="463.5" r="5" fill="#ec8e72"/>
<circle cx="458.5" cy="506.5" r="5.5" fill="#e17e54"/>
<circle cx="447" cy="502" r="5" fill="#ea805b"/>
<circle cx="470.5" cy="514.5" r="4" fill="#f7a582"/>
<circle cx="458.5" cy="474.5" r="3.5" fill="#de7f5b"/>
<circle cx="452.5" cy="560.5" r="4" fill="#e5baba"/>
<circle cx="449" cy="461" r="4.5" fill="#df7e59"/>
<circle cx="396.5" cy="514.5" r="5" fill="#f2cbc5"/>
<circle cx="402.5" cy="467" r="5" fill="#e8795a"/>
<circle cx="410" cy="505.5" r="4" fill="#df7959"/>
<circle cx="522.5" cy="509" r="6" fill="#faa57e"/>
<circle cx="454.5" cy="503.5" r="5.5" fill="#e9966f"/>
<circle cx="460" cy="505" r="4.5" fill="#f0a576"/>
<circle cx="488.5" cy="553" r="5" fill="#ed9673"/>
<circle cx="485" cy="502.5" r="3.5" fill="#f79d7f"/>
<circle cx="479" cy="554.5" r="6" fill="#e57f5d"/>
<circle cx="415.5" cy="482.5" r="6" fill="#f89f81"/>
<circle cx="475" cy="530.5" r="3" fill="#eccbc6"/>
<circle cx="478" cy="520" r="3.5" fill="#f08762"/>
<circle cx="502" cy="508" r="4.5" fill="#eac4c4"/>
<circle cx="499" cy="560" r="5" fill="#dfb9be"/>
<circle cx="451.5" cy="549" r="3.5" fill="#dd7956"/>
<circle cx="487.5" cy="552" r="4" fill="#e5c5bf"/>
<circle cx="402" cy="554.5" r="4" fill="#e2babe"/>
<circle cx="494" cy="560" r="4.5" fill="#efc0be"/>
<circle cx="521" cy="487.5" r="6" fill="#f2a77d"/>
<circle cx="481.5" cy="472" r="5" fill="#e47e5c"/>
<circle cx="472" cy="555.5" r="5.5" fill="#f68666"/>
<circle cx="420.5" cy="494.5" r="4.5" fill="#ed8f6e"/>
<circle cx="406" cy="478" r="5" fill="#e6bdb5"/>
<circle cx="422.5" cy="467.5" r="5.5" fill="#ea9772"/>
<circle cx="523.5" cy="552" r="4" fill="#f18466"/>
<circle cx="455" cy="536.5" r="5" fill="#e9c9c2"/>
<circle cx="484.5" cy="513" r="6" fill="#faa383"/>
<circle cx="450" cy="528" r="4" fill="#e57d5d"/>
<circle cx="467" cy="485.5" r="3.5" fill="#e0b9c2"/>
<circle cx="442.5" cy="524" r="5.5" fill="#e37452"/>
<circle cx="476" cy="479.5" r="4" fill="#edbdc5"/>
<circle cx="473.5" cy="550.5" r="3" fill="#f18861"/>
<circle cx="507" cy="527" r="5" fill="#e99174"/>
<circle cx="405" cy="502.5" r="4.5" fill="#ed9b73"/>
<circle cx="407.5" cy="463" r="5.5" fill="#faa681"/>
<circle cx="428.5" cy="506" r="4.5" fill="#e27f5e"/>
<circle cx="493" cy="524.5" r="3.5" fill="#dcb7b8"/>
<circle cx="432" cy="531.5" r="5.5" fill="#e59774"/>
<circle cx="460.5" cy="511.5" r="4.5" fill="#f8a17d"/>
<circle cx="429.5" cy="504.5" r="4" fill="#eb9476"/>
<circle cx="439.5" cy="534.5" r="4.5" fill="#e27c58"/>
<circle cx="457.5" cy="505" r="5.5" fill="#e2b6be"/>
<circle cx="457" cy="508.5" r="4.5" fill="#eb9879"/>
<circle cx="484" cy="534" r="3.5" fill="#f38c68"/>
<circle cx="498" cy="500.5" r="5.5" fill="#f38a63"/>
<circle cx="497" cy="560" r="5" fill="#ef8265"/>
<circle cx="522.5" cy="534" r="3.5" fill="#eba172"/>
<circle cx="404.5" cy="547.5" r="5" fill="#ddb5bb"/>
<circle cx="502.5" cy="458.5" r="5" fill="#f0886a"/>
<circle cx="438" cy="491.5" r="5" fill="#ddb4b8"/>
<circle cx="490.5" cy="522.5" r="3.5" fill="#f09977"/>
<circle cx="432" cy="477" r="3.5" fill="#e97f62"/>
<circle cx="417.5" cy="467" r="4" fill="#dfb2bb"/>
<circle cx="497" cy="557" r="4" fill="#f8a47f"/>
<circle cx="424" cy="536.5" r="4" fill="#f38a67"/>
<circle cx="517.5" cy="477.5" r="3" fill="#f4997c"/>
<circle cx="469" cy="504" r="6" fill="#ecc3c6"/>
<circle cx="520.5" cy="550" r="3.5" fill="#f8a885"/>
<circle cx="398" cy="478.5" r="5.5" fill="#e8845b"/>
<circle cx="504" cy="518.5" r="3" fill="#ec9b73"/>
<circle cx="462.5" cy="543.5" r="6" fill="#f2a782"/>
<circle cx="493.5" cy="559" r="3.5" fill="#ec977b"/>
<circle cx="437.5" cy="462" r="3.5" fill="#ef996e"/>
<circle cx="484.5" cy="462.5" r="4.5" fill="#e9936e"/>
<circle cx="468" cy="549" r="4.5" fill="#f0cbc8"/>
<circle cx="446.5" cy="521.5" r="3.5" fill="#ecc9c4"/>
<circle cx="418" cy="474" r="5.5" fill="#e89370"/>
<circle cx="473.5" cy="549.5" r="3.5" fill="#f68f65"/>
<circle cx="523.5" cy="460.5" r="4" fill="#e68356"/>
<circle cx="513.5" cy="511.5" r="4" fill="#fb9e7b"/>
<circle cx="440.5" cy="499.5" r="5" fill="#ef9b75"/>
<circle cx="469.5" cy="494" r="6" fill="#e88263"/>
<circle cx="414.5" cy="549.5" r="4.5" fill="#e99a76"/>
<circle cx="486" cy="522.5" r="4.5" fill="#f4866a"/>
<circle cx="488" cy="562.5" r="5" fill="#e9805c"/>
<circle cx="418.5" cy="545" r="4.5" fill="#f3a381"/>
<circle cx="501" cy="493.5" r="5" fill="#e7bfbc"/>
<circle cx="467" cy="506" r="4.5" fill="#e57b5a"/>
<circle cx="421" cy="503.5" r="3.5" fill="#eb9975"/>
<circle cx="415.5" cy="556.5" r="6" fill="#ef8c6a"/>
<circle cx="420" cy="525" r="5.5" fill="#e68057"/>
<circle cx="468.5" cy="561.5" r="5" fill="#f5a076"/>
<circle cx="497" cy="495.5" r="4" fill="#eec6cd"/>
<circle cx="444" cy="462.5" r="3" fill="#fea085"/>
<circle cx="402.5" cy="490.5" r="3" fill="#f39a75"/>
<circle cx="517" cy="462.5" r="4.5" fill="#ed9872"/>
<circle cx="418.5" cy="525" r="3.5" fill="#e8865b"/>
<circle cx="442" cy="477" r="6" fill="#e09370"/>
<circle cx="517" cy="461.5" r="3.5" fill="#e99e71"/>
<circle cx="472.5" cy="503" r="4.5" fill="#e9c5be"/>
<circle cx="440" cy="478" r="4.5" fill="#e1815b"/>
<circle cx="417" cy="500.5" r="4" fill="#f6a87b"/>
<circle cx="492" cy="507" r="4.5" fill="#f1c4c7"/>
<circle cx="495" cy="551" r="4.5" fill="#ec9574"/>
<circle cx="418" cy="551" r="5" fill="#fa8f67"/>
<circle cx="470" cy="502" r="5" fill="#f9906f"/>
<circle cx="461.5" cy="552" r="6" fill="#f3a883"/>
<circle cx="446" cy="467" r="5.5" fill="#e38a72"/>
<circle cx="518.5" cy="469.5" r="4.5" fill="#ddb1b7"/>
<circle cx="409.5" cy="534" r="3.5" fill="#e07f54"/>
<circle cx="435.5" cy="488" r="5" fill="#e77857"/>
<circle cx="479" cy="552.5" r="4" fill="#feaa87"/>
<circle cx="440" cy="554" r="3.5" fill="#eac0c5"/>
<circle cx="475" cy="522" r="3" fill="#e5c1bf"/>
<circle cx="464" cy="458.5" r="4" fill="#f7a782"/>
<circle cx="416" cy="529.5" r="5" fill="#e1825e"/>
<circle cx="484.5" cy="467.5" r="4.5" fill="#f59367"/>
<circle cx="477" cy="508" r="5" fill="#f7946e"/>
<circle cx="469.5" cy="499.5" r="5.5" fill="#e6946e"/>
<circle cx="424" cy="495" r="4" fill="#e69472"/>
<circle cx="519.5" cy="477" r="4" fill="#ed9b78"/>
<circle cx="506" cy="514" r="5.5" fill="#ea926d"/>
<circle cx="405.5" cy="544" r="6" fill="#f5a582"/>
<circle cx="398" cy="546.5" r="3.5" fill="#f9aa80"/>
<circle cx="439" cy="555.5" r="5.5" fill="#ffa87e"/>
<circle cx="488.5" cy="495.5" r="4" fill="#f18563"/>
<circle cx="475.5" cy="562.5" r="4.5" fill="#f78b67"/>
<circle cx="418" cy="479" r="3" fill="#df7c5b"/>
<circle cx="433" cy="545" r="4.5" fill="#f2cacc"/>
</g>
<g fill-opacity="0.7"><circle cx="468" cy="502" r="2" fill="#c37e62"/><circle cx="499.5" cy="545" r="2" fill="#c36d4b"/><circle cx="461.5" cy="491.5" r="2" fill="#bc785f"/><circle cx="428" cy="559.5" r="2.5" fill="#c0a1a2"/><circle cx="481.5" cy="505.5" r="2.5" fill="#c08062"/><circle cx="473.5" cy="461.5" r="3" fill="#c68465"/><circle cx="397.5" cy="471" r="2" fill="#c78166"/><circle cx="451.5" cy="463.5" r="2" fill="#bb795e"/><circle cx="416" cy="482" r="2.5" fill="#c38766"/><circle cx="480" cy="514" r="2" fill="#cb886b"/><circle cx="472" cy="470" r="2" fill="#c18269"/><circle cx="495" cy="467" r="2" fill="#b35c42"/><circle cx="517" cy="504" r="2.5" fill="#c57d63"/><circle cx="449" cy="483" r="2.5" fill="#b5664b"/><circle cx="418.5" cy="470.5" r="2.5" fill="#b65e44"/><circle cx="479" cy="544" r="2" fill="#c0a3a0"/><circle cx="495.5" cy="509" r="2" fill="#b66146"/><circle cx="439" cy="492" r="2.5" fill="#c1a3a2"/><circle cx="470.5" cy="499.5" r="2" fill="#b16442"/><circle cx="446.5" cy="503" r="2.5" fill="#bb6649"/><circle cx="470.5" cy="514" r="2" fill="#c68468"/><circle cx="453" cy="560" r="2" fill="#b79595"/><circle cx="450" cy="460" r="2.5" fill="#b26547"/><circle cx="487.5" cy="554" r="2.5" fill="#be785c"/><circle cx="479" cy="553.5" r="3" fill="#b7664a"/><circle cx="415.5" cy="483" r="3" fill="#c67f67"/><circle cx="502" cy="508" r="2.5" fill="#bb9d9d"/><circle cx="401" cy="555.5" r="2" fill="#b59598"/><circle cx="493.5" cy="559" r="2.5" fill="#bf9a98"/><circle cx="481" cy="471.5" r="2.5" fill="#b6654a"/><circle cx="421" cy="495.5" r="2" fill="#be7258"/><circle cx="455.5" cy="536.5" r="2.5" fill="#baa19b"/><circle cx="443" cy="525" r="3" fill="#b65d42"/><circle cx="506.5" cy="526.5" r="2.5" fill="#ba745d"/><circle cx="429" cy="505.5" r="2" fill="#b5664b"/><circle cx="431.5" cy="531.5" r="2.5" fill="#b7795d"/><circle cx="461" cy="512" r="2" fill="#c68164"/><circle cx="440.5" cy="534.5" r="2.5" fill="#b56346"/><circle cx="457" cy="505.5" r="3" fill="#b59298"/><circle cx="489.5" cy="522.5" r="2" fill="#c07a5f"/><circle cx="418" cy="467.5" r="2" fill="#b28e96"/><circle cx="424.5" cy="536" r="2" fill="#c26e52"/><circle cx="485.5" cy="461.5" r="2.5" fill="#ba7658"/><circle cx="418.5" cy="473" r="2.5" fill="#ba765a"/><circle cx="513.5" cy="511.5" r="2" fill="#c97e62"/><circle cx="470.5" cy="493" r="3" fill="#ba684f"/><circle cx="487.5" cy="563.5" r="2.5" fill="#ba664a"/><circle cx="419" cy="545" r="2.5" fill="#c28267"/><circle cx="502" cy="493.5" r="2.5" fill="#b99996"/><circle cx="466.5" cy="506.5" r="2" fill="#b76248"/><circle cx="420.5" cy="503.5" r="2" fill="#bc7a5e"/><circle cx="415" cy="556" r="3" fill="#bf7055"/><circle cx="418.5" cy="525.5" r="2" fill="#ba6b49"/><circle cx="443" cy="477" r="3" fill="#b3765a"/><circle cx="440" cy="478.5" r="2" fill="#b46749"/><circle cx="416.5" cy="501" r="2" fill="#c58662"/><circle cx="496" cy="550.5" r="2" fill="#bd775d"/><circle cx="418" cy="552" r="2.5" fill="#c87252"/><circle cx="445.5" cy="466.5" r="2.5" fill="#b66e5b"/><circle cx="436.5" cy="489" r="2.5" fill="#b96046"/><circle cx="464" cy="458.5" r="2" fill="#c68668"/><circle cx="416" cy="530" r="2.5" fill="#b4684b"/><circle cx="484" cy="466.5" r="2" fill="#c47652"/><circle cx="477" cy="507.5" r="2.5" fill="#c67658"/><circle cx="468.5" cy="500.5" r="2.5" fill="#b87658"/><circle cx="519.5" cy="477.5" r="2" fill="#be7c60"/><circle cx="506.5" cy="513.5" r="2.5" fill="#bb7557"/><circle cx="405" cy="544" r="3" fill="#c48468"/><circle cx="488" cy="495" r="2" fill="#c16a4f"/><circle cx="475.5" cy="563" r="2.5" fill="#c66f52"/><circle cx="433.5" cy="544" r="2.5" fill="#c2a2a3"/></g>
<g fill-opacity="0.75" stroke="#faeeee" stroke-opacity="0.35" stroke-width="1">
<circle cx="523" cy="475.5" r="4" fill="#f48a6a"/>
<circle cx="447.5" cy="496" r="4" fill="#e68c66"/>
<circle cx="433.5" cy="466.5" r="3.5" fill="#e5946c"/>
<circle cx="515.5" cy="557.5" r="5" fill="#e1906b"/>
<circle cx="514" cy="522.5" r="4.5" fill="#97a8cb"/>
<circle cx="417.5" cy="525" r="5" fill="#e5916e"/>
<circle cx="511" cy="492.5" r="4.5" fill="#ea8f62"/>
<circle cx="406.5" cy="531" r="4.5" fill="#9ba2cf"/>
<circle cx="496" cy="502" r="4" fill="#ea7c59"/>
<circle cx="468.5" cy="531" r="5" fill="#e8845b"/>
<circle cx="462.5" cy="551.5" r="4" fill="#ea7a59"/>
<circle cx="429.5" cy="477" r="4.5" fill="#e37a5e"/>
<circle cx="488.5" cy="552.5" r="4.5" fill="#fda078"/>
<circle cx="518.5" cy="472" r="4" fill="#ee9a73"/>
<circle cx="443.5" cy="481.5" r="4.5" fill="#7189b8"/>
<circle cx="466" cy="486.5" r="3.5" fill="#e07d50"/>
<circle cx="485" cy="508" r="3.5" fill="#e58867"/>
<circle cx="492.5" cy="525" r="3.5" fill="#7c8bbd"/>
<circle cx="514.5" cy="494" r="4.5" fill="#dd7551"/>
<circle cx="487.5" cy="518" r="4.5" fill="#f18967"/>
<circle cx="458.5" cy="486.5" r="5.5" fill="#e77b58"/>
<circle cx="445" cy="543.5" r="5" fill="#e17b57"/>
<circle cx="482" cy="528.5" r="3.5" fill="#e38056"/>
<circle cx="479.5" cy="500" r="4" fill="#949cc9"/>
<circle cx="496.5" cy="536" r="4.5" fill="#f5a274"/>
<circle cx="507" cy="541" r="4.5" fill="#a0b4d9"/>
<circle cx="470.5" cy="537" r="4" fill="#eb7c56"/>
<circle cx="405.5" cy="558.5" r="4" fill="#ec8463"/>
<circle cx="445" cy="475" r="4.5" fill="#de7853"/>
<circle cx="402.5" cy="529" r="5" fill="#f49275"/>
<circle cx="422" cy="536" r="5.5" fill="#8091c3"/>
<circle cx="438" cy="499.5" r="4" fill="#f99977"/>
<circle cx="442" cy="539" r="5.5" fill="#7794c0"/>
<circle cx="523.5" cy="555" r="4.5" fill="#7288b8"/>
<circle cx="405.5" cy="469.5" r="4.5" fill="#889dc0"/>
<circle cx="470" cy="545.5" r="5.5" fill="#f18e66"/>
<circle cx="501" cy="527" r="3.5" fill="#879dcb"/>
<circle cx="504.5" cy="520.5" r="3.5" fill="#ed9063"/>
<circle cx="460.5" cy="459" r="5" fill="#f99976"/>
<circle cx="501.5" cy="477" r="5" fill="#f99e7c"/>
<circle cx="438.5" cy="519" r="5" fill="#798eba"/>
<circle cx="433" cy="558.5" r="5" fill="#f58f6e"/>
<circle cx="522" cy="468.5" r="4" fill="#f48962"/>
<circle cx="501" cy="495.5" r="4.5" fill="#718ab2"/>
<circle cx="441.5" cy="496" r="4" fill="#fe9a7e"/>
<circle cx="508.5" cy="485" r="4.5" fill="#758abc"/>
<circle cx="511" cy="533" r="4.5" fill="#f0815c"/>
<circle cx="423.5" cy="458.5" r="4" fill="#728eb7"/>
<circle cx="478.5" cy="520" r="4" fill="#dd7051"/>
<circle cx="418" cy="468" r="5.5" fill="#e78458"/>
<circle cx="517.5" cy="505" r="4.5" fill="#e08b69"/>
<circle cx="494" cy="459" r="4.5" fill="#7a88b8"/>
<circle cx="430.5" cy="503" r="4.5" fill="#f59176"/>
<circle cx="442" cy="523" r="4" fill="#e18964"/>
<circle cx="516" cy="512.5" r="4.5" fill="#ef8e73"/>
<circle cx="513.5" cy="515.5" r="4.5" fill="#e38768"/>
<circle cx="496" cy="479.5" r="4" fill="#f18660"/>
<circle cx="449" cy="516.5" r="4" fill="#7188b9"/>
<circle cx="405.5" cy="541.5" r="4.5" fill="#faa280"/>
<circle cx="422" cy="560" r="4.5" fill="#6e8cb6"/>
</g>
<g fill-opacity="0.75"><circle cx="523" cy="476.5" r="2" fill="#c36e55"/><circle cx="448" cy="495" r="2" fill="#b87052"/><circle cx="515" cy="522.5" r="2.5" fill="#7986a2"/><circle cx="418.5" cy="525" r="2.5" fill="#b77458"/><circle cx="511" cy="493" r="2.5" fill="#bb724e"/><circle cx="407.5" cy="530.5" r="2" fill="#7c82a6"/><circle cx="469" cy="531" r="2.5" fill="#ba6a49"/><circle cx="430" cy="477.5" r="2.5" fill="#b6624b"/><circle cx="488.5" cy="552" r="2.5" fill="#ca8060"/><circle cx="518" cy="471.5" r="2" fill="#be7b5c"/><circle cx="465.5" cy="486.5" r="2" fill="#b36440"/><circle cx="492" cy="526" r="2" fill="#636f97"/><circle cx="488" cy="518.5" r="2" fill="#c16e52"/><circle cx="445" cy="543" r="2.5" fill="#b46246"/><circle cx="481" cy="528.5" r="2" fill="#b66645"/><circle cx="480" cy="500.5" r="2" fill="#767da1"/><circle cx="496.5" cy="535" r="2" fill="#c4825d"/><circle cx="507" cy="540" r="2" fill="#8090ae"/><circle cx="471.5" cy="536" r="2" fill="#bc6345"/><circle cx="405.5" cy="558.5" r="2" fill="#bd6a4f"/><circle cx="445" cy="476" r="2.5" fill="#b26042"/><circle cx="421" cy="535.5" r="2.5" fill="#66749c"/><circle cx="405" cy="470" r="2.5" fill="#6d7e9a"/><circle cx="471" cy="546" r="2.5" fill="#c17252"/><circle cx="501.5" cy="526" r="2" fill="#6c7ea2"/><circle cx="460.5" cy="459.5" r="2.5" fill="#c77a5e"/><circle cx="438" cy="519.5" r="2.5" fill="#617295"/><circle cx="433.5" cy="559.5" r="2.5" fill="#c47258"/><circle cx="522" cy="468.5" r="2" fill="#c36e4e"/><circle cx="500" cy="495" r="2.5" fill="#5a6e8e"/><circle cx="442" cy="496.5" r="2" fill="#cb7b65"/><circle cx="509" cy="486" r="2" fill="#5e6e96"/><circle cx="511" cy="533.5" r="2" fill="#c0674a"/><circle cx="424" cy="459.5" r="2" fill="#5b7292"/><circle cx="478" cy="519.5" r="2" fill="#b15a41"/><circle cx="417.5" cy="469" r="2.5" fill="#b96a46"/><circle cx="517" cy="505.5" r="2.5" fill="#b36f54"/><circle cx="429.5" cy="502.5" r="2.5" fill="#c4745e"/><circle cx="441" cy="523.5" r="2" fill="#b46e50"/><circle cx="515.5" cy="511.5" r="2" fill="#bf725c"/><circle cx="497" cy="480" r="2" fill="#c16b4d"/><circle cx="449.5" cy="516" r="2" fill="#5a6d94"/><circle cx="405.5" cy="540.5" r="2" fill="#c88266"/><circle cx="422.5" cy="560.5" r="2" fill="#587092"/></g>
<circle cx="407" cy="468" r="6" fill="#4a70b0" fill-opacity="0.85" stroke="#faeeee" stroke-opacity="0.4"/>
<circle cx="407.5" cy="468.5" r="3.3" fill="#2a4a88" fill-opacity="0.7"/>
<circle cx="461" cy="474" r="5" fill="#5a80b8" fill-opacity="0.8" stroke="#faeeee" stroke-opacity="0.4"/>
<circle cx="477" cy="478" r="6" fill="#7a90bc" fill-opacity="0.8" stroke="#faeeee" stroke-opacity="0.4"/>
<circle cx="477.5" cy="478.5" r="3.3" fill="#5a6a98" fill-opacity="0.7"/>
<circle cx="498" cy="478" r="5" fill="#8a98c0" fill-opacity="0.8" stroke="#faeeee" stroke-opacity="0.4"/>
<circle cx="512" cy="485" r="5" fill="#4a78b8" fill-opacity="0.85" stroke="#faeeee" stroke-opacity="0.4"/>
<circle cx="455" cy="490" r="5" fill="#5a80b8" fill-opacity="0.8" stroke="#faeeee" stroke-opacity="0.4"/>
<circle cx="435" cy="499" r="5" fill="#8a98c0" fill-opacity="0.8" stroke="#faeeee" stroke-opacity="0.4"/>
<circle cx="421" cy="505" r="7" fill="#8a98c0" fill-opacity="0.8" stroke="#faeeee" stroke-opacity="0.4"/>
<circle cx="421.5" cy="505.5" r="3.9" fill="#5a6a98" fill-opacity="0.7"/>
<circle cx="438" cy="513" r="5" fill="#5a80b8" fill-opacity="0.8" stroke="#faeeee" stroke-opacity="0.4"/>
<circle cx="455" cy="516" r="6" fill="#7a8cbc" fill-opacity="0.8" stroke="#faeeee" stroke-opacity="0.4"/>
<circle cx="455.5" cy="516.5" r="3.3" fill="#5a6a98" fill-opacity="0.7"/>
<circle cx="467" cy="513" r="5" fill="#4a78b8" fill-opacity="0.85" stroke="#faeeee" stroke-opacity="0.4"/>
<circle cx="480" cy="522" r="7" fill="#5a80b8" fill-opacity="0.85" stroke="#faeeee" stroke-opacity="0.4"/>
<circle cx="480.5" cy="522.5" r="3.9" fill="#3a5a90" fill-opacity="0.7"/>
<circle cx="435" cy="535" r="5" fill="#6a88bc" fill-opacity="0.8" stroke="#faeeee" stroke-opacity="0.4"/>
<circle cx="462" cy="549" r="5" fill="#5a80b8" fill-opacity="0.8" stroke="#faeeee" stroke-opacity="0.4"/>
<circle cx="481" cy="548" r="6" fill="#7a90bc" fill-opacity="0.8" stroke="#faeeee" stroke-opacity="0.4"/>
<circle cx="481.5" cy="548.5" r="3.3" fill="#4a6098" fill-opacity="0.7"/>
<circle cx="414" cy="544" r="5" fill="#6a88bc" fill-opacity="0.8" stroke="#faeeee" stroke-opacity="0.4"/>
<circle cx="425" cy="476" r="5" fill="#f08c64" fill-opacity="0.85" stroke="#faeeee" stroke-opacity="0.4"/>
<circle cx="450" cy="501" r="5" fill="#f07a48" fill-opacity="0.9" stroke="#faeeee" stroke-opacity="0.4"/>
<circle cx="407" cy="491" r="5" fill="#f09470" fill-opacity="0.8" stroke="#faeeee" stroke-opacity="0.4"/>
<circle cx="495" cy="515" r="5" fill="#f08a60" fill-opacity="0.8" stroke="#faeeee" stroke-opacity="0.4"/>
<circle cx="501" cy="549" r="7" fill="#f05a28" fill-opacity="0.95" stroke="#faeeee" stroke-opacity="0.4"/>
<circle cx="440" cy="525" r="4" fill="#f0a080" fill-opacity="0.8" stroke="#faeeee" stroke-opacity="0.4"/>
</g>
<path d="M454 464.5H516.5" stroke="#6a4a5a" stroke-opacity="0.16" stroke-width="1"/>
</g>
<text x="395.7" y="582.3" font-size="11.6" text-anchor="middle" >CSF3R protein expression</text>
<path d="M273.3 590.8V758.8" stroke="#111" stroke-width="1.3" fill="none"/>
<path d="M269.5 758.8H518.8" stroke="#111" stroke-width="1.4" fill="none"/>
<path d="M269.3 595.8H273.3" stroke="#111" stroke-width="1.1"/>
<text x="263.8" y="599.3" font-size="10" text-anchor="end" >1.0</text>
<path d="M269.3 677.3H273.3" stroke="#111" stroke-width="1.1"/>
<text x="263.8" y="680.8" font-size="10" text-anchor="end" >0.5</text>
<path d="M269.3 758.8H273.3" stroke="#111" stroke-width="1.1"/>
<text x="263.8" y="762.3" font-size="10" text-anchor="end" >0.0</text>
<path d="M285.0 758.8v3.5" stroke="#111" stroke-width="1.1"/>
<path d="M312.6 758.8v3.5" stroke="#111" stroke-width="1.1"/>
<rect x="276.4" y="678.9" width="6.4" height="79.9" fill="#134a8c"/>
<path d="M279.6 678.9V675.7M277.4 675.7H281.8" stroke="#222" stroke-width="1"/>
<rect x="287.1" y="691.3" width="6.4" height="67.5" fill="#c8102e"/>
<path d="M290.3 691.3V675.7M288.1 675.7H292.5" stroke="#222" stroke-width="1"/>
<text transform="translate(287.6 773.3) rotate(-45)" font-size="10.1" text-anchor="end" >L428</text>
<path d="M340.3 758.8v3.5" stroke="#111" stroke-width="1.1"/>
<path d="M367.9 758.8v3.5" stroke="#111" stroke-width="1.1"/>
<rect x="331.7" y="683.2" width="6.4" height="75.6" fill="#134a8c"/>
<path d="M334.9 683.2V673.1M332.7 673.1H337.1" stroke="#222" stroke-width="1"/>
<rect x="342.4" y="735.2" width="6.4" height="23.6" fill="#c8102e"/>
<path d="M345.6 735.2V729.5M343.4 729.5H347.8" stroke="#222" stroke-width="1"/>
<text transform="translate(342.9 773.3) rotate(-45)" font-size="10.1" text-anchor="end" >L540</text>
<path d="M395.6 758.8v3.5" stroke="#111" stroke-width="1.1"/>
<path d="M423.2 758.8v3.5" stroke="#111" stroke-width="1.1"/>
<rect x="387.0" y="659.9" width="6.4" height="98.9" fill="#134a8c"/>
<path d="M390.2 659.9V656.4M388.0 656.4H392.4" stroke="#222" stroke-width="1"/>
<rect x="397.7" y="682.2" width="6.4" height="76.6" fill="#c8102e"/>
<path d="M400.9 682.2V643.1M398.7 643.1H403.1" stroke="#222" stroke-width="1"/>
<text transform="translate(398.2 773.3) rotate(-45)" font-size="10.1" text-anchor="end" >L1236</text>
<path d="M450.9 758.8v3.5" stroke="#111" stroke-width="1.1"/>
<path d="M478.5 758.8v3.5" stroke="#111" stroke-width="1.1"/>
<rect x="442.3" y="621.1" width="6.4" height="137.7" fill="#134a8c"/>
<path d="M445.5 621.1V609.7M443.3 609.7H447.7" stroke="#222" stroke-width="1"/>
<rect x="453.0" y="705.0" width="6.4" height="53.8" fill="#c8102e"/>
<path d="M456.2 705.0V700.1M454.0 700.1H458.4" stroke="#222" stroke-width="1"/>
<text transform="translate(453.5 773.3) rotate(-45)" font-size="10.1" text-anchor="end" >KMH2</text>
<path d="M506.2 758.8v3.5" stroke="#111" stroke-width="1.1"/>
<rect x="497.6" y="613.2" width="6.4" height="145.6" fill="#134a8c"/>
<path d="M500.8 613.2V605.9M498.6 605.9H503.0" stroke="#222" stroke-width="1"/>
<rect x="508.3" y="633.6" width="6.4" height="125.2" fill="#c8102e"/>
<path d="M511.5 633.6V610.5M509.3 610.5H513.7" stroke="#222" stroke-width="1"/>
<text transform="translate(508.8 773.3) rotate(-45)" font-size="10.1" text-anchor="end" >L591</text>
<path d="M335.3 669.5H345.4" stroke="#111" stroke-width="1"/>
<text x="340.4" y="669.4" font-size="9.5" text-anchor="middle" font-weight="bold" >***</text>
<path d="M445.2 606.5H456" stroke="#111" stroke-width="1"/>
<text x="450.6" y="606.4" font-size="9.5" text-anchor="middle" font-weight="bold" >***</text>
<rect x="307.7" y="595.6" width="14" height="6.7" fill="#134a8c"/>
<rect x="307.7" y="608.5" width="14" height="6.9" fill="#c8102e"/>
<text x="327" y="602.5" font-size="9.5" >0 H</text>
<text x="327" y="615.6" font-size="9.5" >24 H</text>
</svg>
</body></html>
